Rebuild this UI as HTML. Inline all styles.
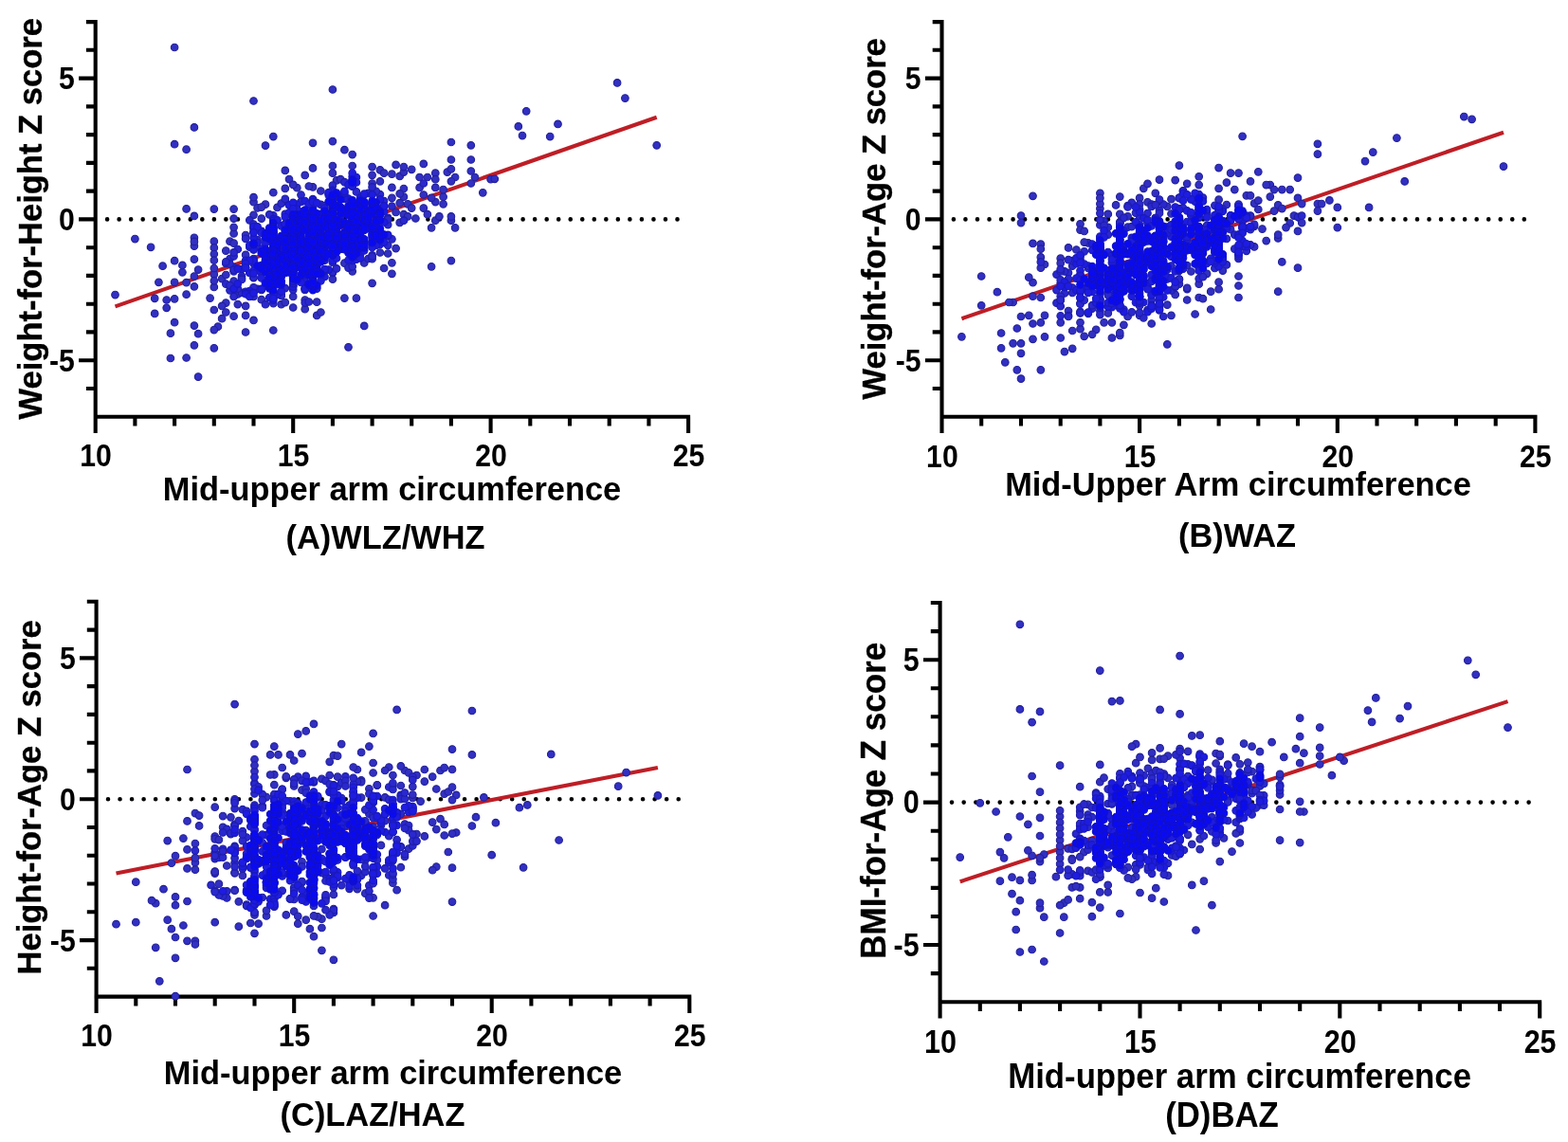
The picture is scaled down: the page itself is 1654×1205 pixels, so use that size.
<!DOCTYPE html>
<html lang="en">
<head>
<meta charset="utf-8">
<title>MUAC versus anthropometric Z scores</title>
<style>
html,body{margin:0;padding:0;background:#fff;}
body{width:1654px;height:1205px;overflow:hidden;}
svg{display:block;}
text{font-family:"Liberation Sans", sans-serif;font-weight:700;fill:#000;stroke:none;}
.tt{font-size:34.4px;}
.tk{font-size:30.2px;}
.yt{stroke:#000;stroke-width:.35px;stroke-linejoin:round;}
.ax{fill:none;stroke:#000;stroke-width:4.1;stroke-linecap:butt;}
.dot{fill:none;stroke:#000;stroke-width:4.6;stroke-linecap:round;}
.reg{stroke:#be1e26;stroke-width:4.1;stroke-linecap:butt;}
.pts circle{stroke-width:1.1;}.c0{fill:#3230c2;stroke:#22209a;}.c1{fill:#2a28ce;stroke:#1e1ea6;}.c2{fill:#1e1ce2;stroke:#1a1ab8;}.c3{fill:#0a0af2;stroke:#1212c8;}
</style>
</head>
<body>
<svg width="1654" height="1205" viewBox="0 0 1654 1205" role="img" aria-label="Scatter plots of mid-upper arm circumference against Z scores">
<rect width="1654" height="1205" fill="#fff"/>
<g id="panelA">
<path class="ax" d="M100.7 21V441.8M98.7 439.7H728.1M100.7 439.7v17.4M142.4 439.7v9.8M184.1 439.7v9.8M225.8 439.7v9.8M267.5 439.7v9.8M309.2 439.7v17.4M350.9 439.7v9.8M392.6 439.7v9.8M434.2 439.7v9.8M475.9 439.7v9.8M517.6 439.7v17.4M559.3 439.7v9.8M601 439.7v9.8M642.7 439.7v9.8M684.4 439.7v9.8M726.1 439.7v17.4M100.7 410h-9.8M100.7 380.2h-17.6M100.7 350.4h-9.8M100.7 320.7h-9.8M100.7 290.9h-9.8M100.7 261.2h-9.8M100.7 231.4h-17.6M100.7 201.6h-9.8M100.7 171.9h-9.8M100.7 142.1h-9.8M100.7 112.4h-9.8M100.7 82.6h-17.6M100.7 52.8h-9.8M100.7 23.1h-9.8"/>
<path class="dot" d="M113.10 231.4H715.10" stroke-dasharray="0 12.5292"/>
<line class="reg" x1="121.5" y1="323.4" x2="692.7" y2="123.7"/>
<g class="pts">
<g class="c0"><circle cx="367.5" cy="366.3" r="3.8"/><circle cx="330" cy="177.4" r="3.8"/><circle cx="184.1" cy="297.8" r="3.8"/><circle cx="175.7" cy="324.8" r="3.8"/><circle cx="159.1" cy="260.8" r="3.8"/><circle cx="267.5" cy="106.5" r="3.8"/><circle cx="375.9" cy="314.6" r="3.8"/><circle cx="459.3" cy="182.7" r="3.8"/><circle cx="501" cy="187" r="3.8"/><circle cx="459.3" cy="189.2" r="3.8"/><circle cx="546.8" cy="133.4" r="3.8"/><circle cx="246.6" cy="333.7" r="3.8"/><circle cx="196.6" cy="377.5" r="3.8"/><circle cx="321.7" cy="184.9" r="3.8"/><circle cx="238.3" cy="319.6" r="3.8"/><circle cx="446.8" cy="205.5" r="3.8"/><circle cx="234.1" cy="322.9" r="3.8"/><circle cx="300.8" cy="179.9" r="3.8"/><circle cx="292.5" cy="218.9" r="3.8"/><circle cx="196.6" cy="310.7" r="3.8"/><circle cx="225.8" cy="254.7" r="3.8"/><circle cx="234.1" cy="294.1" r="3.8"/><circle cx="225.8" cy="327" r="3.8"/><circle cx="350.9" cy="294.6" r="3.8"/><circle cx="121.5" cy="311.1" r="3.8"/><circle cx="204.9" cy="273.6" r="3.8"/><circle cx="425.9" cy="199" r="3.8"/><circle cx="288.3" cy="348.5" r="3.8"/><circle cx="267.5" cy="213.2" r="3.8"/><circle cx="196.6" cy="298.2" r="3.8"/><circle cx="371.7" cy="286.3" r="3.8"/><circle cx="467.6" cy="207.7" r="3.8"/><circle cx="425.9" cy="207.7" r="3.8"/><circle cx="271.6" cy="219.4" r="3.8"/><circle cx="275.8" cy="230.6" r="3.8"/><circle cx="196.6" cy="220.4" r="3.8"/><circle cx="413.4" cy="197.9" r="3.8"/><circle cx="192.4" cy="287.3" r="3.8"/><circle cx="246.6" cy="230.6" r="3.8"/><circle cx="580.2" cy="144.1" r="3.8"/><circle cx="175.7" cy="316.5" r="3.8"/><circle cx="413.4" cy="277.3" r="3.8"/><circle cx="225.8" cy="220.6" r="3.8"/><circle cx="421.7" cy="234.9" r="3.8"/><circle cx="204.9" cy="343.6" r="3.8"/><circle cx="517.6" cy="189.2" r="3.8"/><circle cx="296.7" cy="321.2" r="3.8"/><circle cx="179.9" cy="351.7" r="3.8"/><circle cx="400.9" cy="179.4" r="3.8"/><circle cx="392.6" cy="193.5" r="3.8"/><circle cx="259.1" cy="322.9" r="3.8"/><circle cx="459.3" cy="213.1" r="3.8"/><circle cx="167.4" cy="297.8" r="3.8"/><circle cx="475.9" cy="232.7" r="3.8"/><circle cx="421.7" cy="204.4" r="3.8"/><circle cx="330" cy="197.4" r="3.8"/><circle cx="475.9" cy="168.5" r="3.8"/><circle cx="521.8" cy="188.8" r="3.8"/><circle cx="204.9" cy="302.3" r="3.8"/><circle cx="413.4" cy="183.7" r="3.8"/><circle cx="321.7" cy="316.5" r="3.8"/><circle cx="471.8" cy="181.6" r="3.8"/><circle cx="438.4" cy="230.5" r="3.8"/><circle cx="496.8" cy="153.3" r="3.8"/><circle cx="496.8" cy="193.5" r="3.8"/><circle cx="192.4" cy="279.9" r="3.8"/><circle cx="229.9" cy="344.7" r="3.8"/><circle cx="363.4" cy="314.6" r="3.8"/><circle cx="309.2" cy="324.5" r="3.8"/><circle cx="225.8" cy="348.1" r="3.8"/><circle cx="267.5" cy="337.9" r="3.8"/><circle cx="184.1" cy="50" r="3.8"/><circle cx="409.2" cy="267.5" r="3.8"/><circle cx="267.5" cy="226.8" r="3.8"/><circle cx="334.2" cy="332.9" r="3.8"/><circle cx="659.4" cy="103.6" r="3.8"/><circle cx="163.2" cy="330.9" r="3.8"/><circle cx="234.1" cy="336.2" r="3.8"/><circle cx="184.1" cy="340.2" r="3.8"/><circle cx="204.9" cy="364.3" r="3.8"/><circle cx="480.1" cy="240.3" r="3.8"/><circle cx="430.1" cy="215.3" r="3.8"/><circle cx="163.2" cy="314.8" r="3.8"/><circle cx="692.7" cy="153.3" r="3.8"/><circle cx="238.3" cy="264.6" r="3.8"/><circle cx="475.9" cy="150" r="3.8"/><circle cx="350.9" cy="149.1" r="3.8"/><circle cx="417.6" cy="224" r="3.8"/><circle cx="455.1" cy="281.3" r="3.8"/><circle cx="325.8" cy="196.5" r="3.8"/><circle cx="459.3" cy="232.7" r="3.8"/><circle cx="434.2" cy="219.6" r="3.8"/><circle cx="225.8" cy="261.4" r="3.8"/><circle cx="400.9" cy="266.5" r="3.8"/><circle cx="309.2" cy="312.9" r="3.8"/><circle cx="225.8" cy="289.6" r="3.8"/><circle cx="221.6" cy="314.6" r="3.8"/><circle cx="350.9" cy="94.5" r="3.8"/><circle cx="242.5" cy="254.7" r="3.8"/><circle cx="305" cy="189.1" r="3.8"/><circle cx="475.9" cy="228.4" r="3.8"/><circle cx="179.9" cy="378" r="3.8"/><circle cx="334.2" cy="318.7" r="3.8"/><circle cx="392.6" cy="176.1" r="3.8"/><circle cx="363.4" cy="158.2" r="3.8"/><circle cx="392.6" cy="184.8" r="3.8"/><circle cx="371.7" cy="175" r="3.8"/><circle cx="496.8" cy="180.5" r="3.8"/><circle cx="446.8" cy="172.9" r="3.8"/><circle cx="275.8" cy="316.2" r="3.8"/><circle cx="204.9" cy="259.6" r="3.8"/><circle cx="355" cy="190.3" r="3.8"/><circle cx="446.8" cy="219.6" r="3.8"/><circle cx="171.6" cy="280.7" r="3.8"/><circle cx="204.9" cy="227.9" r="3.8"/><circle cx="225.8" cy="283" r="3.8"/><circle cx="405.1" cy="182.7" r="3.8"/><circle cx="209.1" cy="284.6" r="3.8"/><circle cx="204.9" cy="250.8" r="3.8"/><circle cx="555.2" cy="117.3" r="3.8"/><circle cx="288.3" cy="203.2" r="3.8"/><circle cx="238.3" cy="329.5" r="3.8"/><circle cx="421.7" cy="185.9" r="3.8"/><circle cx="359.2" cy="189.2" r="3.8"/><circle cx="184.1" cy="315.3" r="3.8"/><circle cx="142.4" cy="252.1" r="3.8"/><circle cx="450.9" cy="187" r="3.8"/><circle cx="384.2" cy="343.9" r="3.8"/><circle cx="467.6" cy="200.1" r="3.8"/><circle cx="551" cy="143.1" r="3.8"/><circle cx="280" cy="153.6" r="3.8"/><circle cx="313.3" cy="198.2" r="3.8"/><circle cx="225.8" cy="302.9" r="3.8"/><circle cx="480.1" cy="187" r="3.8"/><circle cx="442.6" cy="187" r="3.8"/><circle cx="259.1" cy="350.5" r="3.8"/><circle cx="238.3" cy="290" r="3.8"/><circle cx="321.7" cy="326.2" r="3.8"/><circle cx="421.7" cy="214.2" r="3.8"/><circle cx="246.6" cy="246.4" r="3.8"/><circle cx="246.6" cy="256.7" r="3.8"/><circle cx="425.9" cy="181.6" r="3.8"/><circle cx="455.1" cy="240.3" r="3.8"/><circle cx="496.8" cy="168.5" r="3.8"/><circle cx="417.6" cy="262.1" r="3.8"/><circle cx="338.4" cy="201.5" r="3.8"/><circle cx="425.9" cy="226.2" r="3.8"/><circle cx="267.5" cy="208.2" r="3.8"/><circle cx="371.7" cy="163.1" r="3.8"/><circle cx="475.9" cy="191.3" r="3.8"/><circle cx="392.6" cy="298.8" r="3.8"/><circle cx="434.2" cy="178.8" r="3.8"/><circle cx="330" cy="150.8" r="3.8"/><circle cx="250.8" cy="321.1" r="3.8"/><circle cx="588.5" cy="130.9" r="3.8"/><circle cx="338.4" cy="329.5" r="3.8"/><circle cx="350.9" cy="175" r="3.8"/><circle cx="463.4" cy="228.4" r="3.8"/><circle cx="442.6" cy="197.9" r="3.8"/><circle cx="350.9" cy="182.7" r="3.8"/><circle cx="467.6" cy="215.3" r="3.8"/><circle cx="259.1" cy="332.9" r="3.8"/><circle cx="509.3" cy="203.3" r="3.8"/><circle cx="259.1" cy="248.1" r="3.8"/><circle cx="184.1" cy="152.2" r="3.8"/><circle cx="204.9" cy="291.5" r="3.8"/><circle cx="246.6" cy="220.6" r="3.8"/><circle cx="280" cy="215.7" r="3.8"/><circle cx="309.2" cy="194.9" r="3.8"/><circle cx="400.9" cy="191.3" r="3.8"/><circle cx="475.9" cy="178.3" r="3.8"/><circle cx="259.1" cy="268.9" r="3.8"/><circle cx="225.8" cy="268" r="3.8"/><circle cx="413.4" cy="288.8" r="3.8"/><circle cx="475.9" cy="275.1" r="3.8"/><circle cx="209.1" cy="352.2" r="3.8"/><circle cx="275.8" cy="218.6" r="3.8"/><circle cx="363.4" cy="277.7" r="3.8"/><circle cx="450.9" cy="226.2" r="3.8"/><circle cx="300.8" cy="319.1" r="3.8"/><circle cx="651.1" cy="87.4" r="3.8"/><circle cx="209.1" cy="397.6" r="3.8"/><circle cx="225.8" cy="367.3" r="3.8"/><circle cx="425.9" cy="176.1" r="3.8"/><circle cx="430.1" cy="228.4" r="3.8"/><circle cx="300.8" cy="198.9" r="3.8"/><circle cx="196.6" cy="157.7" r="3.8"/><circle cx="184.1" cy="275.2" r="3.8"/><circle cx="225.8" cy="274.7" r="3.8"/><circle cx="384.2" cy="277.5" r="3.8"/><circle cx="455.1" cy="208.8" r="3.8"/><circle cx="204.9" cy="134.4" r="3.8"/><circle cx="417.6" cy="173.9" r="3.8"/><circle cx="413.4" cy="208.8" r="3.8"/><circle cx="246.6" cy="239.8" r="3.8"/><circle cx="225.8" cy="296.3" r="3.8"/><circle cx="288.3" cy="144.1" r="3.8"/><circle cx="204.9" cy="254.9" r="3.8"/><circle cx="405.1" cy="283" r="3.8"/><circle cx="459.3" cy="197.9" r="3.8"/></g><g class="c1"><circle cx="242.5" cy="273" r="3.8"/><circle cx="409.2" cy="258.8" r="3.8"/><circle cx="250.8" cy="310.3" r="3.8"/><circle cx="400.9" cy="205.2" r="3.8"/><circle cx="246.6" cy="286.3" r="3.8"/><circle cx="296.7" cy="311.2" r="3.8"/><circle cx="267.5" cy="293.2" r="3.8"/><circle cx="338.4" cy="215.9" r="3.8"/><circle cx="280" cy="321.2" r="3.8"/><circle cx="300.8" cy="225.9" r="3.8"/><circle cx="263.3" cy="232.3" r="3.8"/><circle cx="288.3" cy="227.3" r="3.8"/><circle cx="259.1" cy="251.8" r="3.8"/><circle cx="246.6" cy="296.7" r="3.8"/><circle cx="246.6" cy="312.9" r="3.8"/><circle cx="246.6" cy="270.3" r="3.8"/><circle cx="321.7" cy="319.6" r="3.8"/><circle cx="321.7" cy="306" r="3.8"/><circle cx="363.4" cy="192.2" r="3.8"/><circle cx="246.6" cy="282.2" r="3.8"/><circle cx="317.5" cy="205.6" r="3.8"/><circle cx="350.9" cy="287.8" r="3.8"/><circle cx="405.1" cy="212" r="3.8"/><circle cx="267.5" cy="292.7" r="3.8"/><circle cx="300.8" cy="212.4" r="3.8"/><circle cx="267.5" cy="273.1" r="3.8"/><circle cx="392.6" cy="269.4" r="3.8"/><circle cx="396.7" cy="201.8" r="3.8"/><circle cx="409.2" cy="229.9" r="3.8"/><circle cx="250.8" cy="263" r="3.8"/><circle cx="267.5" cy="236.7" r="3.8"/><circle cx="388.4" cy="203.9" r="3.8"/><circle cx="388.4" cy="273" r="3.8"/><circle cx="325.8" cy="318.5" r="3.8"/><circle cx="275.8" cy="305.9" r="3.8"/><circle cx="238.3" cy="278" r="3.8"/><circle cx="446.8" cy="193.5" r="3.8"/><circle cx="375.9" cy="202.4" r="3.8"/><circle cx="255" cy="308.8" r="3.8"/><circle cx="350.9" cy="287" r="3.8"/><circle cx="284.2" cy="226.4" r="3.8"/><circle cx="392.6" cy="273.2" r="3.8"/><circle cx="242.5" cy="278.7" r="3.8"/><circle cx="367.5" cy="282.6" r="3.8"/><circle cx="238.3" cy="299.6" r="3.8"/><circle cx="413.4" cy="217.5" r="3.8"/><circle cx="392.6" cy="270.5" r="3.8"/><circle cx="250.8" cy="304.5" r="3.8"/><circle cx="296.7" cy="312" r="3.8"/><circle cx="425.9" cy="232.7" r="3.8"/><circle cx="409.2" cy="237.1" r="3.8"/><circle cx="330" cy="210.2" r="3.8"/><circle cx="267.5" cy="241" r="3.8"/><circle cx="392.6" cy="197.4" r="3.8"/><circle cx="255" cy="291.3" r="3.8"/><circle cx="238.3" cy="276.4" r="3.8"/><circle cx="342.5" cy="217.2" r="3.8"/><circle cx="350.9" cy="195.7" r="3.8"/><circle cx="255" cy="293.6" r="3.8"/><circle cx="271.6" cy="253.2" r="3.8"/><circle cx="371.7" cy="281.3" r="3.8"/><circle cx="296.7" cy="214.7" r="3.8"/><circle cx="309.2" cy="216.5" r="3.8"/><circle cx="242.5" cy="306.3" r="3.8"/><circle cx="271.6" cy="304.8" r="3.8"/><circle cx="300.8" cy="304.1" r="3.8"/><circle cx="350.9" cy="277" r="3.8"/><circle cx="309.2" cy="305.8" r="3.8"/><circle cx="409.2" cy="231.4" r="3.8"/><circle cx="288.3" cy="320.2" r="3.8"/><circle cx="246.6" cy="284.7" r="3.8"/><circle cx="355" cy="283.4" r="3.8"/><circle cx="317.5" cy="212.9" r="3.8"/><circle cx="300.8" cy="209.8" r="3.8"/><circle cx="267.5" cy="312.9" r="3.8"/><circle cx="413.4" cy="252.3" r="3.8"/><circle cx="267.5" cy="303.3" r="3.8"/><circle cx="246.6" cy="266.4" r="3.8"/><circle cx="242.5" cy="301.2" r="3.8"/><circle cx="255" cy="294.9" r="3.8"/></g><g class="c2"><circle cx="400.9" cy="256.6" r="3.8"/><circle cx="400.9" cy="257.9" r="3.8"/><circle cx="296.7" cy="238.3" r="3.8"/><circle cx="280" cy="251.5" r="3.8"/><circle cx="371.7" cy="214.2" r="3.8"/><circle cx="259.1" cy="307.8" r="3.8"/><circle cx="288.3" cy="316.7" r="3.8"/><circle cx="321.7" cy="292.2" r="3.8"/><circle cx="330" cy="219.9" r="3.8"/><circle cx="346.7" cy="204.2" r="3.8"/><circle cx="409.2" cy="249" r="3.8"/><circle cx="350.9" cy="200.9" r="3.8"/><circle cx="292.5" cy="310.8" r="3.8"/><circle cx="371.7" cy="186.3" r="3.8"/><circle cx="271.6" cy="256.1" r="3.8"/><circle cx="342.5" cy="292" r="3.8"/><circle cx="288.3" cy="309" r="3.8"/><circle cx="405.1" cy="223.2" r="3.8"/><circle cx="400.9" cy="210.4" r="3.8"/><circle cx="405.1" cy="234.5" r="3.8"/><circle cx="342.5" cy="274.7" r="3.8"/><circle cx="371.7" cy="196.6" r="3.8"/><circle cx="275.8" cy="286.5" r="3.8"/><circle cx="392.6" cy="258.2" r="3.8"/><circle cx="280" cy="297.4" r="3.8"/><circle cx="330" cy="211.9" r="3.8"/><circle cx="263.3" cy="260.7" r="3.8"/><circle cx="300.8" cy="236.8" r="3.8"/><circle cx="288.3" cy="231.1" r="3.8"/><circle cx="405.1" cy="255.6" r="3.8"/><circle cx="263.3" cy="307" r="3.8"/><circle cx="259.1" cy="282.3" r="3.8"/><circle cx="396.7" cy="258.9" r="3.8"/><circle cx="305" cy="224.3" r="3.8"/><circle cx="346.7" cy="205.8" r="3.8"/><circle cx="392.6" cy="254.8" r="3.8"/><circle cx="288.3" cy="310.7" r="3.8"/><circle cx="284.2" cy="314.1" r="3.8"/><circle cx="338.4" cy="296.3" r="3.8"/><circle cx="367.5" cy="195" r="3.8"/><circle cx="309.2" cy="301.3" r="3.8"/><circle cx="321.7" cy="304.2" r="3.8"/><circle cx="375.9" cy="187.1" r="3.8"/><circle cx="275.8" cy="243.9" r="3.8"/><circle cx="267.5" cy="262.8" r="3.8"/><circle cx="267.5" cy="244.9" r="3.8"/><circle cx="371.7" cy="182.7" r="3.8"/><circle cx="267.5" cy="278.2" r="3.8"/><circle cx="275.8" cy="288.1" r="3.8"/><circle cx="313.3" cy="215.8" r="3.8"/><circle cx="259.1" cy="274.9" r="3.8"/><circle cx="321.7" cy="304.6" r="3.8"/><circle cx="255" cy="284" r="3.8"/><circle cx="359.2" cy="207.3" r="3.8"/><circle cx="300.8" cy="229" r="3.8"/><circle cx="275.8" cy="245.7" r="3.8"/><circle cx="367.5" cy="209.5" r="3.8"/><circle cx="392.6" cy="261" r="3.8"/><circle cx="330" cy="210.5" r="3.8"/><circle cx="342.5" cy="219.6" r="3.8"/><circle cx="271.6" cy="285.2" r="3.8"/><circle cx="280" cy="256.4" r="3.8"/><circle cx="263.3" cy="288" r="3.8"/><circle cx="267.5" cy="239.2" r="3.8"/><circle cx="405.1" cy="217.4" r="3.8"/><circle cx="288.3" cy="232.8" r="3.8"/><circle cx="292.5" cy="232.3" r="3.8"/><circle cx="300.8" cy="236.4" r="3.8"/><circle cx="309.2" cy="300.4" r="3.8"/><circle cx="275.8" cy="262.6" r="3.8"/><circle cx="371.7" cy="274.9" r="3.8"/><circle cx="375.9" cy="273.7" r="3.8"/><circle cx="392.6" cy="205.4" r="3.8"/><circle cx="405.1" cy="217.5" r="3.8"/><circle cx="263.3" cy="310.1" r="3.8"/><circle cx="267.5" cy="263.5" r="3.8"/><circle cx="380" cy="268.5" r="3.8"/><circle cx="321.7" cy="212.1" r="3.8"/><circle cx="309.2" cy="302.6" r="3.8"/><circle cx="380" cy="208.5" r="3.8"/><circle cx="288.3" cy="315" r="3.8"/><circle cx="384.2" cy="205.5" r="3.8"/><circle cx="267.5" cy="260.6" r="3.8"/><circle cx="350.9" cy="202.8" r="3.8"/><circle cx="338.4" cy="225.9" r="3.8"/><circle cx="267.5" cy="285.5" r="3.8"/><circle cx="350.9" cy="275.1" r="3.8"/><circle cx="317.5" cy="223.5" r="3.8"/><circle cx="380" cy="272.5" r="3.8"/><circle cx="363.4" cy="210" r="3.8"/><circle cx="246.6" cy="304.8" r="3.8"/><circle cx="363.4" cy="208.9" r="3.8"/><circle cx="321.7" cy="296.9" r="3.8"/><circle cx="313.3" cy="220.8" r="3.8"/><circle cx="280" cy="301.5" r="3.8"/><circle cx="409.2" cy="247.9" r="3.8"/><circle cx="267.5" cy="274.3" r="3.8"/><circle cx="325.8" cy="215.6" r="3.8"/><circle cx="342.5" cy="285.4" r="3.8"/><circle cx="250.8" cy="283.7" r="3.8"/><circle cx="275.8" cy="293.3" r="3.8"/><circle cx="259.1" cy="310.2" r="3.8"/><circle cx="267.5" cy="263.1" r="3.8"/><circle cx="250.8" cy="299.6" r="3.8"/><circle cx="334.2" cy="303" r="3.8"/><circle cx="271.6" cy="239.4" r="3.8"/><circle cx="267.5" cy="275.3" r="3.8"/><circle cx="317.5" cy="298" r="3.8"/><circle cx="375.9" cy="192.4" r="3.8"/><circle cx="367.5" cy="274.5" r="3.8"/><circle cx="305" cy="216.4" r="3.8"/><circle cx="346.7" cy="284.6" r="3.8"/><circle cx="359.2" cy="207.2" r="3.8"/><circle cx="363.4" cy="203.9" r="3.8"/><circle cx="267.5" cy="250.9" r="3.8"/><circle cx="363.4" cy="201.8" r="3.8"/><circle cx="338.4" cy="290" r="3.8"/><circle cx="263.3" cy="274.9" r="3.8"/><circle cx="355" cy="272.5" r="3.8"/><circle cx="263.3" cy="258.7" r="3.8"/><circle cx="267.5" cy="288.4" r="3.8"/><circle cx="334.2" cy="304.6" r="3.8"/><circle cx="259.1" cy="278" r="3.8"/><circle cx="342.5" cy="284.8" r="3.8"/><circle cx="267.5" cy="245.4" r="3.8"/><circle cx="384.2" cy="264.3" r="3.8"/><circle cx="330" cy="213.1" r="3.8"/><circle cx="259.1" cy="282.6" r="3.8"/><circle cx="359.2" cy="231.7" r="3.8"/><circle cx="275.8" cy="304.9" r="3.8"/><circle cx="309.2" cy="299.1" r="3.8"/><circle cx="346.7" cy="203.2" r="3.8"/><circle cx="296.7" cy="307.4" r="3.8"/><circle cx="342.5" cy="284.1" r="3.8"/><circle cx="263.3" cy="312.9" r="3.8"/><circle cx="334.2" cy="214.2" r="3.8"/><circle cx="384.2" cy="204.7" r="3.8"/><circle cx="309.2" cy="213.9" r="3.8"/><circle cx="267.5" cy="309.2" r="3.8"/><circle cx="309.2" cy="220.3" r="3.8"/><circle cx="309.2" cy="296.6" r="3.8"/><circle cx="392.6" cy="250.8" r="3.8"/><circle cx="371.7" cy="196.3" r="3.8"/></g><g class="c3"><circle cx="288.3" cy="235.3" r="3.8"/><circle cx="371.7" cy="211.4" r="3.8"/><circle cx="359.2" cy="257.2" r="3.8"/><circle cx="330" cy="276.1" r="3.8"/><circle cx="338.4" cy="251.6" r="3.8"/><circle cx="309.2" cy="266.2" r="3.8"/><circle cx="296.7" cy="255.2" r="3.8"/><circle cx="288.3" cy="270.9" r="3.8"/><circle cx="334.2" cy="264.6" r="3.8"/><circle cx="321.7" cy="237.6" r="3.8"/><circle cx="317.5" cy="283" r="3.8"/><circle cx="380" cy="228.6" r="3.8"/><circle cx="330" cy="242.9" r="3.8"/><circle cx="371.7" cy="238.6" r="3.8"/><circle cx="355" cy="249.4" r="3.8"/><circle cx="359.2" cy="250.9" r="3.8"/><circle cx="371.7" cy="238.8" r="3.8"/><circle cx="313.3" cy="226.5" r="3.8"/><circle cx="350.9" cy="269.2" r="3.8"/><circle cx="330" cy="274.6" r="3.8"/><circle cx="334.2" cy="256" r="3.8"/><circle cx="309.2" cy="247.5" r="3.8"/><circle cx="350.9" cy="248" r="3.8"/><circle cx="371.7" cy="237.1" r="3.8"/><circle cx="330" cy="306.1" r="3.8"/><circle cx="317.5" cy="226.1" r="3.8"/><circle cx="380" cy="254.1" r="3.8"/><circle cx="334.2" cy="246.4" r="3.8"/><circle cx="317.5" cy="242.9" r="3.8"/><circle cx="375.9" cy="244.3" r="3.8"/><circle cx="400.9" cy="249.3" r="3.8"/><circle cx="350.9" cy="252.9" r="3.8"/><circle cx="288.3" cy="289.5" r="3.8"/><circle cx="321.7" cy="278.1" r="3.8"/><circle cx="330" cy="299.5" r="3.8"/><circle cx="363.4" cy="257.6" r="3.8"/><circle cx="288.3" cy="272.8" r="3.8"/><circle cx="350.9" cy="264.4" r="3.8"/><circle cx="296.7" cy="292" r="3.8"/><circle cx="388.4" cy="233" r="3.8"/><circle cx="359.2" cy="219.3" r="3.8"/><circle cx="350.9" cy="229" r="3.8"/><circle cx="300.8" cy="273.9" r="3.8"/><circle cx="309.2" cy="262.7" r="3.8"/><circle cx="350.9" cy="250.7" r="3.8"/><circle cx="305" cy="274.5" r="3.8"/><circle cx="330" cy="244.8" r="3.8"/><circle cx="350.9" cy="254" r="3.8"/><circle cx="309.2" cy="226.4" r="3.8"/><circle cx="309.2" cy="232.1" r="3.8"/><circle cx="400.9" cy="231.5" r="3.8"/><circle cx="317.5" cy="260.2" r="3.8"/><circle cx="325.8" cy="249.3" r="3.8"/><circle cx="363.4" cy="250.4" r="3.8"/><circle cx="321.7" cy="255.7" r="3.8"/><circle cx="350.9" cy="256" r="3.8"/><circle cx="313.3" cy="279.9" r="3.8"/><circle cx="309.2" cy="268.3" r="3.8"/><circle cx="330" cy="251.9" r="3.8"/><circle cx="284.2" cy="280.8" r="3.8"/><circle cx="330" cy="285.4" r="3.8"/><circle cx="346.7" cy="254.5" r="3.8"/><circle cx="338.4" cy="267.8" r="3.8"/><circle cx="321.7" cy="264.3" r="3.8"/><circle cx="309.2" cy="245.1" r="3.8"/><circle cx="309.2" cy="285.1" r="3.8"/><circle cx="371.7" cy="237.1" r="3.8"/><circle cx="292.5" cy="295.8" r="3.8"/><circle cx="371.7" cy="243.1" r="3.8"/><circle cx="346.7" cy="247.8" r="3.8"/><circle cx="309.2" cy="252.5" r="3.8"/><circle cx="325.8" cy="226.5" r="3.8"/><circle cx="275.8" cy="280.1" r="3.8"/><circle cx="371.7" cy="243.7" r="3.8"/><circle cx="346.7" cy="253.3" r="3.8"/><circle cx="292.5" cy="298.3" r="3.8"/><circle cx="313.3" cy="249.8" r="3.8"/><circle cx="309.2" cy="281.2" r="3.8"/><circle cx="367.5" cy="244.8" r="3.8"/><circle cx="321.7" cy="266.3" r="3.8"/><circle cx="288.3" cy="292.6" r="3.8"/><circle cx="396.7" cy="238.1" r="3.8"/><circle cx="309.2" cy="287.3" r="3.8"/><circle cx="396.7" cy="213.6" r="3.8"/><circle cx="292.5" cy="263.7" r="3.8"/><circle cx="396.7" cy="232.1" r="3.8"/><circle cx="313.3" cy="252.9" r="3.8"/><circle cx="309.2" cy="261.8" r="3.8"/><circle cx="371.7" cy="227.3" r="3.8"/><circle cx="309.2" cy="275.2" r="3.8"/><circle cx="371.7" cy="236.9" r="3.8"/><circle cx="321.7" cy="272.4" r="3.8"/><circle cx="342.5" cy="232.1" r="3.8"/><circle cx="309.2" cy="253.7" r="3.8"/><circle cx="288.3" cy="299.1" r="3.8"/><circle cx="350.9" cy="220.3" r="3.8"/><circle cx="325.8" cy="241.9" r="3.8"/><circle cx="288.3" cy="272" r="3.8"/><circle cx="309.2" cy="294.2" r="3.8"/><circle cx="330" cy="252.7" r="3.8"/><circle cx="359.2" cy="237.4" r="3.8"/><circle cx="346.7" cy="257.8" r="3.8"/><circle cx="371.7" cy="254.2" r="3.8"/><circle cx="288.3" cy="277.5" r="3.8"/><circle cx="330" cy="232.8" r="3.8"/><circle cx="309.2" cy="255.1" r="3.8"/><circle cx="330" cy="278" r="3.8"/><circle cx="338.4" cy="252.3" r="3.8"/><circle cx="342.5" cy="272.1" r="3.8"/><circle cx="346.7" cy="237.6" r="3.8"/><circle cx="309.2" cy="260.1" r="3.8"/><circle cx="305" cy="287.3" r="3.8"/><circle cx="330" cy="274.2" r="3.8"/><circle cx="350.9" cy="215.5" r="3.8"/><circle cx="288.3" cy="291.6" r="3.8"/><circle cx="325.8" cy="254.5" r="3.8"/><circle cx="338.4" cy="259.2" r="3.8"/><circle cx="350.9" cy="237.4" r="3.8"/><circle cx="317.5" cy="268.9" r="3.8"/><circle cx="288.3" cy="256" r="3.8"/><circle cx="330" cy="301.3" r="3.8"/><circle cx="288.3" cy="247.4" r="3.8"/><circle cx="313.3" cy="282.2" r="3.8"/><circle cx="371.7" cy="190.3" r="3.8"/><circle cx="292.5" cy="298.8" r="3.8"/><circle cx="330" cy="282.6" r="3.8"/><circle cx="380" cy="212.2" r="3.8"/><circle cx="355" cy="217.4" r="3.8"/><circle cx="288.3" cy="262.8" r="3.8"/><circle cx="371.7" cy="251.5" r="3.8"/><circle cx="350.9" cy="244" r="3.8"/><circle cx="367.5" cy="247.2" r="3.8"/><circle cx="371.7" cy="235.6" r="3.8"/><circle cx="380" cy="250.2" r="3.8"/><circle cx="309.2" cy="287.5" r="3.8"/><circle cx="375.9" cy="215.7" r="3.8"/><circle cx="330" cy="278.6" r="3.8"/><circle cx="346.7" cy="253.3" r="3.8"/><circle cx="296.7" cy="274" r="3.8"/><circle cx="371.7" cy="262.3" r="3.8"/><circle cx="350.9" cy="269.3" r="3.8"/><circle cx="367.5" cy="241.8" r="3.8"/><circle cx="288.3" cy="266.8" r="3.8"/><circle cx="317.5" cy="262.9" r="3.8"/><circle cx="292.5" cy="257.7" r="3.8"/><circle cx="267.5" cy="258.1" r="3.8"/><circle cx="325.8" cy="258.5" r="3.8"/><circle cx="392.6" cy="239.7" r="3.8"/><circle cx="288.3" cy="287.9" r="3.8"/><circle cx="338.4" cy="259.8" r="3.8"/><circle cx="313.3" cy="265.8" r="3.8"/><circle cx="330" cy="294.2" r="3.8"/><circle cx="288.3" cy="283.7" r="3.8"/><circle cx="296.7" cy="268.5" r="3.8"/><circle cx="309.2" cy="244.1" r="3.8"/><circle cx="317.5" cy="249.8" r="3.8"/><circle cx="388.4" cy="234.6" r="3.8"/><circle cx="309.2" cy="269.5" r="3.8"/><circle cx="313.3" cy="261.8" r="3.8"/><circle cx="284.2" cy="281.4" r="3.8"/><circle cx="321.7" cy="271.8" r="3.8"/><circle cx="288.3" cy="243.9" r="3.8"/><circle cx="392.6" cy="238.8" r="3.8"/><circle cx="375.9" cy="241.6" r="3.8"/><circle cx="313.3" cy="276.7" r="3.8"/><circle cx="309.2" cy="251.5" r="3.8"/><circle cx="350.9" cy="249.8" r="3.8"/><circle cx="330" cy="256.8" r="3.8"/><circle cx="309.2" cy="277.7" r="3.8"/><circle cx="350.9" cy="214.7" r="3.8"/><circle cx="392.6" cy="225.3" r="3.8"/><circle cx="330" cy="239" r="3.8"/><circle cx="309.2" cy="264.4" r="3.8"/><circle cx="384.2" cy="261.3" r="3.8"/><circle cx="350.9" cy="246" r="3.8"/><circle cx="309.2" cy="292.3" r="3.8"/><circle cx="342.5" cy="249.2" r="3.8"/><circle cx="350.9" cy="250.9" r="3.8"/><circle cx="330" cy="250.3" r="3.8"/><circle cx="305" cy="271.3" r="3.8"/><circle cx="309.2" cy="229.2" r="3.8"/><circle cx="296.7" cy="300.3" r="3.8"/><circle cx="280" cy="246.3" r="3.8"/><circle cx="267.5" cy="256.8" r="3.8"/><circle cx="325.8" cy="278.2" r="3.8"/><circle cx="346.7" cy="240.8" r="3.8"/><circle cx="346.7" cy="243.8" r="3.8"/><circle cx="280" cy="250.3" r="3.8"/><circle cx="330" cy="291.9" r="3.8"/><circle cx="284.2" cy="266.4" r="3.8"/><circle cx="292.5" cy="296.6" r="3.8"/><circle cx="371.7" cy="243.9" r="3.8"/><circle cx="309.2" cy="232.9" r="3.8"/><circle cx="330" cy="299.3" r="3.8"/><circle cx="325.8" cy="226.6" r="3.8"/><circle cx="350.9" cy="239.3" r="3.8"/><circle cx="380" cy="223.5" r="3.8"/><circle cx="388.4" cy="241.2" r="3.8"/><circle cx="363.4" cy="247.6" r="3.8"/><circle cx="363.4" cy="245.5" r="3.8"/><circle cx="321.7" cy="254.5" r="3.8"/><circle cx="359.2" cy="247.9" r="3.8"/><circle cx="350.9" cy="214.8" r="3.8"/><circle cx="330" cy="229" r="3.8"/><circle cx="317.5" cy="259.8" r="3.8"/><circle cx="330" cy="267.7" r="3.8"/><circle cx="288.3" cy="237.7" r="3.8"/><circle cx="396.7" cy="240.9" r="3.8"/><circle cx="359.2" cy="234" r="3.8"/><circle cx="288.3" cy="256.9" r="3.8"/><circle cx="350.9" cy="225.7" r="3.8"/><circle cx="384.2" cy="243" r="3.8"/><circle cx="342.5" cy="258.3" r="3.8"/><circle cx="350.9" cy="249.8" r="3.8"/><circle cx="371.7" cy="247" r="3.8"/><circle cx="342.5" cy="237.6" r="3.8"/><circle cx="309.2" cy="242.3" r="3.8"/><circle cx="288.3" cy="251.3" r="3.8"/><circle cx="330" cy="238.2" r="3.8"/><circle cx="292.5" cy="260.7" r="3.8"/><circle cx="346.7" cy="225.9" r="3.8"/><circle cx="305" cy="265" r="3.8"/><circle cx="288.3" cy="283.9" r="3.8"/><circle cx="288.3" cy="262.9" r="3.8"/><circle cx="338.4" cy="233.3" r="3.8"/><circle cx="284.2" cy="279.1" r="3.8"/><circle cx="309.2" cy="242.4" r="3.8"/><circle cx="396.7" cy="238.3" r="3.8"/><circle cx="309.2" cy="284.2" r="3.8"/><circle cx="392.6" cy="246.7" r="3.8"/><circle cx="334.2" cy="232.6" r="3.8"/><circle cx="384.2" cy="213.7" r="3.8"/><circle cx="375.9" cy="241.2" r="3.8"/><circle cx="321.7" cy="256.5" r="3.8"/><circle cx="380" cy="223" r="3.8"/><circle cx="305" cy="255.4" r="3.8"/><circle cx="280" cy="298.7" r="3.8"/><circle cx="330" cy="231.1" r="3.8"/><circle cx="325.8" cy="230.1" r="3.8"/><circle cx="300.8" cy="288" r="3.8"/><circle cx="280" cy="276.1" r="3.8"/><circle cx="375.9" cy="234.5" r="3.8"/><circle cx="325.8" cy="241.9" r="3.8"/><circle cx="392.6" cy="223" r="3.8"/><circle cx="392.6" cy="256.1" r="3.8"/><circle cx="371.7" cy="234.6" r="3.8"/><circle cx="371.7" cy="267.5" r="3.8"/><circle cx="388.4" cy="230.7" r="3.8"/><circle cx="371.7" cy="232" r="3.8"/><circle cx="305" cy="246.3" r="3.8"/><circle cx="375.9" cy="260.5" r="3.8"/><circle cx="350.9" cy="234.2" r="3.8"/><circle cx="330" cy="222.1" r="3.8"/><circle cx="284.2" cy="266.1" r="3.8"/><circle cx="330" cy="276.2" r="3.8"/><circle cx="288.3" cy="245.4" r="3.8"/><circle cx="330" cy="300.3" r="3.8"/><circle cx="363.4" cy="251.8" r="3.8"/><circle cx="367.5" cy="260.1" r="3.8"/><circle cx="384.2" cy="226.3" r="3.8"/><circle cx="350.9" cy="267.9" r="3.8"/><circle cx="305" cy="282.4" r="3.8"/><circle cx="288.3" cy="244.6" r="3.8"/><circle cx="334.2" cy="257.7" r="3.8"/><circle cx="321.7" cy="241.7" r="3.8"/><circle cx="371.7" cy="191.1" r="3.8"/><circle cx="300.8" cy="266.4" r="3.8"/><circle cx="371.7" cy="232.5" r="3.8"/><circle cx="330" cy="274.3" r="3.8"/><circle cx="309.2" cy="250.4" r="3.8"/><circle cx="350.9" cy="222.1" r="3.8"/><circle cx="330" cy="276.2" r="3.8"/><circle cx="288.3" cy="273.7" r="3.8"/><circle cx="292.5" cy="279.9" r="3.8"/><circle cx="350.9" cy="222.8" r="3.8"/><circle cx="371.7" cy="221.1" r="3.8"/><circle cx="288.3" cy="286.1" r="3.8"/><circle cx="346.7" cy="240.7" r="3.8"/><circle cx="371.7" cy="233.3" r="3.8"/><circle cx="305" cy="278.5" r="3.8"/><circle cx="309.2" cy="287.9" r="3.8"/><circle cx="350.9" cy="255.2" r="3.8"/><circle cx="371.7" cy="217.1" r="3.8"/><circle cx="380" cy="245.1" r="3.8"/><circle cx="355" cy="242.4" r="3.8"/><circle cx="392.6" cy="219.1" r="3.8"/><circle cx="292.5" cy="278.1" r="3.8"/><circle cx="350.9" cy="249" r="3.8"/><circle cx="317.5" cy="239.6" r="3.8"/><circle cx="309.2" cy="267.2" r="3.8"/><circle cx="317.5" cy="262.4" r="3.8"/><circle cx="380" cy="247.9" r="3.8"/><circle cx="321.7" cy="267.9" r="3.8"/><circle cx="309.2" cy="281.6" r="3.8"/><circle cx="305" cy="286.8" r="3.8"/><circle cx="367.5" cy="222.1" r="3.8"/><circle cx="275.8" cy="281" r="3.8"/><circle cx="392.6" cy="248.4" r="3.8"/><circle cx="363.4" cy="245.4" r="3.8"/><circle cx="325.8" cy="261" r="3.8"/><circle cx="371.7" cy="219.1" r="3.8"/><circle cx="309.2" cy="285.3" r="3.8"/><circle cx="342.5" cy="271.6" r="3.8"/><circle cx="292.5" cy="275.4" r="3.8"/><circle cx="325.8" cy="228.3" r="3.8"/><circle cx="271.6" cy="280.5" r="3.8"/><circle cx="342.5" cy="263.8" r="3.8"/><circle cx="330" cy="273.4" r="3.8"/><circle cx="309.2" cy="244.2" r="3.8"/><circle cx="400.9" cy="224.7" r="3.8"/><circle cx="396.7" cy="217.4" r="3.8"/><circle cx="284.2" cy="304.3" r="3.8"/><circle cx="350.9" cy="239.9" r="3.8"/><circle cx="371.7" cy="191.9" r="3.8"/><circle cx="371.7" cy="255.9" r="3.8"/><circle cx="325.8" cy="261.5" r="3.8"/><circle cx="317.5" cy="270" r="3.8"/><circle cx="330" cy="285.2" r="3.8"/><circle cx="359.2" cy="262.8" r="3.8"/><circle cx="325.8" cy="273.9" r="3.8"/><circle cx="392.6" cy="214.6" r="3.8"/><circle cx="292.5" cy="253.5" r="3.8"/><circle cx="338.4" cy="267.7" r="3.8"/><circle cx="305" cy="252.6" r="3.8"/><circle cx="313.3" cy="234.2" r="3.8"/><circle cx="350.9" cy="207.4" r="3.8"/><circle cx="292.5" cy="268.9" r="3.8"/><circle cx="330" cy="240.1" r="3.8"/><circle cx="363.4" cy="224.9" r="3.8"/><circle cx="309.2" cy="244.7" r="3.8"/><circle cx="288.3" cy="245.8" r="3.8"/><circle cx="288.3" cy="269.2" r="3.8"/><circle cx="371.7" cy="234.9" r="3.8"/><circle cx="380" cy="212" r="3.8"/><circle cx="342.5" cy="266.2" r="3.8"/><circle cx="309.2" cy="279" r="3.8"/><circle cx="367.5" cy="261.5" r="3.8"/><circle cx="363.4" cy="251.4" r="3.8"/><circle cx="384.2" cy="254.8" r="3.8"/><circle cx="317.5" cy="233.1" r="3.8"/><circle cx="384.2" cy="228.6" r="3.8"/><circle cx="371.7" cy="257.3" r="3.8"/><circle cx="288.3" cy="268.8" r="3.8"/><circle cx="280" cy="265.3" r="3.8"/><circle cx="350.9" cy="244" r="3.8"/><circle cx="305" cy="275.2" r="3.8"/><circle cx="309.2" cy="280.5" r="3.8"/><circle cx="288.3" cy="306.1" r="3.8"/><circle cx="350.9" cy="215.6" r="3.8"/><circle cx="309.2" cy="266.1" r="3.8"/><circle cx="292.5" cy="272.3" r="3.8"/><circle cx="334.2" cy="281.2" r="3.8"/><circle cx="300.8" cy="261.5" r="3.8"/><circle cx="317.5" cy="246.7" r="3.8"/><circle cx="330" cy="266.1" r="3.8"/><circle cx="321.7" cy="240.7" r="3.8"/><circle cx="375.9" cy="267.4" r="3.8"/><circle cx="330" cy="288.2" r="3.8"/><circle cx="375.9" cy="251" r="3.8"/><circle cx="288.3" cy="275.7" r="3.8"/><circle cx="330" cy="267.8" r="3.8"/><circle cx="392.6" cy="213.9" r="3.8"/><circle cx="325.8" cy="300.7" r="3.8"/><circle cx="396.7" cy="221.7" r="3.8"/><circle cx="350.9" cy="245.8" r="3.8"/><circle cx="384.2" cy="236.1" r="3.8"/><circle cx="384.2" cy="252.4" r="3.8"/><circle cx="317.5" cy="237.7" r="3.8"/><circle cx="355" cy="239.8" r="3.8"/><circle cx="280" cy="287.1" r="3.8"/><circle cx="380" cy="237.2" r="3.8"/><circle cx="309.2" cy="259" r="3.8"/><circle cx="405.1" cy="247.6" r="3.8"/><circle cx="309.2" cy="288.7" r="3.8"/><circle cx="288.3" cy="261.9" r="3.8"/><circle cx="280" cy="274" r="3.8"/><circle cx="317.5" cy="238" r="3.8"/><circle cx="371.7" cy="238" r="3.8"/><circle cx="300.8" cy="249.6" r="3.8"/><circle cx="300.8" cy="283.6" r="3.8"/><circle cx="330" cy="245.7" r="3.8"/><circle cx="280" cy="270.4" r="3.8"/><circle cx="330" cy="228.1" r="3.8"/><circle cx="350.9" cy="227.9" r="3.8"/><circle cx="363.4" cy="221.7" r="3.8"/><circle cx="371.7" cy="252.7" r="3.8"/><circle cx="334.2" cy="272" r="3.8"/><circle cx="350.9" cy="223.6" r="3.8"/><circle cx="288.3" cy="298.3" r="3.8"/><circle cx="363.4" cy="236.7" r="3.8"/><circle cx="284.2" cy="240.7" r="3.8"/><circle cx="400.9" cy="253.1" r="3.8"/><circle cx="363.4" cy="223.8" r="3.8"/><circle cx="325.8" cy="245.2" r="3.8"/><circle cx="325.8" cy="288.2" r="3.8"/><circle cx="367.5" cy="266.8" r="3.8"/><circle cx="288.3" cy="260" r="3.8"/><circle cx="309.2" cy="255.9" r="3.8"/><circle cx="330" cy="274.1" r="3.8"/><circle cx="375.9" cy="229.7" r="3.8"/><circle cx="350.9" cy="267.5" r="3.8"/><circle cx="363.4" cy="255.9" r="3.8"/><circle cx="350.9" cy="255.6" r="3.8"/><circle cx="330" cy="270.4" r="3.8"/><circle cx="350.9" cy="254.8" r="3.8"/><circle cx="346.7" cy="235.4" r="3.8"/><circle cx="330" cy="230.9" r="3.8"/><circle cx="371.7" cy="250.1" r="3.8"/><circle cx="392.6" cy="240.3" r="3.8"/><circle cx="305" cy="270.6" r="3.8"/><circle cx="342.5" cy="253" r="3.8"/><circle cx="363.4" cy="234.9" r="3.8"/><circle cx="321.7" cy="257.4" r="3.8"/><circle cx="392.6" cy="223.2" r="3.8"/><circle cx="342.5" cy="255.4" r="3.8"/><circle cx="317.5" cy="256.1" r="3.8"/><circle cx="338.4" cy="276.1" r="3.8"/><circle cx="309.2" cy="260.3" r="3.8"/><circle cx="350.9" cy="211.1" r="3.8"/><circle cx="350.9" cy="234.5" r="3.8"/><circle cx="380" cy="258.8" r="3.8"/><circle cx="296.7" cy="249.1" r="3.8"/><circle cx="334.2" cy="267.2" r="3.8"/><circle cx="371.7" cy="253" r="3.8"/><circle cx="313.3" cy="244.3" r="3.8"/><circle cx="321.7" cy="264.5" r="3.8"/><circle cx="321.7" cy="276.8" r="3.8"/><circle cx="380" cy="250.6" r="3.8"/><circle cx="350.9" cy="253.5" r="3.8"/><circle cx="363.4" cy="247.9" r="3.8"/><circle cx="350.9" cy="237" r="3.8"/><circle cx="309.2" cy="247.3" r="3.8"/><circle cx="309.2" cy="250.3" r="3.8"/><circle cx="346.7" cy="268.3" r="3.8"/><circle cx="317.5" cy="290.1" r="3.8"/><circle cx="309.2" cy="284" r="3.8"/><circle cx="288.3" cy="279.9" r="3.8"/><circle cx="355" cy="261.3" r="3.8"/><circle cx="288.3" cy="272.8" r="3.8"/><circle cx="309.2" cy="245.7" r="3.8"/><circle cx="330" cy="287.9" r="3.8"/><circle cx="292.5" cy="298.3" r="3.8"/><circle cx="388.4" cy="222.5" r="3.8"/><circle cx="363.4" cy="263.2" r="3.8"/><circle cx="296.7" cy="288.6" r="3.8"/><circle cx="330" cy="252" r="3.8"/><circle cx="300.8" cy="270.5" r="3.8"/><circle cx="384.2" cy="231.3" r="3.8"/><circle cx="355" cy="232.6" r="3.8"/><circle cx="380" cy="253.8" r="3.8"/><circle cx="288.3" cy="283.4" r="3.8"/><circle cx="288.3" cy="251.5" r="3.8"/><circle cx="371.7" cy="249.6" r="3.8"/><circle cx="330" cy="234.1" r="3.8"/><circle cx="330" cy="257.6" r="3.8"/><circle cx="338.4" cy="242.9" r="3.8"/><circle cx="371.7" cy="232.7" r="3.8"/><circle cx="313.3" cy="268.2" r="3.8"/><circle cx="350.9" cy="246.4" r="3.8"/><circle cx="309.2" cy="263.2" r="3.8"/><circle cx="371.7" cy="248.1" r="3.8"/><circle cx="375.9" cy="233.2" r="3.8"/><circle cx="309.2" cy="250.6" r="3.8"/><circle cx="350.9" cy="242.4" r="3.8"/><circle cx="350.9" cy="255" r="3.8"/><circle cx="325.8" cy="299.7" r="3.8"/><circle cx="367.5" cy="256.4" r="3.8"/><circle cx="342.5" cy="228.2" r="3.8"/><circle cx="300.8" cy="284.8" r="3.8"/><circle cx="367.5" cy="236.8" r="3.8"/><circle cx="355" cy="203.7" r="3.8"/><circle cx="292.5" cy="284" r="3.8"/><circle cx="371.7" cy="265.8" r="3.8"/><circle cx="363.4" cy="255.5" r="3.8"/><circle cx="350.9" cy="227.1" r="3.8"/><circle cx="384.2" cy="241.2" r="3.8"/><circle cx="371.7" cy="234.6" r="3.8"/><circle cx="355" cy="235.7" r="3.8"/><circle cx="330" cy="286.2" r="3.8"/><circle cx="288.3" cy="281.4" r="3.8"/><circle cx="350.9" cy="223.8" r="3.8"/><circle cx="330" cy="234.6" r="3.8"/><circle cx="350.9" cy="262.4" r="3.8"/><circle cx="325.8" cy="258.9" r="3.8"/><circle cx="330" cy="287.3" r="3.8"/><circle cx="400.9" cy="247" r="3.8"/><circle cx="367.5" cy="227.3" r="3.8"/><circle cx="371.7" cy="252.2" r="3.8"/><circle cx="334.2" cy="301.3" r="3.8"/><circle cx="288.3" cy="240" r="3.8"/><circle cx="388.4" cy="232.5" r="3.8"/><circle cx="288.3" cy="242.4" r="3.8"/><circle cx="342.5" cy="239.3" r="3.8"/><circle cx="334.2" cy="225.4" r="3.8"/><circle cx="375.9" cy="240.7" r="3.8"/><circle cx="309.2" cy="239" r="3.8"/><circle cx="371.7" cy="250.8" r="3.8"/><circle cx="334.2" cy="260.1" r="3.8"/><circle cx="284.2" cy="300.8" r="3.8"/><circle cx="350.9" cy="224.2" r="3.8"/><circle cx="392.6" cy="215.9" r="3.8"/><circle cx="284.2" cy="281" r="3.8"/><circle cx="309.2" cy="233.6" r="3.8"/><circle cx="284.2" cy="247.6" r="3.8"/><circle cx="330" cy="256.4" r="3.8"/><circle cx="309.2" cy="273.6" r="3.8"/><circle cx="392.6" cy="240" r="3.8"/><circle cx="288.3" cy="264.5" r="3.8"/><circle cx="321.7" cy="230" r="3.8"/><circle cx="325.8" cy="265.9" r="3.8"/><circle cx="325.8" cy="289.3" r="3.8"/><circle cx="359.2" cy="225.4" r="3.8"/><circle cx="384.2" cy="218" r="3.8"/><circle cx="330" cy="238.8" r="3.8"/><circle cx="309.2" cy="253.9" r="3.8"/><circle cx="309.2" cy="272.9" r="3.8"/><circle cx="350.9" cy="228.8" r="3.8"/><circle cx="346.7" cy="253.5" r="3.8"/><circle cx="325.8" cy="290.3" r="3.8"/><circle cx="400.9" cy="248.1" r="3.8"/><circle cx="292.5" cy="288.4" r="3.8"/><circle cx="363.4" cy="252.2" r="3.8"/><circle cx="296.7" cy="255.6" r="3.8"/><circle cx="371.7" cy="257.6" r="3.8"/><circle cx="346.7" cy="258.3" r="3.8"/><circle cx="288.3" cy="297.6" r="3.8"/><circle cx="309.2" cy="244.7" r="3.8"/><circle cx="359.2" cy="220.4" r="3.8"/><circle cx="334.2" cy="249.7" r="3.8"/><circle cx="300.8" cy="249.7" r="3.8"/><circle cx="313.3" cy="295.2" r="3.8"/><circle cx="309.2" cy="236.5" r="3.8"/><circle cx="313.3" cy="272.8" r="3.8"/><circle cx="309.2" cy="268.7" r="3.8"/><circle cx="371.7" cy="220.9" r="3.8"/><circle cx="288.3" cy="248.9" r="3.8"/><circle cx="375.9" cy="252.7" r="3.8"/><circle cx="396.7" cy="220.6" r="3.8"/><circle cx="292.5" cy="300" r="3.8"/><circle cx="305" cy="281.8" r="3.8"/><circle cx="363.4" cy="261.2" r="3.8"/><circle cx="275.8" cy="265.3" r="3.8"/><circle cx="375.9" cy="241.4" r="3.8"/><circle cx="330" cy="297.9" r="3.8"/><circle cx="284.2" cy="283.8" r="3.8"/><circle cx="288.3" cy="272.8" r="3.8"/><circle cx="321.7" cy="267.6" r="3.8"/><circle cx="309.2" cy="285" r="3.8"/><circle cx="321.7" cy="227.5" r="3.8"/><circle cx="300.8" cy="253.7" r="3.8"/><circle cx="380" cy="261.3" r="3.8"/><circle cx="371.7" cy="262.1" r="3.8"/><circle cx="380" cy="246.3" r="3.8"/><circle cx="288.3" cy="252.4" r="3.8"/><circle cx="325.8" cy="253.9" r="3.8"/><circle cx="280" cy="271.2" r="3.8"/><circle cx="305" cy="238.1" r="3.8"/><circle cx="288.3" cy="295.5" r="3.8"/><circle cx="321.7" cy="286.5" r="3.8"/><circle cx="371.7" cy="228.6" r="3.8"/><circle cx="313.3" cy="261.7" r="3.8"/><circle cx="288.3" cy="249" r="3.8"/><circle cx="309.2" cy="244.5" r="3.8"/><circle cx="330" cy="282.8" r="3.8"/><circle cx="350.9" cy="225" r="3.8"/><circle cx="313.3" cy="260.8" r="3.8"/><circle cx="371.7" cy="222.9" r="3.8"/><circle cx="346.7" cy="212.6" r="3.8"/><circle cx="288.3" cy="269" r="3.8"/><circle cx="313.3" cy="262.6" r="3.8"/><circle cx="375.9" cy="232.7" r="3.8"/><circle cx="359.2" cy="255.9" r="3.8"/><circle cx="371.7" cy="229.6" r="3.8"/><circle cx="350.9" cy="254.6" r="3.8"/><circle cx="334.2" cy="246" r="3.8"/><circle cx="384.2" cy="257.2" r="3.8"/><circle cx="280" cy="270.8" r="3.8"/><circle cx="309.2" cy="265.6" r="3.8"/><circle cx="317.5" cy="236.9" r="3.8"/><circle cx="300.8" cy="243.8" r="3.8"/><circle cx="363.4" cy="254.5" r="3.8"/><circle cx="371.7" cy="266.3" r="3.8"/><circle cx="400.9" cy="243.3" r="3.8"/><circle cx="280" cy="262.9" r="3.8"/><circle cx="371.7" cy="271.2" r="3.8"/><circle cx="350.9" cy="237.8" r="3.8"/><circle cx="321.7" cy="221.6" r="3.8"/><circle cx="371.7" cy="237.7" r="3.8"/><circle cx="309.2" cy="260.9" r="3.8"/><circle cx="321.7" cy="236" r="3.8"/><circle cx="400.9" cy="241.4" r="3.8"/><circle cx="384.2" cy="216.3" r="3.8"/><circle cx="305" cy="269.6" r="3.8"/><circle cx="280" cy="270.6" r="3.8"/><circle cx="330" cy="246.7" r="3.8"/><circle cx="384.2" cy="259.1" r="3.8"/><circle cx="350.9" cy="250.4" r="3.8"/><circle cx="334.2" cy="277.5" r="3.8"/><circle cx="321.7" cy="240.4" r="3.8"/><circle cx="309.2" cy="269.1" r="3.8"/><circle cx="371.7" cy="233.6" r="3.8"/><circle cx="309.2" cy="270.7" r="3.8"/><circle cx="288.3" cy="276.4" r="3.8"/><circle cx="330" cy="289.3" r="3.8"/><circle cx="338.4" cy="288.7" r="3.8"/><circle cx="309.2" cy="264.1" r="3.8"/><circle cx="334.2" cy="243.7" r="3.8"/><circle cx="384.2" cy="213" r="3.8"/><circle cx="371.7" cy="234.1" r="3.8"/><circle cx="367.5" cy="253.1" r="3.8"/><circle cx="330" cy="239.5" r="3.8"/><circle cx="371.7" cy="234.2" r="3.8"/><circle cx="392.6" cy="225.4" r="3.8"/><circle cx="325.8" cy="279" r="3.8"/><circle cx="350.9" cy="205.8" r="3.8"/><circle cx="350.9" cy="259.9" r="3.8"/><circle cx="309.2" cy="255" r="3.8"/><circle cx="288.3" cy="281.6" r="3.8"/><circle cx="325.8" cy="259.9" r="3.8"/><circle cx="330" cy="258" r="3.8"/><circle cx="309.2" cy="284.8" r="3.8"/><circle cx="355" cy="217.9" r="3.8"/><circle cx="334.2" cy="257.9" r="3.8"/><circle cx="288.3" cy="240.5" r="3.8"/><circle cx="375.9" cy="226.2" r="3.8"/><circle cx="309.2" cy="253.5" r="3.8"/><circle cx="367.5" cy="237.6" r="3.8"/><circle cx="321.7" cy="242.4" r="3.8"/><circle cx="355" cy="265.9" r="3.8"/><circle cx="330" cy="277.7" r="3.8"/><circle cx="288.3" cy="241" r="3.8"/><circle cx="338.4" cy="275.9" r="3.8"/><circle cx="288.3" cy="255.9" r="3.8"/><circle cx="363.4" cy="262.1" r="3.8"/><circle cx="380" cy="220.7" r="3.8"/><circle cx="350.9" cy="248.3" r="3.8"/><circle cx="330" cy="282.8" r="3.8"/><circle cx="330" cy="243.8" r="3.8"/><circle cx="334.2" cy="284.4" r="3.8"/><circle cx="334.2" cy="252.6" r="3.8"/><circle cx="284.2" cy="252.3" r="3.8"/><circle cx="355" cy="249.8" r="3.8"/><circle cx="330" cy="282.9" r="3.8"/><circle cx="396.7" cy="219.4" r="3.8"/><circle cx="338.4" cy="264.7" r="3.8"/><circle cx="367.5" cy="252.8" r="3.8"/><circle cx="325.8" cy="271.8" r="3.8"/><circle cx="296.7" cy="283.5" r="3.8"/><circle cx="392.6" cy="212.2" r="3.8"/><circle cx="296.7" cy="296.7" r="3.8"/><circle cx="367.5" cy="262.9" r="3.8"/><circle cx="359.2" cy="210.7" r="3.8"/><circle cx="325.8" cy="259.8" r="3.8"/><circle cx="317.5" cy="277" r="3.8"/><circle cx="350.9" cy="258" r="3.8"/><circle cx="292.5" cy="257.4" r="3.8"/><circle cx="346.7" cy="257" r="3.8"/><circle cx="288.3" cy="265.4" r="3.8"/><circle cx="280" cy="276.2" r="3.8"/><circle cx="330" cy="287.6" r="3.8"/><circle cx="338.4" cy="251.1" r="3.8"/><circle cx="338.4" cy="236.4" r="3.8"/><circle cx="309.2" cy="244.6" r="3.8"/><circle cx="400.9" cy="223" r="3.8"/><circle cx="313.3" cy="242.1" r="3.8"/><circle cx="400.9" cy="226.2" r="3.8"/><circle cx="309.2" cy="264.7" r="3.8"/><circle cx="371.7" cy="189.5" r="3.8"/><circle cx="371.7" cy="270.4" r="3.8"/><circle cx="367.5" cy="217.4" r="3.8"/><circle cx="346.7" cy="246.7" r="3.8"/><circle cx="309.2" cy="260.3" r="3.8"/><circle cx="371.7" cy="216.3" r="3.8"/><circle cx="359.2" cy="218.7" r="3.8"/><circle cx="284.2" cy="292.5" r="3.8"/><circle cx="309.2" cy="281.7" r="3.8"/><circle cx="355" cy="248" r="3.8"/><circle cx="342.5" cy="222.8" r="3.8"/><circle cx="288.3" cy="248.6" r="3.8"/><circle cx="309.2" cy="272.2" r="3.8"/><circle cx="334.2" cy="240.6" r="3.8"/><circle cx="309.2" cy="270.9" r="3.8"/><circle cx="396.7" cy="247.1" r="3.8"/><circle cx="359.2" cy="220.8" r="3.8"/><circle cx="371.7" cy="240.3" r="3.8"/><circle cx="284.2" cy="299.8" r="3.8"/><circle cx="288.3" cy="280.8" r="3.8"/><circle cx="371.7" cy="229" r="3.8"/><circle cx="309.2" cy="240.4" r="3.8"/><circle cx="396.7" cy="249.8" r="3.8"/><circle cx="338.4" cy="276.1" r="3.8"/><circle cx="334.2" cy="257.5" r="3.8"/><circle cx="355" cy="231.7" r="3.8"/><circle cx="321.7" cy="284.3" r="3.8"/><circle cx="350.9" cy="235.9" r="3.8"/><circle cx="363.4" cy="248.9" r="3.8"/><circle cx="334.2" cy="288.9" r="3.8"/><circle cx="305" cy="235.4" r="3.8"/><circle cx="350.9" cy="259.8" r="3.8"/><circle cx="384.2" cy="241" r="3.8"/><circle cx="346.7" cy="250.1" r="3.8"/><circle cx="400.9" cy="226.5" r="3.8"/><circle cx="275.8" cy="267.2" r="3.8"/><circle cx="313.3" cy="273.5" r="3.8"/><circle cx="400.9" cy="232.6" r="3.8"/><circle cx="371.7" cy="192.6" r="3.8"/><circle cx="330" cy="229.9" r="3.8"/><circle cx="334.2" cy="254.7" r="3.8"/><circle cx="330" cy="265.6" r="3.8"/><circle cx="300.8" cy="278.7" r="3.8"/><circle cx="338.4" cy="232.8" r="3.8"/><circle cx="334.2" cy="271.8" r="3.8"/><circle cx="371.7" cy="251.9" r="3.8"/><circle cx="330" cy="245.8" r="3.8"/><circle cx="371.7" cy="248.6" r="3.8"/><circle cx="321.7" cy="234.2" r="3.8"/><circle cx="363.4" cy="255.7" r="3.8"/><circle cx="325.8" cy="279.1" r="3.8"/><circle cx="396.7" cy="233.7" r="3.8"/><circle cx="388.4" cy="228.5" r="3.8"/><circle cx="363.4" cy="261.9" r="3.8"/><circle cx="300.8" cy="242.8" r="3.8"/><circle cx="346.7" cy="229.4" r="3.8"/><circle cx="350.9" cy="238.6" r="3.8"/><circle cx="375.9" cy="233.4" r="3.8"/><circle cx="392.6" cy="221.3" r="3.8"/><circle cx="309.2" cy="256.8" r="3.8"/><circle cx="375.9" cy="244.8" r="3.8"/><circle cx="317.5" cy="265.1" r="3.8"/><circle cx="292.5" cy="276.7" r="3.8"/><circle cx="288.3" cy="267.3" r="3.8"/><circle cx="355" cy="250.3" r="3.8"/><circle cx="296.7" cy="272.5" r="3.8"/><circle cx="380" cy="259.5" r="3.8"/><circle cx="330" cy="255.4" r="3.8"/><circle cx="367.5" cy="240.4" r="3.8"/><circle cx="363.4" cy="257.7" r="3.8"/><circle cx="275.8" cy="283.4" r="3.8"/></g>
</g>
<text class="tk" text-anchor="middle" transform="translate(101.1 492.2) scale(1 1.12)">10</text>
<text class="tk" text-anchor="middle" transform="translate(309.6 492.2) scale(1 1.12)">15</text>
<text class="tk" text-anchor="middle" transform="translate(518 492.2) scale(1 1.12)">20</text>
<text class="tk" text-anchor="middle" transform="translate(726.5 492.2) scale(1 1.12)">25</text>
<text class="tk" text-anchor="end" transform="translate(78.8 94.3) scale(1 1.12)">5</text>
<text class="tk" text-anchor="end" transform="translate(78.8 243.1) scale(1 1.12)">0</text>
<text class="tk" text-anchor="end" transform="translate(78.8 391.9) scale(1 1.12)">-5</text>
<text class="tt" text-anchor="middle" transform="translate(413.5 527.8) scale(1 1.04)">Mid-upper arm circumference</text>
<text class="tt" text-anchor="middle" transform="translate(406.5 579.4) scale(1 1.04)">(A)WLZ/WHZ</text>
<text class="tt yt" style="font-size:34.55px" text-anchor="middle" transform="translate(43.8 230.8) rotate(-90) scale(1 1.04)">Weight-for-Height Z score</text>
</g>
<g id="panelB">
<path class="ax" d="M993.5 21V441.8M991.5 439.7H1621.5M993.5 439.7v17.4M1035.2 439.7v9.8M1077 439.7v9.8M1118.7 439.7v9.8M1160.4 439.7v9.8M1202.1 439.7v17.4M1243.9 439.7v9.8M1285.6 439.7v9.8M1327.3 439.7v9.8M1369 439.7v9.8M1410.8 439.7v17.4M1452.5 439.7v9.8M1494.2 439.7v9.8M1535.9 439.7v9.8M1577.7 439.7v9.8M1619.4 439.7v17.4M993.5 410h-9.8M993.5 380.2h-17.6M993.5 350.4h-9.8M993.5 320.7h-9.8M993.5 290.9h-9.8M993.5 261.2h-9.8M993.5 231.4h-17.6M993.5 201.6h-9.8M993.5 171.9h-9.8M993.5 142.1h-9.8M993.5 112.4h-9.8M993.5 82.6h-17.6M993.5 52.8h-9.8M993.5 23.1h-9.8"/>
<path class="dot" d="M1005.90 231.4H1608.40" stroke-dasharray="0 12.5396"/>
<line class="reg" x1="1014.4" y1="336.2" x2="1586" y2="139.7"/>
<g class="pts">
<g class="c0"><circle cx="1118.7" cy="340.3" r="3.8"/><circle cx="1302.3" cy="200.1" r="3.8"/><circle cx="1285.6" cy="210.7" r="3.8"/><circle cx="1156.2" cy="347.8" r="3.8"/><circle cx="1389.9" cy="215.1" r="3.8"/><circle cx="1160.4" cy="220.1" r="3.8"/><circle cx="1314.8" cy="206.3" r="3.8"/><circle cx="1389.9" cy="151.8" r="3.8"/><circle cx="1172.9" cy="356.5" r="3.8"/><circle cx="1089.5" cy="256.9" r="3.8"/><circle cx="1089.5" cy="298.2" r="3.8"/><circle cx="1056.1" cy="351.5" r="3.8"/><circle cx="1306.5" cy="291.5" r="3.8"/><circle cx="1139.5" cy="347.2" r="3.8"/><circle cx="1369" cy="208.9" r="3.8"/><circle cx="1131.2" cy="349" r="3.8"/><circle cx="1239.7" cy="190.1" r="3.8"/><circle cx="1243.9" cy="174.6" r="3.8"/><circle cx="1235.5" cy="332.8" r="3.8"/><circle cx="1235.5" cy="225.5" r="3.8"/><circle cx="1135.4" cy="263.5" r="3.8"/><circle cx="1152.1" cy="352.8" r="3.8"/><circle cx="1097.8" cy="340.3" r="3.8"/><circle cx="1364.9" cy="227.6" r="3.8"/><circle cx="1097.8" cy="257.7" r="3.8"/><circle cx="1147.9" cy="256.4" r="3.8"/><circle cx="1139.5" cy="340.3" r="3.8"/><circle cx="1072.8" cy="390.3" r="3.8"/><circle cx="1285.6" cy="305.2" r="3.8"/><circle cx="1293.9" cy="192.6" r="3.8"/><circle cx="1339.8" cy="195.1" r="3.8"/><circle cx="1348.2" cy="251.4" r="3.8"/><circle cx="1373.2" cy="215.1" r="3.8"/><circle cx="1160.4" cy="215.1" r="3.8"/><circle cx="1077" cy="362.3" r="3.8"/><circle cx="1293.9" cy="216" r="3.8"/><circle cx="1068.6" cy="319" r="3.8"/><circle cx="1319" cy="206.3" r="3.8"/><circle cx="1440" cy="170.1" r="3.8"/><circle cx="1131.2" cy="367.8" r="3.8"/><circle cx="1252.2" cy="316.5" r="3.8"/><circle cx="1306.5" cy="182.6" r="3.8"/><circle cx="1348.2" cy="216.4" r="3.8"/><circle cx="1168.8" cy="225.9" r="3.8"/><circle cx="1352.3" cy="200.1" r="3.8"/><circle cx="1089.5" cy="357.8" r="3.8"/><circle cx="1014.4" cy="355.3" r="3.8"/><circle cx="1252.2" cy="193.8" r="3.8"/><circle cx="1168.8" cy="330.4" r="3.8"/><circle cx="1089.5" cy="312.7" r="3.8"/><circle cx="1218.8" cy="203.8" r="3.8"/><circle cx="1285.6" cy="297.7" r="3.8"/><circle cx="1231.3" cy="321.7" r="3.8"/><circle cx="1260.6" cy="331.5" r="3.8"/><circle cx="1410.8" cy="218.9" r="3.8"/><circle cx="1360.7" cy="200.1" r="3.8"/><circle cx="1210.5" cy="213.3" r="3.8"/><circle cx="1202.1" cy="332.8" r="3.8"/><circle cx="1139.5" cy="236.4" r="3.8"/><circle cx="1586" cy="175.6" r="3.8"/><circle cx="1264.7" cy="195.1" r="3.8"/><circle cx="1206.3" cy="198.8" r="3.8"/><circle cx="1189.6" cy="334" r="3.8"/><circle cx="1235.5" cy="210.2" r="3.8"/><circle cx="1352.3" cy="276.4" r="3.8"/><circle cx="1360.7" cy="235.5" r="3.8"/><circle cx="1181.3" cy="354" r="3.8"/><circle cx="1344" cy="200.1" r="3.8"/><circle cx="1160.4" cy="203.8" r="3.8"/><circle cx="1085.3" cy="292.7" r="3.8"/><circle cx="1277.2" cy="326.5" r="3.8"/><circle cx="1181.3" cy="207.6" r="3.8"/><circle cx="1214.7" cy="341.5" r="3.8"/><circle cx="1310.6" cy="143.8" r="3.8"/><circle cx="1306.5" cy="314" r="3.8"/><circle cx="1319" cy="191.3" r="3.8"/><circle cx="1394.1" cy="215.1" r="3.8"/><circle cx="1097.8" cy="390.3" r="3.8"/><circle cx="1402.4" cy="211.4" r="3.8"/><circle cx="1339.8" cy="207.6" r="3.8"/><circle cx="1323.1" cy="214.6" r="3.8"/><circle cx="1139.5" cy="242.6" r="3.8"/><circle cx="1143.7" cy="243.9" r="3.8"/><circle cx="1177.1" cy="216.4" r="3.8"/><circle cx="1348.2" cy="247.7" r="3.8"/><circle cx="1323.1" cy="260.4" r="3.8"/><circle cx="1035.2" cy="291.5" r="3.8"/><circle cx="1164.6" cy="340.3" r="3.8"/><circle cx="1089.5" cy="341.5" r="3.8"/><circle cx="1348.2" cy="307.7" r="3.8"/><circle cx="1068.6" cy="362.3" r="3.8"/><circle cx="1060.3" cy="382.3" r="3.8"/><circle cx="1389.9" cy="162.6" r="3.8"/><circle cx="1102" cy="332.8" r="3.8"/><circle cx="1097.8" cy="262.7" r="3.8"/><circle cx="1335.7" cy="254.1" r="3.8"/><circle cx="1189.6" cy="228.3" r="3.8"/><circle cx="1389.9" cy="222.6" r="3.8"/><circle cx="1264.7" cy="314" r="3.8"/><circle cx="1448.3" cy="160.6" r="3.8"/><circle cx="1544.3" cy="123.1" r="3.8"/><circle cx="1077" cy="334" r="3.8"/><circle cx="1143.7" cy="354.8" r="3.8"/><circle cx="1369" cy="243.9" r="3.8"/><circle cx="1118.7" cy="272.7" r="3.8"/><circle cx="1335.7" cy="195.1" r="3.8"/><circle cx="1118.7" cy="356.5" r="3.8"/><circle cx="1327.3" cy="181.3" r="3.8"/><circle cx="1102" cy="355.3" r="3.8"/><circle cx="1077" cy="372.8" r="3.8"/><circle cx="1373.2" cy="235.1" r="3.8"/><circle cx="1264.7" cy="186.3" r="3.8"/><circle cx="1256.4" cy="286.5" r="3.8"/><circle cx="1051.9" cy="308.2" r="3.8"/><circle cx="1077" cy="399.6" r="3.8"/><circle cx="1231.3" cy="217.9" r="3.8"/><circle cx="1202.1" cy="208.9" r="3.8"/><circle cx="1369" cy="187.6" r="3.8"/><circle cx="1352.3" cy="220.1" r="3.8"/><circle cx="1344" cy="222.7" r="3.8"/><circle cx="1285.6" cy="198.8" r="3.8"/><circle cx="1172.9" cy="340.3" r="3.8"/><circle cx="1223" cy="189.6" r="3.8"/><circle cx="1077" cy="227.6" r="3.8"/><circle cx="1181.3" cy="225.8" r="3.8"/><circle cx="1097.8" cy="271.4" r="3.8"/><circle cx="1056.1" cy="367.3" r="3.8"/><circle cx="1185.4" cy="342.8" r="3.8"/><circle cx="1181.3" cy="351.2" r="3.8"/><circle cx="1160.4" cy="208.9" r="3.8"/><circle cx="1268.9" cy="315.2" r="3.8"/><circle cx="1277.2" cy="307.7" r="3.8"/><circle cx="1085.3" cy="332.8" r="3.8"/><circle cx="1252.2" cy="305.1" r="3.8"/><circle cx="1273.1" cy="288.8" r="3.8"/><circle cx="1102" cy="279" r="3.8"/><circle cx="1097.8" cy="282.7" r="3.8"/><circle cx="1127" cy="328" r="3.8"/><circle cx="1289.8" cy="285.6" r="3.8"/><circle cx="1264.7" cy="299.7" r="3.8"/><circle cx="1064.4" cy="319" r="3.8"/><circle cx="1473.4" cy="145.6" r="3.8"/><circle cx="1118.7" cy="277.7" r="3.8"/><circle cx="1444.1" cy="218.9" r="3.8"/><circle cx="1327.3" cy="211.6" r="3.8"/><circle cx="1077" cy="235.1" r="3.8"/><circle cx="1298.1" cy="182.6" r="3.8"/><circle cx="1210.5" cy="193.8" r="3.8"/><circle cx="1306.5" cy="301.5" r="3.8"/><circle cx="1481.7" cy="191.4" r="3.8"/><circle cx="1356.5" cy="240.1" r="3.8"/><circle cx="1552.6" cy="125.8" r="3.8"/><circle cx="1331.5" cy="241.6" r="3.8"/><circle cx="1231.3" cy="363.3" r="3.8"/><circle cx="1089.5" cy="206.8" r="3.8"/><circle cx="1369" cy="282.7" r="3.8"/><circle cx="1327.3" cy="221" r="3.8"/><circle cx="1072.8" cy="346.5" r="3.8"/><circle cx="1122.9" cy="371.1" r="3.8"/><circle cx="1252.2" cy="303.8" r="3.8"/><circle cx="1285.6" cy="177.1" r="3.8"/><circle cx="1410.8" cy="240.1" r="3.8"/><circle cx="1239.7" cy="310.9" r="3.8"/><circle cx="1097.8" cy="314" r="3.8"/><circle cx="1035.2" cy="322.3" r="3.8"/><circle cx="1127" cy="261.4" r="3.8"/><circle cx="1143.7" cy="255.6" r="3.8"/></g><g class="c1"><circle cx="1131.2" cy="280.6" r="3.8"/><circle cx="1302.3" cy="262.6" r="3.8"/><circle cx="1114.5" cy="319.7" r="3.8"/><circle cx="1306.5" cy="216.5" r="3.8"/><circle cx="1118.7" cy="333.3" r="3.8"/><circle cx="1127" cy="287.8" r="3.8"/><circle cx="1122.9" cy="309.5" r="3.8"/><circle cx="1139.5" cy="330.5" r="3.8"/><circle cx="1131.2" cy="275.2" r="3.8"/><circle cx="1189.6" cy="239.7" r="3.8"/><circle cx="1147.9" cy="283" r="3.8"/><circle cx="1114.5" cy="289.6" r="3.8"/><circle cx="1323.1" cy="238.8" r="3.8"/><circle cx="1147.9" cy="330.8" r="3.8"/><circle cx="1248" cy="201.3" r="3.8"/><circle cx="1168.8" cy="247.6" r="3.8"/><circle cx="1319" cy="242.1" r="3.8"/><circle cx="1243.9" cy="294.7" r="3.8"/><circle cx="1181.3" cy="234.4" r="3.8"/><circle cx="1168.8" cy="239.9" r="3.8"/><circle cx="1314.8" cy="264.8" r="3.8"/><circle cx="1160.4" cy="237.4" r="3.8"/><circle cx="1306.5" cy="273" r="3.8"/><circle cx="1306.5" cy="215.7" r="3.8"/><circle cx="1210.5" cy="327" r="3.8"/><circle cx="1160.4" cy="328.1" r="3.8"/><circle cx="1193.8" cy="239.2" r="3.8"/><circle cx="1139.5" cy="320.1" r="3.8"/><circle cx="1298.1" cy="242.2" r="3.8"/><circle cx="1164.6" cy="233.4" r="3.8"/><circle cx="1122.9" cy="286.4" r="3.8"/><circle cx="1185.4" cy="326.5" r="3.8"/><circle cx="1323.1" cy="236.8" r="3.8"/><circle cx="1293.9" cy="251.9" r="3.8"/><circle cx="1235.5" cy="306.4" r="3.8"/><circle cx="1273.1" cy="237.9" r="3.8"/><circle cx="1210.5" cy="235.3" r="3.8"/><circle cx="1206.3" cy="335.3" r="3.8"/><circle cx="1160.4" cy="231.9" r="3.8"/><circle cx="1160.4" cy="251.1" r="3.8"/><circle cx="1227.2" cy="215.5" r="3.8"/><circle cx="1243.9" cy="208.5" r="3.8"/><circle cx="1243.9" cy="299.7" r="3.8"/><circle cx="1127" cy="294.3" r="3.8"/><circle cx="1143.7" cy="265.3" r="3.8"/><circle cx="1243.9" cy="220.2" r="3.8"/><circle cx="1319" cy="228.2" r="3.8"/><circle cx="1127" cy="274.2" r="3.8"/><circle cx="1202.1" cy="329.9" r="3.8"/><circle cx="1293.9" cy="279.4" r="3.8"/><circle cx="1264.7" cy="294" r="3.8"/><circle cx="1168.8" cy="309.2" r="3.8"/><circle cx="1289.8" cy="220.6" r="3.8"/><circle cx="1127" cy="333.1" r="3.8"/><circle cx="1193.8" cy="213.9" r="3.8"/><circle cx="1168.8" cy="311.3" r="3.8"/><circle cx="1214.7" cy="215.5" r="3.8"/><circle cx="1248" cy="201.6" r="3.8"/><circle cx="1302.3" cy="247.7" r="3.8"/><circle cx="1210.5" cy="225" r="3.8"/><circle cx="1235.5" cy="280.5" r="3.8"/><circle cx="1097.8" cy="276.4" r="3.8"/><circle cx="1147.9" cy="280.6" r="3.8"/><circle cx="1139.5" cy="328.8" r="3.8"/><circle cx="1268.9" cy="292.2" r="3.8"/><circle cx="1118.7" cy="286.5" r="3.8"/><circle cx="1118.7" cy="284.2" r="3.8"/><circle cx="1160.4" cy="332.1" r="3.8"/><circle cx="1231.3" cy="294.5" r="3.8"/><circle cx="1227.2" cy="334" r="3.8"/><circle cx="1319" cy="227.7" r="3.8"/><circle cx="1214.7" cy="217.9" r="3.8"/><circle cx="1243.9" cy="294.6" r="3.8"/><circle cx="1202.1" cy="228.3" r="3.8"/><circle cx="1139.5" cy="320.7" r="3.8"/><circle cx="1118.7" cy="312.7" r="3.8"/><circle cx="1239.7" cy="302.7" r="3.8"/><circle cx="1214.7" cy="316.5" r="3.8"/><circle cx="1248" cy="219.6" r="3.8"/><circle cx="1202.1" cy="215.4" r="3.8"/><circle cx="1243.9" cy="209.1" r="3.8"/><circle cx="1127" cy="334" r="3.8"/><circle cx="1202.1" cy="322.4" r="3.8"/><circle cx="1369" cy="228.9" r="3.8"/><circle cx="1143.7" cy="316.7" r="3.8"/><circle cx="1181.3" cy="235.2" r="3.8"/><circle cx="1160.4" cy="225.1" r="3.8"/><circle cx="1189.6" cy="217.2" r="3.8"/><circle cx="1189.6" cy="218.5" r="3.8"/><circle cx="1268.9" cy="208.5" r="3.8"/><circle cx="1223" cy="327.3" r="3.8"/><circle cx="1131.2" cy="303.5" r="3.8"/><circle cx="1281.4" cy="283" r="3.8"/><circle cx="1114.5" cy="306.1" r="3.8"/><circle cx="1118.7" cy="323.2" r="3.8"/><circle cx="1152.1" cy="325.7" r="3.8"/><circle cx="1223" cy="222.2" r="3.8"/><circle cx="1202.1" cy="220.9" r="3.8"/><circle cx="1118.7" cy="316.8" r="3.8"/><circle cx="1281.4" cy="216.8" r="3.8"/><circle cx="1198" cy="224.6" r="3.8"/><circle cx="1223" cy="210.6" r="3.8"/><circle cx="1239.7" cy="302.1" r="3.8"/><circle cx="1181.3" cy="235.5" r="3.8"/><circle cx="1164.6" cy="238.1" r="3.8"/><circle cx="1185.4" cy="229.8" r="3.8"/><circle cx="1118.7" cy="316.6" r="3.8"/><circle cx="1118.7" cy="298.9" r="3.8"/><circle cx="1193.8" cy="329.3" r="3.8"/><circle cx="1139.5" cy="330" r="3.8"/><circle cx="1131.2" cy="309" r="3.8"/><circle cx="1319" cy="258.4" r="3.8"/><circle cx="1152.1" cy="322.2" r="3.8"/><circle cx="1373.2" cy="227.7" r="3.8"/><circle cx="1306.5" cy="270.3" r="3.8"/><circle cx="1223" cy="224.9" r="3.8"/><circle cx="1118.7" cy="295.3" r="3.8"/><circle cx="1252.2" cy="280.2" r="3.8"/><circle cx="1218.8" cy="216.2" r="3.8"/></g><g class="c2"><circle cx="1135.4" cy="306.2" r="3.8"/><circle cx="1285.6" cy="281.1" r="3.8"/><circle cx="1281.4" cy="277.4" r="3.8"/><circle cx="1310.6" cy="233.3" r="3.8"/><circle cx="1168.8" cy="321.4" r="3.8"/><circle cx="1314.8" cy="260.1" r="3.8"/><circle cx="1160.4" cy="270.1" r="3.8"/><circle cx="1160.4" cy="249.6" r="3.8"/><circle cx="1314.8" cy="240.9" r="3.8"/><circle cx="1206.3" cy="230.2" r="3.8"/><circle cx="1248" cy="204" r="3.8"/><circle cx="1231.3" cy="306.4" r="3.8"/><circle cx="1214.7" cy="321.8" r="3.8"/><circle cx="1256.4" cy="264" r="3.8"/><circle cx="1306.5" cy="247.9" r="3.8"/><circle cx="1223" cy="316.4" r="3.8"/><circle cx="1231.3" cy="292.4" r="3.8"/><circle cx="1172.9" cy="324.2" r="3.8"/><circle cx="1306.5" cy="225.3" r="3.8"/><circle cx="1298.1" cy="232.6" r="3.8"/><circle cx="1172.9" cy="269.5" r="3.8"/><circle cx="1135.4" cy="278.2" r="3.8"/><circle cx="1152.1" cy="257.6" r="3.8"/><circle cx="1310.6" cy="254.1" r="3.8"/><circle cx="1310.6" cy="238.5" r="3.8"/><circle cx="1223" cy="324" r="3.8"/><circle cx="1193.8" cy="250.9" r="3.8"/><circle cx="1264.7" cy="282.6" r="3.8"/><circle cx="1160.4" cy="324.1" r="3.8"/><circle cx="1139.5" cy="270.4" r="3.8"/><circle cx="1185.4" cy="243.5" r="3.8"/><circle cx="1298.1" cy="227.7" r="3.8"/><circle cx="1273.1" cy="242.4" r="3.8"/><circle cx="1143.7" cy="304.8" r="3.8"/><circle cx="1160.4" cy="315.4" r="3.8"/><circle cx="1202.1" cy="223.5" r="3.8"/><circle cx="1122.9" cy="297.7" r="3.8"/><circle cx="1273.1" cy="224.5" r="3.8"/><circle cx="1122.9" cy="303" r="3.8"/><circle cx="1214.7" cy="296.2" r="3.8"/><circle cx="1214.7" cy="289.9" r="3.8"/><circle cx="1306.5" cy="247.6" r="3.8"/><circle cx="1256.4" cy="243.2" r="3.8"/><circle cx="1139.5" cy="295.4" r="3.8"/><circle cx="1277.2" cy="272.8" r="3.8"/><circle cx="1306.5" cy="267.8" r="3.8"/><circle cx="1264.7" cy="208.5" r="3.8"/><circle cx="1268.9" cy="212.3" r="3.8"/><circle cx="1264.7" cy="220.4" r="3.8"/><circle cx="1210.5" cy="329.2" r="3.8"/><circle cx="1314.8" cy="227.6" r="3.8"/><circle cx="1193.8" cy="254.9" r="3.8"/><circle cx="1239.7" cy="218.5" r="3.8"/><circle cx="1152.1" cy="264" r="3.8"/><circle cx="1289.8" cy="222.8" r="3.8"/><circle cx="1202.1" cy="309.5" r="3.8"/><circle cx="1139.5" cy="289.5" r="3.8"/><circle cx="1147.9" cy="306.8" r="3.8"/><circle cx="1168.8" cy="266" r="3.8"/><circle cx="1293.9" cy="241.1" r="3.8"/><circle cx="1252.2" cy="222.4" r="3.8"/><circle cx="1210.5" cy="302.4" r="3.8"/><circle cx="1248" cy="283.7" r="3.8"/><circle cx="1264.7" cy="205" r="3.8"/><circle cx="1235.5" cy="293.4" r="3.8"/><circle cx="1160.4" cy="316.8" r="3.8"/><circle cx="1198" cy="319.1" r="3.8"/><circle cx="1273.1" cy="221.1" r="3.8"/><circle cx="1214.7" cy="307.6" r="3.8"/><circle cx="1193.8" cy="253.8" r="3.8"/><circle cx="1164.6" cy="243.3" r="3.8"/><circle cx="1147.9" cy="303" r="3.8"/><circle cx="1260.6" cy="203.8" r="3.8"/><circle cx="1139.5" cy="308.4" r="3.8"/><circle cx="1314.8" cy="229.7" r="3.8"/><circle cx="1147.9" cy="329.5" r="3.8"/><circle cx="1206.3" cy="319" r="3.8"/><circle cx="1214.7" cy="310.8" r="3.8"/><circle cx="1172.9" cy="269.9" r="3.8"/><circle cx="1139.5" cy="293.7" r="3.8"/><circle cx="1310.6" cy="240.4" r="3.8"/><circle cx="1168.8" cy="323.6" r="3.8"/><circle cx="1231.3" cy="239.5" r="3.8"/><circle cx="1285.6" cy="220.7" r="3.8"/><circle cx="1281.4" cy="230.7" r="3.8"/><circle cx="1202.1" cy="237.3" r="3.8"/><circle cx="1193.8" cy="312.6" r="3.8"/><circle cx="1310.6" cy="260" r="3.8"/><circle cx="1139.5" cy="274" r="3.8"/><circle cx="1210.5" cy="299.2" r="3.8"/><circle cx="1227.2" cy="313.5" r="3.8"/><circle cx="1198" cy="218.5" r="3.8"/><circle cx="1214.7" cy="325.6" r="3.8"/><circle cx="1243.9" cy="221.3" r="3.8"/><circle cx="1306.5" cy="261.7" r="3.8"/><circle cx="1235.5" cy="249.7" r="3.8"/><circle cx="1143.7" cy="278.7" r="3.8"/><circle cx="1264.7" cy="229.6" r="3.8"/><circle cx="1214.7" cy="276.3" r="3.8"/><circle cx="1273.1" cy="229.3" r="3.8"/><circle cx="1139.5" cy="285.6" r="3.8"/><circle cx="1127" cy="302" r="3.8"/><circle cx="1164.6" cy="250.3" r="3.8"/><circle cx="1172.9" cy="277.2" r="3.8"/><circle cx="1243.9" cy="285.7" r="3.8"/><circle cx="1306.5" cy="218.1" r="3.8"/><circle cx="1235.5" cy="237.4" r="3.8"/><circle cx="1139.5" cy="290.9" r="3.8"/><circle cx="1135.4" cy="272.4" r="3.8"/><circle cx="1139.5" cy="314.4" r="3.8"/><circle cx="1210.5" cy="254.3" r="3.8"/><circle cx="1214.7" cy="323" r="3.8"/><circle cx="1256.4" cy="226.5" r="3.8"/><circle cx="1223" cy="321" r="3.8"/><circle cx="1285.6" cy="222.4" r="3.8"/><circle cx="1172.9" cy="273.5" r="3.8"/><circle cx="1118.7" cy="302" r="3.8"/><circle cx="1231.3" cy="242.2" r="3.8"/><circle cx="1198" cy="234.3" r="3.8"/><circle cx="1139.5" cy="306.5" r="3.8"/><circle cx="1181.3" cy="321.8" r="3.8"/><circle cx="1139.5" cy="295.7" r="3.8"/><circle cx="1298.1" cy="227.3" r="3.8"/><circle cx="1319" cy="239.1" r="3.8"/><circle cx="1310.6" cy="240.8" r="3.8"/><circle cx="1156.2" cy="319.3" r="3.8"/><circle cx="1273.1" cy="277.9" r="3.8"/><circle cx="1289.8" cy="273.6" r="3.8"/><circle cx="1181.3" cy="239" r="3.8"/><circle cx="1252.2" cy="234" r="3.8"/><circle cx="1289.8" cy="276.3" r="3.8"/><circle cx="1185.4" cy="329.1" r="3.8"/><circle cx="1235.5" cy="270.7" r="3.8"/><circle cx="1306.5" cy="268.2" r="3.8"/><circle cx="1252.2" cy="253.2" r="3.8"/><circle cx="1256.4" cy="225.1" r="3.8"/><circle cx="1189.6" cy="278.5" r="3.8"/><circle cx="1243.9" cy="284.5" r="3.8"/><circle cx="1314.8" cy="257.3" r="3.8"/><circle cx="1193.8" cy="255.1" r="3.8"/><circle cx="1256.4" cy="210.3" r="3.8"/><circle cx="1298.1" cy="232.7" r="3.8"/><circle cx="1223" cy="313.6" r="3.8"/><circle cx="1248" cy="211.8" r="3.8"/><circle cx="1260.6" cy="212.6" r="3.8"/><circle cx="1181.3" cy="325.3" r="3.8"/><circle cx="1223" cy="326.6" r="3.8"/><circle cx="1152.1" cy="307.9" r="3.8"/><circle cx="1281.4" cy="227.2" r="3.8"/><circle cx="1231.3" cy="245.8" r="3.8"/><circle cx="1306.5" cy="258.5" r="3.8"/><circle cx="1181.3" cy="322.3" r="3.8"/><circle cx="1214.7" cy="238.3" r="3.8"/><circle cx="1160.4" cy="319" r="3.8"/><circle cx="1281.4" cy="275.1" r="3.8"/><circle cx="1181.3" cy="316.3" r="3.8"/><circle cx="1135.4" cy="293.6" r="3.8"/><circle cx="1202.1" cy="313.3" r="3.8"/><circle cx="1168.8" cy="319.3" r="3.8"/><circle cx="1223" cy="320.5" r="3.8"/><circle cx="1285.6" cy="217.8" r="3.8"/><circle cx="1256.4" cy="226.9" r="3.8"/><circle cx="1214.7" cy="296.9" r="3.8"/><circle cx="1239.7" cy="286.3" r="3.8"/><circle cx="1210.5" cy="265.6" r="3.8"/><circle cx="1202.1" cy="319.7" r="3.8"/><circle cx="1214.7" cy="251.2" r="3.8"/><circle cx="1256.4" cy="224.3" r="3.8"/><circle cx="1160.4" cy="323.8" r="3.8"/><circle cx="1214.7" cy="311.5" r="3.8"/><circle cx="1160.4" cy="309.6" r="3.8"/><circle cx="1277.2" cy="242.3" r="3.8"/><circle cx="1264.7" cy="285.7" r="3.8"/><circle cx="1239.7" cy="297.7" r="3.8"/><circle cx="1139.5" cy="269.3" r="3.8"/><circle cx="1293.9" cy="238.9" r="3.8"/><circle cx="1231.3" cy="263.4" r="3.8"/><circle cx="1277.2" cy="276" r="3.8"/><circle cx="1218.8" cy="230.1" r="3.8"/><circle cx="1243.9" cy="285.3" r="3.8"/><circle cx="1210.5" cy="232.2" r="3.8"/><circle cx="1139.5" cy="277.2" r="3.8"/><circle cx="1156.2" cy="315" r="3.8"/><circle cx="1139.5" cy="313.8" r="3.8"/><circle cx="1218.8" cy="230" r="3.8"/><circle cx="1202.1" cy="317.6" r="3.8"/><circle cx="1310.6" cy="239.6" r="3.8"/><circle cx="1306.5" cy="266.2" r="3.8"/><circle cx="1147.9" cy="308.8" r="3.8"/><circle cx="1172.9" cy="320" r="3.8"/><circle cx="1210.5" cy="305.2" r="3.8"/><circle cx="1256.4" cy="210.2" r="3.8"/><circle cx="1235.5" cy="242.6" r="3.8"/><circle cx="1310.6" cy="245.9" r="3.8"/><circle cx="1252.2" cy="250" r="3.8"/><circle cx="1252.2" cy="205.4" r="3.8"/><circle cx="1306.5" cy="231.1" r="3.8"/><circle cx="1256.4" cy="235" r="3.8"/><circle cx="1231.3" cy="284.4" r="3.8"/><circle cx="1306.5" cy="250.7" r="3.8"/><circle cx="1289.8" cy="271.2" r="3.8"/><circle cx="1264.7" cy="229.3" r="3.8"/><circle cx="1139.5" cy="295.6" r="3.8"/></g><g class="c3"><circle cx="1243.9" cy="268" r="3.8"/><circle cx="1264.7" cy="245.9" r="3.8"/><circle cx="1177.1" cy="267.6" r="3.8"/><circle cx="1223" cy="273.2" r="3.8"/><circle cx="1181.3" cy="307" r="3.8"/><circle cx="1181.3" cy="271.5" r="3.8"/><circle cx="1243.9" cy="230.7" r="3.8"/><circle cx="1189.6" cy="285.4" r="3.8"/><circle cx="1185.4" cy="306.9" r="3.8"/><circle cx="1181.3" cy="258.6" r="3.8"/><circle cx="1164.6" cy="298.8" r="3.8"/><circle cx="1181.3" cy="304.4" r="3.8"/><circle cx="1181.3" cy="281.3" r="3.8"/><circle cx="1160.4" cy="291" r="3.8"/><circle cx="1268.9" cy="260.4" r="3.8"/><circle cx="1264.7" cy="269.2" r="3.8"/><circle cx="1168.8" cy="298.8" r="3.8"/><circle cx="1156.2" cy="285.9" r="3.8"/><circle cx="1243.9" cy="247.7" r="3.8"/><circle cx="1193.8" cy="264.7" r="3.8"/><circle cx="1243.9" cy="269.4" r="3.8"/><circle cx="1264.7" cy="222.1" r="3.8"/><circle cx="1168.8" cy="305.3" r="3.8"/><circle cx="1160.4" cy="265.8" r="3.8"/><circle cx="1285.6" cy="263.5" r="3.8"/><circle cx="1193.8" cy="286" r="3.8"/><circle cx="1214.7" cy="266.7" r="3.8"/><circle cx="1193.8" cy="306.4" r="3.8"/><circle cx="1281.4" cy="242.5" r="3.8"/><circle cx="1223" cy="293.5" r="3.8"/><circle cx="1243.9" cy="248.1" r="3.8"/><circle cx="1198" cy="275.2" r="3.8"/><circle cx="1202.1" cy="260.9" r="3.8"/><circle cx="1185.4" cy="264.1" r="3.8"/><circle cx="1281.4" cy="241.1" r="3.8"/><circle cx="1281.4" cy="266.3" r="3.8"/><circle cx="1264.7" cy="210.5" r="3.8"/><circle cx="1243.9" cy="264.6" r="3.8"/><circle cx="1181.3" cy="257.8" r="3.8"/><circle cx="1264.7" cy="225" r="3.8"/><circle cx="1243.9" cy="264.2" r="3.8"/><circle cx="1198" cy="259.9" r="3.8"/><circle cx="1248" cy="268.6" r="3.8"/><circle cx="1181.3" cy="293.9" r="3.8"/><circle cx="1223" cy="239.7" r="3.8"/><circle cx="1202.1" cy="281.1" r="3.8"/><circle cx="1285.6" cy="273.3" r="3.8"/><circle cx="1181.3" cy="244.3" r="3.8"/><circle cx="1243.9" cy="259.3" r="3.8"/><circle cx="1181.3" cy="260.8" r="3.8"/><circle cx="1156.2" cy="261" r="3.8"/><circle cx="1160.4" cy="280" r="3.8"/><circle cx="1239.7" cy="267.4" r="3.8"/><circle cx="1160.4" cy="286.1" r="3.8"/><circle cx="1160.4" cy="299.8" r="3.8"/><circle cx="1202.1" cy="270" r="3.8"/><circle cx="1223" cy="294.3" r="3.8"/><circle cx="1202.1" cy="252.6" r="3.8"/><circle cx="1160.4" cy="307.5" r="3.8"/><circle cx="1152.1" cy="298.5" r="3.8"/><circle cx="1281.4" cy="250.7" r="3.8"/><circle cx="1206.3" cy="281.9" r="3.8"/><circle cx="1268.9" cy="267.5" r="3.8"/><circle cx="1160.4" cy="261.2" r="3.8"/><circle cx="1181.3" cy="240.5" r="3.8"/><circle cx="1223" cy="273.7" r="3.8"/><circle cx="1156.2" cy="300.9" r="3.8"/><circle cx="1223" cy="253" r="3.8"/><circle cx="1181.3" cy="257.4" r="3.8"/><circle cx="1268.9" cy="250.4" r="3.8"/><circle cx="1239.7" cy="259.2" r="3.8"/><circle cx="1172.9" cy="283.7" r="3.8"/><circle cx="1239.7" cy="265.7" r="3.8"/><circle cx="1231.3" cy="282.1" r="3.8"/><circle cx="1264.7" cy="267.4" r="3.8"/><circle cx="1152.1" cy="298.9" r="3.8"/><circle cx="1181.3" cy="303.2" r="3.8"/><circle cx="1223" cy="297.6" r="3.8"/><circle cx="1218.8" cy="308" r="3.8"/><circle cx="1198" cy="302.6" r="3.8"/><circle cx="1202.1" cy="288.3" r="3.8"/><circle cx="1185.4" cy="306.5" r="3.8"/><circle cx="1168.8" cy="289.3" r="3.8"/><circle cx="1152.1" cy="281" r="3.8"/><circle cx="1231.3" cy="268.1" r="3.8"/><circle cx="1310.6" cy="222.7" r="3.8"/><circle cx="1177.1" cy="318.4" r="3.8"/><circle cx="1206.3" cy="248.6" r="3.8"/><circle cx="1181.3" cy="311" r="3.8"/><circle cx="1202.1" cy="287.5" r="3.8"/><circle cx="1277.2" cy="256" r="3.8"/><circle cx="1248" cy="280.1" r="3.8"/><circle cx="1281.4" cy="262.8" r="3.8"/><circle cx="1243.9" cy="275.7" r="3.8"/><circle cx="1202.1" cy="291.1" r="3.8"/><circle cx="1239.7" cy="243.7" r="3.8"/><circle cx="1164.6" cy="298.8" r="3.8"/><circle cx="1285.6" cy="257.9" r="3.8"/><circle cx="1264.7" cy="277.9" r="3.8"/><circle cx="1172.9" cy="302.4" r="3.8"/><circle cx="1185.4" cy="264.7" r="3.8"/><circle cx="1181.3" cy="297.5" r="3.8"/><circle cx="1243.9" cy="251.2" r="3.8"/><circle cx="1227.2" cy="248.1" r="3.8"/><circle cx="1264.7" cy="239.1" r="3.8"/><circle cx="1181.3" cy="279.3" r="3.8"/><circle cx="1181.3" cy="286.4" r="3.8"/><circle cx="1214.7" cy="265.2" r="3.8"/><circle cx="1193.8" cy="268.8" r="3.8"/><circle cx="1239.7" cy="267.6" r="3.8"/><circle cx="1198" cy="280.4" r="3.8"/><circle cx="1223" cy="281.8" r="3.8"/><circle cx="1227.2" cy="251.9" r="3.8"/><circle cx="1160.4" cy="300.1" r="3.8"/><circle cx="1181.3" cy="248.2" r="3.8"/><circle cx="1189.6" cy="257.4" r="3.8"/><circle cx="1160.4" cy="275.1" r="3.8"/><circle cx="1202.1" cy="248.2" r="3.8"/><circle cx="1264.7" cy="275.8" r="3.8"/><circle cx="1243.9" cy="262.4" r="3.8"/><circle cx="1264.7" cy="260.3" r="3.8"/><circle cx="1239.7" cy="251.9" r="3.8"/><circle cx="1281.4" cy="239.5" r="3.8"/><circle cx="1264.7" cy="225.8" r="3.8"/><circle cx="1202.1" cy="275.3" r="3.8"/><circle cx="1289.8" cy="245.2" r="3.8"/><circle cx="1160.4" cy="288.7" r="3.8"/><circle cx="1285.6" cy="267.1" r="3.8"/><circle cx="1202.1" cy="270.2" r="3.8"/><circle cx="1210.5" cy="249.8" r="3.8"/><circle cx="1264.7" cy="271.5" r="3.8"/><circle cx="1223" cy="240.6" r="3.8"/><circle cx="1160.4" cy="302.8" r="3.8"/><circle cx="1185.4" cy="246.7" r="3.8"/><circle cx="1218.8" cy="249" r="3.8"/><circle cx="1206.3" cy="272.3" r="3.8"/><circle cx="1181.3" cy="293" r="3.8"/><circle cx="1252.2" cy="260.2" r="3.8"/><circle cx="1198" cy="272.6" r="3.8"/><circle cx="1206.3" cy="254.6" r="3.8"/><circle cx="1285.6" cy="235.5" r="3.8"/><circle cx="1264.7" cy="277.7" r="3.8"/><circle cx="1273.1" cy="254.9" r="3.8"/><circle cx="1223" cy="272.9" r="3.8"/><circle cx="1223" cy="271.8" r="3.8"/><circle cx="1193.8" cy="304.5" r="3.8"/><circle cx="1264.7" cy="221.3" r="3.8"/><circle cx="1248" cy="258.1" r="3.8"/><circle cx="1223" cy="300" r="3.8"/><circle cx="1202.1" cy="240.8" r="3.8"/><circle cx="1189.6" cy="296.1" r="3.8"/><circle cx="1160.4" cy="322.6" r="3.8"/><circle cx="1156.2" cy="268.6" r="3.8"/><circle cx="1206.3" cy="255.6" r="3.8"/><circle cx="1281.4" cy="232.2" r="3.8"/><circle cx="1218.8" cy="248.8" r="3.8"/><circle cx="1193.8" cy="286.2" r="3.8"/><circle cx="1223" cy="233.4" r="3.8"/><circle cx="1243.9" cy="233.6" r="3.8"/><circle cx="1214.7" cy="254.6" r="3.8"/><circle cx="1264.7" cy="253.5" r="3.8"/><circle cx="1227.2" cy="265.8" r="3.8"/><circle cx="1306.5" cy="227.1" r="3.8"/><circle cx="1152.1" cy="287.5" r="3.8"/><circle cx="1193.8" cy="279.6" r="3.8"/><circle cx="1243.9" cy="246.1" r="3.8"/><circle cx="1202.1" cy="278.9" r="3.8"/><circle cx="1223" cy="271.3" r="3.8"/><circle cx="1168.8" cy="289.2" r="3.8"/><circle cx="1223" cy="302.2" r="3.8"/><circle cx="1168.8" cy="298.5" r="3.8"/><circle cx="1210.5" cy="276.5" r="3.8"/><circle cx="1285.6" cy="259.4" r="3.8"/><circle cx="1264.7" cy="209" r="3.8"/><circle cx="1202.1" cy="268.6" r="3.8"/><circle cx="1181.3" cy="260.6" r="3.8"/><circle cx="1243.9" cy="268.7" r="3.8"/><circle cx="1264.7" cy="217.8" r="3.8"/><circle cx="1223" cy="289.2" r="3.8"/><circle cx="1264.7" cy="256.8" r="3.8"/><circle cx="1243.9" cy="237.8" r="3.8"/><circle cx="1243.9" cy="229.2" r="3.8"/><circle cx="1168.8" cy="294.7" r="3.8"/><circle cx="1160.4" cy="264.4" r="3.8"/><circle cx="1248" cy="272.1" r="3.8"/><circle cx="1198" cy="264.3" r="3.8"/><circle cx="1218.8" cy="232.2" r="3.8"/><circle cx="1177.1" cy="246.3" r="3.8"/><circle cx="1160.4" cy="290.9" r="3.8"/><circle cx="1206.3" cy="293" r="3.8"/><circle cx="1248" cy="240" r="3.8"/><circle cx="1235.5" cy="260.7" r="3.8"/><circle cx="1177.1" cy="267.1" r="3.8"/><circle cx="1156.2" cy="286.4" r="3.8"/><circle cx="1202.1" cy="239.9" r="3.8"/><circle cx="1243.9" cy="244.6" r="3.8"/><circle cx="1202.1" cy="296.5" r="3.8"/><circle cx="1260.6" cy="265.5" r="3.8"/><circle cx="1264.7" cy="240.4" r="3.8"/><circle cx="1264.7" cy="249.1" r="3.8"/><circle cx="1202.1" cy="258.3" r="3.8"/><circle cx="1260.6" cy="232.4" r="3.8"/><circle cx="1177.1" cy="283.5" r="3.8"/><circle cx="1285.6" cy="262.1" r="3.8"/><circle cx="1248" cy="246.6" r="3.8"/><circle cx="1206.3" cy="290.9" r="3.8"/><circle cx="1227.2" cy="275.4" r="3.8"/><circle cx="1160.4" cy="264.7" r="3.8"/><circle cx="1202.1" cy="300.7" r="3.8"/><circle cx="1264.7" cy="224.4" r="3.8"/><circle cx="1160.4" cy="280.9" r="3.8"/><circle cx="1185.4" cy="291.7" r="3.8"/><circle cx="1264.7" cy="268.7" r="3.8"/><circle cx="1289.8" cy="233.1" r="3.8"/><circle cx="1181.3" cy="274.8" r="3.8"/><circle cx="1160.4" cy="261.5" r="3.8"/><circle cx="1160.4" cy="294.5" r="3.8"/><circle cx="1206.3" cy="284.1" r="3.8"/><circle cx="1181.3" cy="292.1" r="3.8"/><circle cx="1202.1" cy="299.6" r="3.8"/><circle cx="1206.3" cy="246.7" r="3.8"/><circle cx="1252.2" cy="264.2" r="3.8"/><circle cx="1227.2" cy="260.4" r="3.8"/><circle cx="1248" cy="242.5" r="3.8"/><circle cx="1181.3" cy="290.6" r="3.8"/><circle cx="1156.2" cy="259.8" r="3.8"/><circle cx="1227.2" cy="238.9" r="3.8"/><circle cx="1310.6" cy="224.3" r="3.8"/><circle cx="1273.1" cy="260.3" r="3.8"/><circle cx="1243.9" cy="268.6" r="3.8"/><circle cx="1260.6" cy="257.8" r="3.8"/><circle cx="1202.1" cy="278.7" r="3.8"/><circle cx="1218.8" cy="293.3" r="3.8"/><circle cx="1260.6" cy="238.9" r="3.8"/><circle cx="1223" cy="307.3" r="3.8"/><circle cx="1223" cy="255.3" r="3.8"/><circle cx="1256.4" cy="247.4" r="3.8"/><circle cx="1264.7" cy="268.3" r="3.8"/><circle cx="1227.2" cy="255.2" r="3.8"/><circle cx="1181.3" cy="287.1" r="3.8"/><circle cx="1139.5" cy="300.4" r="3.8"/><circle cx="1289.8" cy="268.3" r="3.8"/><circle cx="1260.6" cy="265.1" r="3.8"/><circle cx="1160.4" cy="297" r="3.8"/><circle cx="1223" cy="266.8" r="3.8"/><circle cx="1143.7" cy="294.3" r="3.8"/><circle cx="1223" cy="256.6" r="3.8"/><circle cx="1243.9" cy="268.1" r="3.8"/><circle cx="1239.7" cy="255.7" r="3.8"/><circle cx="1277.2" cy="237.9" r="3.8"/><circle cx="1181.3" cy="315.3" r="3.8"/><circle cx="1193.8" cy="264.9" r="3.8"/><circle cx="1160.4" cy="278.8" r="3.8"/><circle cx="1202.1" cy="277.1" r="3.8"/><circle cx="1285.6" cy="251.2" r="3.8"/><circle cx="1218.8" cy="234.7" r="3.8"/><circle cx="1214.7" cy="280.4" r="3.8"/><circle cx="1223" cy="234.8" r="3.8"/><circle cx="1223" cy="262.7" r="3.8"/><circle cx="1285.6" cy="254.7" r="3.8"/><circle cx="1160.4" cy="259.6" r="3.8"/><circle cx="1239.7" cy="273.6" r="3.8"/><circle cx="1248" cy="278" r="3.8"/><circle cx="1160.4" cy="286.2" r="3.8"/><circle cx="1181.3" cy="276.9" r="3.8"/><circle cx="1181.3" cy="282.9" r="3.8"/><circle cx="1223" cy="273.4" r="3.8"/><circle cx="1181.3" cy="244.8" r="3.8"/><circle cx="1239.7" cy="233.5" r="3.8"/><circle cx="1227.2" cy="265.5" r="3.8"/><circle cx="1181.3" cy="260.6" r="3.8"/><circle cx="1264.7" cy="255.6" r="3.8"/><circle cx="1243.9" cy="282.6" r="3.8"/><circle cx="1243.9" cy="232.8" r="3.8"/><circle cx="1160.4" cy="281.3" r="3.8"/><circle cx="1181.3" cy="300.6" r="3.8"/><circle cx="1185.4" cy="287.8" r="3.8"/><circle cx="1243.9" cy="250.5" r="3.8"/><circle cx="1264.7" cy="247.5" r="3.8"/><circle cx="1231.3" cy="281.5" r="3.8"/><circle cx="1181.3" cy="260.7" r="3.8"/><circle cx="1189.6" cy="268.1" r="3.8"/><circle cx="1285.6" cy="237" r="3.8"/><circle cx="1218.8" cy="286" r="3.8"/><circle cx="1160.4" cy="253.5" r="3.8"/><circle cx="1268.9" cy="258.5" r="3.8"/><circle cx="1181.3" cy="278.1" r="3.8"/><circle cx="1285.6" cy="263.3" r="3.8"/><circle cx="1281.4" cy="257.4" r="3.8"/><circle cx="1264.7" cy="257.6" r="3.8"/><circle cx="1202.1" cy="277.5" r="3.8"/><circle cx="1243.9" cy="274.2" r="3.8"/><circle cx="1218.8" cy="273.2" r="3.8"/><circle cx="1185.4" cy="297.5" r="3.8"/><circle cx="1285.6" cy="238.8" r="3.8"/><circle cx="1243.9" cy="263.4" r="3.8"/><circle cx="1214.7" cy="271.4" r="3.8"/><circle cx="1164.6" cy="268.8" r="3.8"/><circle cx="1181.3" cy="307.7" r="3.8"/><circle cx="1243.9" cy="256.7" r="3.8"/><circle cx="1243.9" cy="275.9" r="3.8"/><circle cx="1306.5" cy="222.1" r="3.8"/><circle cx="1185.4" cy="307.5" r="3.8"/><circle cx="1289.8" cy="235.9" r="3.8"/><circle cx="1160.4" cy="275.2" r="3.8"/><circle cx="1223" cy="242.1" r="3.8"/><circle cx="1156.2" cy="290.9" r="3.8"/><circle cx="1160.4" cy="281.9" r="3.8"/><circle cx="1268.9" cy="260.8" r="3.8"/><circle cx="1210.5" cy="274.8" r="3.8"/><circle cx="1189.6" cy="280" r="3.8"/><circle cx="1193.8" cy="287.1" r="3.8"/><circle cx="1264.7" cy="260.2" r="3.8"/><circle cx="1264.7" cy="268.9" r="3.8"/><circle cx="1273.1" cy="247.5" r="3.8"/><circle cx="1223" cy="302.3" r="3.8"/><circle cx="1160.4" cy="280.7" r="3.8"/><circle cx="1202.1" cy="256.9" r="3.8"/><circle cx="1243.9" cy="265" r="3.8"/><circle cx="1160.4" cy="299.1" r="3.8"/><circle cx="1243.9" cy="258.7" r="3.8"/><circle cx="1202.1" cy="263.7" r="3.8"/><circle cx="1193.8" cy="277.7" r="3.8"/><circle cx="1202.1" cy="284.5" r="3.8"/><circle cx="1256.4" cy="241.1" r="3.8"/><circle cx="1218.8" cy="295" r="3.8"/><circle cx="1285.6" cy="255.4" r="3.8"/><circle cx="1189.6" cy="300.1" r="3.8"/><circle cx="1260.6" cy="256.5" r="3.8"/><circle cx="1214.7" cy="280.7" r="3.8"/><circle cx="1206.3" cy="298.7" r="3.8"/><circle cx="1268.9" cy="274.8" r="3.8"/><circle cx="1202.1" cy="304.3" r="3.8"/><circle cx="1223" cy="291.6" r="3.8"/><circle cx="1172.9" cy="316.9" r="3.8"/><circle cx="1239.7" cy="237.8" r="3.8"/><circle cx="1306.5" cy="227" r="3.8"/><circle cx="1164.6" cy="282.8" r="3.8"/><circle cx="1156.2" cy="300.7" r="3.8"/><circle cx="1223" cy="297.1" r="3.8"/><circle cx="1281.4" cy="250.1" r="3.8"/><circle cx="1223" cy="281.1" r="3.8"/><circle cx="1223" cy="281.2" r="3.8"/><circle cx="1214.7" cy="272.5" r="3.8"/><circle cx="1223" cy="254.2" r="3.8"/><circle cx="1264.7" cy="240" r="3.8"/><circle cx="1181.3" cy="266.8" r="3.8"/><circle cx="1285.6" cy="265.4" r="3.8"/><circle cx="1243.9" cy="256.3" r="3.8"/><circle cx="1202.1" cy="280.7" r="3.8"/><circle cx="1177.1" cy="302.1" r="3.8"/><circle cx="1202.1" cy="254.8" r="3.8"/><circle cx="1202.1" cy="240.3" r="3.8"/><circle cx="1285.6" cy="228.7" r="3.8"/><circle cx="1268.9" cy="252.2" r="3.8"/><circle cx="1223" cy="305.8" r="3.8"/><circle cx="1285.6" cy="256.9" r="3.8"/><circle cx="1223" cy="267.8" r="3.8"/><circle cx="1268.9" cy="265.7" r="3.8"/><circle cx="1164.6" cy="299.5" r="3.8"/><circle cx="1202.1" cy="259.1" r="3.8"/><circle cx="1198" cy="283.7" r="3.8"/><circle cx="1185.4" cy="268.2" r="3.8"/><circle cx="1248" cy="262" r="3.8"/><circle cx="1264.7" cy="258.9" r="3.8"/><circle cx="1160.4" cy="301.6" r="3.8"/><circle cx="1189.6" cy="299.3" r="3.8"/><circle cx="1273.1" cy="246.7" r="3.8"/><circle cx="1273.1" cy="252" r="3.8"/><circle cx="1264.7" cy="246.6" r="3.8"/><circle cx="1264.7" cy="267.6" r="3.8"/><circle cx="1243.9" cy="231.1" r="3.8"/><circle cx="1248" cy="242.7" r="3.8"/><circle cx="1181.3" cy="287.3" r="3.8"/><circle cx="1181.3" cy="304" r="3.8"/><circle cx="1172.9" cy="284.1" r="3.8"/><circle cx="1285.6" cy="230.3" r="3.8"/><circle cx="1202.1" cy="252.2" r="3.8"/><circle cx="1289.8" cy="251.4" r="3.8"/><circle cx="1193.8" cy="299.5" r="3.8"/><circle cx="1289.8" cy="251.2" r="3.8"/><circle cx="1218.8" cy="263.7" r="3.8"/><circle cx="1218.8" cy="278.6" r="3.8"/><circle cx="1223" cy="235.7" r="3.8"/><circle cx="1285.6" cy="255.1" r="3.8"/><circle cx="1268.9" cy="283" r="3.8"/><circle cx="1152.1" cy="294.3" r="3.8"/><circle cx="1264.7" cy="217.4" r="3.8"/><circle cx="1260.6" cy="278.4" r="3.8"/><circle cx="1264.7" cy="239.6" r="3.8"/><circle cx="1202.1" cy="298.6" r="3.8"/><circle cx="1181.3" cy="255.3" r="3.8"/><circle cx="1264.7" cy="271.6" r="3.8"/><circle cx="1218.8" cy="260.6" r="3.8"/><circle cx="1264.7" cy="257" r="3.8"/><circle cx="1218.8" cy="271.1" r="3.8"/><circle cx="1202.1" cy="243.9" r="3.8"/><circle cx="1202.1" cy="250.4" r="3.8"/><circle cx="1223" cy="299.6" r="3.8"/><circle cx="1185.4" cy="295.1" r="3.8"/><circle cx="1202.1" cy="272.1" r="3.8"/><circle cx="1285.6" cy="236.8" r="3.8"/><circle cx="1243.9" cy="276.5" r="3.8"/><circle cx="1198" cy="266.2" r="3.8"/><circle cx="1268.9" cy="222" r="3.8"/><circle cx="1223" cy="236" r="3.8"/><circle cx="1302.3" cy="228.2" r="3.8"/><circle cx="1243.9" cy="246.3" r="3.8"/><circle cx="1160.4" cy="263.8" r="3.8"/><circle cx="1243.9" cy="235.1" r="3.8"/><circle cx="1256.4" cy="260.4" r="3.8"/><circle cx="1239.7" cy="225.4" r="3.8"/><circle cx="1285.6" cy="242.4" r="3.8"/><circle cx="1202.1" cy="258.1" r="3.8"/><circle cx="1218.8" cy="258.2" r="3.8"/><circle cx="1168.8" cy="293.2" r="3.8"/><circle cx="1206.3" cy="291.6" r="3.8"/><circle cx="1243.9" cy="268.1" r="3.8"/><circle cx="1202.1" cy="275.7" r="3.8"/><circle cx="1168.8" cy="299" r="3.8"/><circle cx="1223" cy="290.8" r="3.8"/><circle cx="1285.6" cy="244.3" r="3.8"/><circle cx="1193.8" cy="263.5" r="3.8"/><circle cx="1281.4" cy="264.1" r="3.8"/><circle cx="1223" cy="256.5" r="3.8"/><circle cx="1260.6" cy="268.9" r="3.8"/><circle cx="1223" cy="266" r="3.8"/><circle cx="1156.2" cy="293" r="3.8"/><circle cx="1185.4" cy="303.4" r="3.8"/><circle cx="1177.1" cy="290.4" r="3.8"/><circle cx="1181.3" cy="283.8" r="3.8"/><circle cx="1193.8" cy="301.6" r="3.8"/><circle cx="1285.6" cy="263.6" r="3.8"/><circle cx="1202.1" cy="270.2" r="3.8"/><circle cx="1227.2" cy="296.3" r="3.8"/><circle cx="1223" cy="263.2" r="3.8"/><circle cx="1264.7" cy="263.8" r="3.8"/><circle cx="1181.3" cy="248.6" r="3.8"/><circle cx="1206.3" cy="243.5" r="3.8"/><circle cx="1202.1" cy="273.9" r="3.8"/><circle cx="1177.1" cy="288.5" r="3.8"/><circle cx="1281.4" cy="258.7" r="3.8"/><circle cx="1160.4" cy="304.5" r="3.8"/><circle cx="1202.1" cy="295.4" r="3.8"/><circle cx="1172.9" cy="296.8" r="3.8"/><circle cx="1181.3" cy="275.3" r="3.8"/><circle cx="1223" cy="261.7" r="3.8"/><circle cx="1160.4" cy="294.6" r="3.8"/><circle cx="1268.9" cy="247.9" r="3.8"/><circle cx="1227.2" cy="283.4" r="3.8"/><circle cx="1160.4" cy="299.8" r="3.8"/><circle cx="1223" cy="248" r="3.8"/><circle cx="1227.2" cy="302.3" r="3.8"/><circle cx="1160.4" cy="261.5" r="3.8"/><circle cx="1206.3" cy="284.3" r="3.8"/><circle cx="1181.3" cy="253.4" r="3.8"/><circle cx="1223" cy="247.1" r="3.8"/><circle cx="1243.9" cy="236.4" r="3.8"/><circle cx="1227.2" cy="282.1" r="3.8"/><circle cx="1160.4" cy="271.4" r="3.8"/><circle cx="1264.7" cy="258" r="3.8"/><circle cx="1227.2" cy="277.9" r="3.8"/><circle cx="1181.3" cy="288.3" r="3.8"/><circle cx="1189.6" cy="295.3" r="3.8"/><circle cx="1160.4" cy="257.2" r="3.8"/><circle cx="1181.3" cy="252.2" r="3.8"/><circle cx="1181.3" cy="296.9" r="3.8"/><circle cx="1248" cy="264.4" r="3.8"/><circle cx="1156.2" cy="259.5" r="3.8"/><circle cx="1223" cy="246.3" r="3.8"/><circle cx="1202.1" cy="274.4" r="3.8"/><circle cx="1152.1" cy="291.8" r="3.8"/><circle cx="1177.1" cy="308.4" r="3.8"/><circle cx="1160.4" cy="296.8" r="3.8"/><circle cx="1181.3" cy="266.5" r="3.8"/><circle cx="1147.9" cy="298.9" r="3.8"/><circle cx="1264.7" cy="246" r="3.8"/><circle cx="1193.8" cy="297.7" r="3.8"/><circle cx="1268.9" cy="252.4" r="3.8"/><circle cx="1210.5" cy="248.6" r="3.8"/><circle cx="1285.6" cy="262.3" r="3.8"/><circle cx="1202.1" cy="291.7" r="3.8"/><circle cx="1260.6" cy="256.2" r="3.8"/><circle cx="1285.6" cy="266.7" r="3.8"/><circle cx="1202.1" cy="274.5" r="3.8"/><circle cx="1243.9" cy="231.4" r="3.8"/><circle cx="1223" cy="306.5" r="3.8"/><circle cx="1264.7" cy="250.7" r="3.8"/><circle cx="1227.2" cy="267.1" r="3.8"/><circle cx="1264.7" cy="246.5" r="3.8"/><circle cx="1281.4" cy="251.2" r="3.8"/><circle cx="1202.1" cy="260.2" r="3.8"/><circle cx="1248" cy="241.4" r="3.8"/><circle cx="1177.1" cy="259.6" r="3.8"/><circle cx="1181.3" cy="308.1" r="3.8"/><circle cx="1227.2" cy="254.8" r="3.8"/><circle cx="1181.3" cy="269.5" r="3.8"/><circle cx="1202.1" cy="313.1" r="3.8"/><circle cx="1202.1" cy="312.5" r="3.8"/><circle cx="1218.8" cy="307" r="3.8"/><circle cx="1243.9" cy="261.5" r="3.8"/><circle cx="1181.3" cy="302.6" r="3.8"/><circle cx="1160.4" cy="283.6" r="3.8"/><circle cx="1206.3" cy="271.8" r="3.8"/><circle cx="1181.3" cy="249" r="3.8"/><circle cx="1277.2" cy="252.5" r="3.8"/><circle cx="1152.1" cy="301.8" r="3.8"/><circle cx="1181.3" cy="258" r="3.8"/><circle cx="1264.7" cy="274.9" r="3.8"/><circle cx="1189.6" cy="291.2" r="3.8"/><circle cx="1210.5" cy="267" r="3.8"/><circle cx="1202.1" cy="268.2" r="3.8"/><circle cx="1181.3" cy="265" r="3.8"/><circle cx="1198" cy="305.8" r="3.8"/><circle cx="1264.7" cy="267.9" r="3.8"/><circle cx="1202.1" cy="273.8" r="3.8"/><circle cx="1264.7" cy="276.7" r="3.8"/><circle cx="1285.6" cy="246.1" r="3.8"/><circle cx="1264.7" cy="272.8" r="3.8"/><circle cx="1160.4" cy="257.7" r="3.8"/><circle cx="1181.3" cy="288.7" r="3.8"/><circle cx="1198" cy="249.8" r="3.8"/><circle cx="1206.3" cy="244.9" r="3.8"/><circle cx="1202.1" cy="274.8" r="3.8"/><circle cx="1285.6" cy="261.7" r="3.8"/><circle cx="1210.5" cy="240.5" r="3.8"/><circle cx="1172.9" cy="295.1" r="3.8"/><circle cx="1223" cy="296.4" r="3.8"/><circle cx="1202.1" cy="272.7" r="3.8"/><circle cx="1285.6" cy="266.8" r="3.8"/><circle cx="1206.3" cy="252.1" r="3.8"/><circle cx="1293.9" cy="236.1" r="3.8"/><circle cx="1243.9" cy="261.2" r="3.8"/><circle cx="1227.2" cy="286.7" r="3.8"/><circle cx="1202.1" cy="241.6" r="3.8"/><circle cx="1264.7" cy="243.3" r="3.8"/><circle cx="1243.9" cy="261" r="3.8"/><circle cx="1198" cy="289.8" r="3.8"/><circle cx="1268.9" cy="256.6" r="3.8"/><circle cx="1202.1" cy="277.4" r="3.8"/><circle cx="1268.9" cy="276.5" r="3.8"/><circle cx="1243.9" cy="284.3" r="3.8"/><circle cx="1202.1" cy="305.3" r="3.8"/><circle cx="1152.1" cy="288.3" r="3.8"/><circle cx="1177.1" cy="312.5" r="3.8"/><circle cx="1306.5" cy="221.8" r="3.8"/><circle cx="1264.7" cy="250.9" r="3.8"/></g>
</g>
<text class="tk" text-anchor="middle" transform="translate(993.9 492.8) scale(1 1.12)">10</text>
<text class="tk" text-anchor="middle" transform="translate(1202.5 492.8) scale(1 1.12)">15</text>
<text class="tk" text-anchor="middle" transform="translate(1411.2 492.8) scale(1 1.12)">20</text>
<text class="tk" text-anchor="middle" transform="translate(1619.8 492.8) scale(1 1.12)">25</text>
<text class="tk" text-anchor="end" transform="translate(971.6 94.3) scale(1 1.12)">5</text>
<text class="tk" text-anchor="end" transform="translate(971.6 243.1) scale(1 1.12)">0</text>
<text class="tk" text-anchor="end" transform="translate(971.6 391.9) scale(1 1.12)">-5</text>
<text class="tt" text-anchor="middle" transform="translate(1306 523) scale(1 1.04)">Mid-Upper Arm circumference</text>
<text class="tt" text-anchor="middle" transform="translate(1305 577) scale(1 1.04)">(B)WAZ</text>
<text class="tt yt" style="font-size:34.55px" text-anchor="middle" transform="translate(934 230.8) rotate(-90) scale(1 1.04)">Weight-for-Age Z score</text>
</g>
<g id="panelC">
<path class="ax" d="M101.6 632.8V1053.6M99.5 1051.6H729.3M101.6 1051.6v17.4M143.3 1051.6v9.8M185 1051.6v9.8M226.7 1051.6v9.8M268.5 1051.6v9.8M310.2 1051.6v17.4M351.9 1051.6v9.8M393.6 1051.6v9.8M435.3 1051.6v9.8M477 1051.6v9.8M518.7 1051.6v17.4M560.4 1051.6v9.8M602.2 1051.6v9.8M643.9 1051.6v9.8M685.6 1051.6v9.8M727.3 1051.6v17.4M101.6 1021.8h-9.8M101.6 992.1h-17.6M101.6 962.3h-9.8M101.6 932.5h-9.8M101.6 902.7h-9.8M101.6 873h-9.8M101.6 843.2h-17.6M101.6 813.4h-9.8M101.6 783.7h-9.8M101.6 753.9h-9.8M101.6 724.1h-9.8M101.6 694.4h-17.6M101.6 664.6h-9.8M101.6 634.8h-9.8"/>
<path class="dot" d="M114.00 843.2H716.30" stroke-dasharray="0 12.5354"/>
<line class="reg" x1="122.5" y1="921.5" x2="693.9" y2="809.9"/>
<g class="pts">
<g class="c0"><circle cx="247.6" cy="843.3" r="3.8"/><circle cx="393.6" cy="966.5" r="3.8"/><circle cx="518.7" cy="902.2" r="3.8"/><circle cx="285.1" cy="796.4" r="3.8"/><circle cx="660.6" cy="815.1" r="3.8"/><circle cx="264.3" cy="974" r="3.8"/><circle cx="431.1" cy="895.7" r="3.8"/><circle cx="468.7" cy="881.5" r="3.8"/><circle cx="381.1" cy="841.6" r="3.8"/><circle cx="185" cy="903.2" r="3.8"/><circle cx="301.8" cy="820.8" r="3.8"/><circle cx="176.7" cy="970.7" r="3.8"/><circle cx="197.5" cy="951" r="3.8"/><circle cx="331" cy="763.9" r="3.8"/><circle cx="481.2" cy="838.9" r="3.8"/><circle cx="397.8" cy="828.6" r="3.8"/><circle cx="289.3" cy="817.4" r="3.8"/><circle cx="293.5" cy="796.4" r="3.8"/><circle cx="205.9" cy="910.2" r="3.8"/><circle cx="427" cy="903.9" r="3.8"/><circle cx="422.8" cy="829" r="3.8"/><circle cx="247.6" cy="920.6" r="3.8"/><circle cx="310.2" cy="961.7" r="3.8"/><circle cx="226.7" cy="851.7" r="3.8"/><circle cx="297.7" cy="810" r="3.8"/><circle cx="381.1" cy="823.3" r="3.8"/><circle cx="347.7" cy="818" r="3.8"/><circle cx="447.8" cy="812" r="3.8"/><circle cx="581.3" cy="795.9" r="3.8"/><circle cx="197.5" cy="866.4" r="3.8"/><circle cx="406.1" cy="955.2" r="3.8"/><circle cx="522.9" cy="868.2" r="3.8"/><circle cx="301.8" cy="819.3" r="3.8"/><circle cx="339.4" cy="1002.8" r="3.8"/><circle cx="427" cy="813" r="3.8"/><circle cx="205.9" cy="905.2" r="3.8"/><circle cx="435.3" cy="842" r="3.8"/><circle cx="268.5" cy="984.8" r="3.8"/><circle cx="314.3" cy="774.6" r="3.8"/><circle cx="205.9" cy="858.1" r="3.8"/><circle cx="281" cy="966.5" r="3.8"/><circle cx="360.2" cy="785.1" r="3.8"/><circle cx="268.5" cy="813.8" r="3.8"/><circle cx="472.8" cy="899" r="3.8"/><circle cx="460.3" cy="914.6" r="3.8"/><circle cx="226.7" cy="882.6" r="3.8"/><circle cx="197.5" cy="896.4" r="3.8"/><circle cx="122.5" cy="975.2" r="3.8"/><circle cx="439.5" cy="880" r="3.8"/><circle cx="497.9" cy="871.5" r="3.8"/><circle cx="301.8" cy="965.4" r="3.8"/><circle cx="268.5" cy="965.5" r="3.8"/><circle cx="385.3" cy="942.7" r="3.8"/><circle cx="164.2" cy="953.2" r="3.8"/><circle cx="268.5" cy="785.1" r="3.8"/><circle cx="456.2" cy="819.6" r="3.8"/><circle cx="247.6" cy="939.1" r="3.8"/><circle cx="310.2" cy="829.4" r="3.8"/><circle cx="418.6" cy="939.2" r="3.8"/><circle cx="306" cy="796.4" r="3.8"/><circle cx="205.9" cy="890.1" r="3.8"/><circle cx="210.1" cy="871.4" r="3.8"/><circle cx="381.1" cy="825.1" r="3.8"/><circle cx="164.2" cy="999.8" r="3.8"/><circle cx="205.9" cy="992.8" r="3.8"/><circle cx="289.3" cy="828.2" r="3.8"/><circle cx="401.9" cy="891.9" r="3.8"/><circle cx="176.7" cy="887.1" r="3.8"/><circle cx="435.3" cy="830.1" r="3.8"/><circle cx="331" cy="988.2" r="3.8"/><circle cx="443.6" cy="845.6" r="3.8"/><circle cx="447.8" cy="882.4" r="3.8"/><circle cx="235.1" cy="872.9" r="3.8"/><circle cx="310.2" cy="802.5" r="3.8"/><circle cx="414.4" cy="931.7" r="3.8"/><circle cx="393.6" cy="805" r="3.8"/><circle cx="205.9" cy="996.5" r="3.8"/><circle cx="339.4" cy="969.7" r="3.8"/><circle cx="143.3" cy="973.2" r="3.8"/><circle cx="510.4" cy="841.4" r="3.8"/><circle cx="351.9" cy="797.2" r="3.8"/><circle cx="435.3" cy="838.6" r="3.8"/><circle cx="281" cy="841.1" r="3.8"/><circle cx="376.9" cy="812" r="3.8"/><circle cx="285.1" cy="817.5" r="3.8"/><circle cx="393.6" cy="773.9" r="3.8"/><circle cx="497.9" cy="796.4" r="3.8"/><circle cx="281" cy="960.8" r="3.8"/><circle cx="464.5" cy="813" r="3.8"/><circle cx="143.3" cy="930.7" r="3.8"/><circle cx="185" cy="989" r="3.8"/><circle cx="556.3" cy="849.4" r="3.8"/><circle cx="180.9" cy="910.7" r="3.8"/><circle cx="389.4" cy="787.6" r="3.8"/><circle cx="410.3" cy="809.5" r="3.8"/><circle cx="356.1" cy="819.7" r="3.8"/><circle cx="422.8" cy="915.2" r="3.8"/><circle cx="477" cy="844.1" r="3.8"/><circle cx="456.2" cy="918.2" r="3.8"/><circle cx="322.7" cy="771.4" r="3.8"/><circle cx="468.7" cy="810.1" r="3.8"/><circle cx="272.6" cy="974.7" r="3.8"/><circle cx="693.9" cy="839.4" r="3.8"/><circle cx="160" cy="950.2" r="3.8"/><circle cx="226.7" cy="921.6" r="3.8"/><circle cx="393.6" cy="947.3" r="3.8"/><circle cx="197.5" cy="916.4" r="3.8"/><circle cx="289.3" cy="787.6" r="3.8"/><circle cx="497.9" cy="750" r="3.8"/><circle cx="502" cy="862.2" r="3.8"/><circle cx="314.3" cy="974.7" r="3.8"/><circle cx="243.4" cy="862.3" r="3.8"/><circle cx="351.9" cy="1012.8" r="3.8"/><circle cx="226.7" cy="973.2" r="3.8"/><circle cx="185" cy="1051.2" r="3.8"/><circle cx="168.3" cy="1035.3" r="3.8"/><circle cx="180.9" cy="980.2" r="3.8"/><circle cx="226.7" cy="885.3" r="3.8"/><circle cx="318.5" cy="833.6" r="3.8"/><circle cx="247.6" cy="743.1" r="3.8"/><circle cx="322.7" cy="970.7" r="3.8"/><circle cx="326.9" cy="980.2" r="3.8"/><circle cx="247.6" cy="939.7" r="3.8"/><circle cx="210.1" cy="860.6" r="3.8"/><circle cx="456.2" cy="867.6" r="3.8"/><circle cx="477" cy="790.6" r="3.8"/><circle cx="318.5" cy="909.3" r="3.8"/><circle cx="414.4" cy="818" r="3.8"/><circle cx="356.1" cy="797.7" r="3.8"/><circle cx="652.2" cy="829.7" r="3.8"/><circle cx="347.7" cy="803.8" r="3.8"/><circle cx="335.2" cy="967.3" r="3.8"/><circle cx="268.5" cy="801.3" r="3.8"/><circle cx="376.9" cy="938.1" r="3.8"/><circle cx="372.7" cy="809.5" r="3.8"/><circle cx="331" cy="966.4" r="3.8"/><circle cx="235.1" cy="861.1" r="3.8"/><circle cx="460.3" cy="832.5" r="3.8"/><circle cx="406.1" cy="813" r="3.8"/><circle cx="439.5" cy="818" r="3.8"/><circle cx="205.9" cy="917.7" r="3.8"/><circle cx="239.3" cy="913.5" r="3.8"/><circle cx="406.1" cy="841.4" r="3.8"/><circle cx="185" cy="946.4" r="3.8"/><circle cx="397.8" cy="828.3" r="3.8"/><circle cx="481.2" cy="878.5" r="3.8"/><circle cx="226.7" cy="919.9" r="3.8"/><circle cx="381.1" cy="793.9" r="3.8"/><circle cx="247.6" cy="921.3" r="3.8"/><circle cx="185" cy="1010.8" r="3.8"/><circle cx="393.6" cy="815.5" r="3.8"/><circle cx="422.8" cy="808.4" r="3.8"/><circle cx="468.7" cy="837.7" r="3.8"/><circle cx="193.4" cy="976.5" r="3.8"/><circle cx="389.4" cy="832.3" r="3.8"/><circle cx="339.4" cy="821.8" r="3.8"/><circle cx="464.5" cy="864.2" r="3.8"/><circle cx="251.8" cy="951.3" r="3.8"/><circle cx="230.9" cy="932.7" r="3.8"/><circle cx="230.9" cy="886.1" r="3.8"/><circle cx="172.5" cy="938.2" r="3.8"/><circle cx="472.8" cy="835.5" r="3.8"/><circle cx="197.5" cy="992.8" r="3.8"/><circle cx="255.9" cy="923.9" r="3.8"/><circle cx="226.7" cy="919.7" r="3.8"/><circle cx="477" cy="879.7" r="3.8"/><circle cx="477" cy="830.7" r="3.8"/><circle cx="318.5" cy="795.2" r="3.8"/><circle cx="468.7" cy="869.9" r="3.8"/><circle cx="185" cy="955.2" r="3.8"/><circle cx="268.5" cy="807.5" r="3.8"/><circle cx="251.8" cy="977.7" r="3.8"/><circle cx="552.1" cy="915.3" r="3.8"/><circle cx="339.4" cy="979" r="3.8"/><circle cx="193.4" cy="884.6" r="3.8"/><circle cx="418.6" cy="748.9" r="3.8"/><circle cx="431.1" cy="815.3" r="3.8"/><circle cx="314.3" cy="966.8" r="3.8"/><circle cx="447.8" cy="824.6" r="3.8"/><circle cx="589.6" cy="886.5" r="3.8"/><circle cx="477" cy="915.7" r="3.8"/><circle cx="477" cy="811.9" r="3.8"/><circle cx="351.9" cy="943.9" r="3.8"/><circle cx="547.9" cy="852.2" r="3.8"/><circle cx="460.3" cy="875.1" r="3.8"/><circle cx="197.5" cy="812" r="3.8"/><circle cx="477" cy="951.6" r="3.8"/></g><g class="c1"><circle cx="205.9" cy="897.6" r="3.8"/><circle cx="318.5" cy="914.4" r="3.8"/><circle cx="260.1" cy="954.7" r="3.8"/><circle cx="351.9" cy="959" r="3.8"/><circle cx="435.3" cy="819.6" r="3.8"/><circle cx="222.6" cy="933.9" r="3.8"/><circle cx="331" cy="825.5" r="3.8"/><circle cx="422.8" cy="893.4" r="3.8"/><circle cx="314.3" cy="819.7" r="3.8"/><circle cx="351.9" cy="936.3" r="3.8"/><circle cx="239.3" cy="940.4" r="3.8"/><circle cx="226.7" cy="906.1" r="3.8"/><circle cx="247.6" cy="871" r="3.8"/><circle cx="376.9" cy="824.8" r="3.8"/><circle cx="268.5" cy="849.6" r="3.8"/><circle cx="381.1" cy="923.8" r="3.8"/><circle cx="406.1" cy="866.2" r="3.8"/><circle cx="247.6" cy="853.1" r="3.8"/><circle cx="276.8" cy="850.7" r="3.8"/><circle cx="243.4" cy="880.2" r="3.8"/><circle cx="389.4" cy="934.4" r="3.8"/><circle cx="351.9" cy="962.9" r="3.8"/><circle cx="422.8" cy="838.8" r="3.8"/><circle cx="422.8" cy="840.3" r="3.8"/><circle cx="310.2" cy="822.4" r="3.8"/><circle cx="247.6" cy="869.8" r="3.8"/><circle cx="360.2" cy="934.1" r="3.8"/><circle cx="418.6" cy="886.1" r="3.8"/><circle cx="385.3" cy="907.7" r="3.8"/><circle cx="289.3" cy="956.4" r="3.8"/><circle cx="422.8" cy="893.8" r="3.8"/><circle cx="422.8" cy="843.1" r="3.8"/><circle cx="427" cy="869.6" r="3.8"/><circle cx="260.1" cy="955.8" r="3.8"/><circle cx="356.1" cy="829.9" r="3.8"/><circle cx="393.6" cy="931" r="3.8"/><circle cx="247.6" cy="845" r="3.8"/><circle cx="414.4" cy="829.2" r="3.8"/><circle cx="393.6" cy="872.6" r="3.8"/><circle cx="226.7" cy="899.5" r="3.8"/><circle cx="410.3" cy="830.5" r="3.8"/><circle cx="310.2" cy="937.2" r="3.8"/><circle cx="418.6" cy="891.3" r="3.8"/><circle cx="435.3" cy="823" r="3.8"/><circle cx="297.7" cy="832.9" r="3.8"/><circle cx="255.9" cy="916.6" r="3.8"/><circle cx="260.1" cy="883.5" r="3.8"/><circle cx="322.7" cy="832.3" r="3.8"/><circle cx="435.3" cy="892.5" r="3.8"/><circle cx="343.5" cy="823.9" r="3.8"/><circle cx="310.2" cy="936.7" r="3.8"/><circle cx="230.9" cy="905" r="3.8"/><circle cx="431.1" cy="871" r="3.8"/><circle cx="268.5" cy="826.3" r="3.8"/><circle cx="410.3" cy="923.5" r="3.8"/><circle cx="268.5" cy="963" r="3.8"/><circle cx="247.6" cy="892.9" r="3.8"/><circle cx="351.9" cy="960.3" r="3.8"/><circle cx="427" cy="901.4" r="3.8"/><circle cx="364.4" cy="819.4" r="3.8"/><circle cx="318.5" cy="931.2" r="3.8"/><circle cx="435.3" cy="887.6" r="3.8"/><circle cx="343.5" cy="923.2" r="3.8"/><circle cx="268.5" cy="827.4" r="3.8"/><circle cx="239.3" cy="947.5" r="3.8"/><circle cx="439.5" cy="887.6" r="3.8"/><circle cx="414.4" cy="927.7" r="3.8"/><circle cx="389.4" cy="940.3" r="3.8"/><circle cx="360.2" cy="825.9" r="3.8"/><circle cx="255.9" cy="887.1" r="3.8"/><circle cx="385.3" cy="867.8" r="3.8"/><circle cx="322.7" cy="818.9" r="3.8"/><circle cx="389.4" cy="858.7" r="3.8"/><circle cx="276.8" cy="889.3" r="3.8"/><circle cx="360.2" cy="844.6" r="3.8"/><circle cx="318.5" cy="930" r="3.8"/><circle cx="414.4" cy="922.7" r="3.8"/><circle cx="235.1" cy="895.8" r="3.8"/><circle cx="343.5" cy="947.8" r="3.8"/><circle cx="268.5" cy="962.5" r="3.8"/><circle cx="251.8" cy="866.1" r="3.8"/><circle cx="343.5" cy="929.5" r="3.8"/><circle cx="322.7" cy="836.6" r="3.8"/><circle cx="347.7" cy="965.3" r="3.8"/><circle cx="247.6" cy="910.4" r="3.8"/><circle cx="255.9" cy="877.2" r="3.8"/><circle cx="393.6" cy="859.9" r="3.8"/><circle cx="351.9" cy="828.3" r="3.8"/><circle cx="247.6" cy="894.5" r="3.8"/><circle cx="339.4" cy="921" r="3.8"/><circle cx="389.4" cy="837.6" r="3.8"/><circle cx="414.4" cy="833" r="3.8"/><circle cx="389.4" cy="947.6" r="3.8"/><circle cx="431.1" cy="876.2" r="3.8"/><circle cx="427" cy="874" r="3.8"/><circle cx="247.6" cy="914.5" r="3.8"/><circle cx="427" cy="842.9" r="3.8"/><circle cx="255.9" cy="854.2" r="3.8"/><circle cx="343.5" cy="947" r="3.8"/><circle cx="310.2" cy="939.8" r="3.8"/><circle cx="331" cy="956" r="3.8"/><circle cx="281" cy="871" r="3.8"/><circle cx="281" cy="881.2" r="3.8"/><circle cx="239.3" cy="874.9" r="3.8"/><circle cx="376.9" cy="919.1" r="3.8"/><circle cx="235.1" cy="878.4" r="3.8"/><circle cx="318.5" cy="823.8" r="3.8"/><circle cx="343.5" cy="944.4" r="3.8"/><circle cx="393.6" cy="863" r="3.8"/><circle cx="310.2" cy="948.9" r="3.8"/><circle cx="427" cy="836.5" r="3.8"/><circle cx="347.7" cy="835.9" r="3.8"/><circle cx="235.1" cy="904.7" r="3.8"/><circle cx="260.1" cy="855.9" r="3.8"/><circle cx="364.4" cy="823.8" r="3.8"/><circle cx="364.4" cy="829.5" r="3.8"/><circle cx="268.5" cy="837.4" r="3.8"/><circle cx="226.7" cy="895.3" r="3.8"/><circle cx="276.8" cy="838.2" r="3.8"/><circle cx="310.2" cy="826.8" r="3.8"/><circle cx="306" cy="845.3" r="3.8"/><circle cx="343.5" cy="960.2" r="3.8"/><circle cx="364.4" cy="871.1" r="3.8"/><circle cx="289.3" cy="956.6" r="3.8"/><circle cx="255.9" cy="880.5" r="3.8"/><circle cx="226.7" cy="939.6" r="3.8"/><circle cx="385.3" cy="866.3" r="3.8"/><circle cx="343.5" cy="950.8" r="3.8"/><circle cx="385.3" cy="919.9" r="3.8"/><circle cx="276.8" cy="852.2" r="3.8"/><circle cx="414.4" cy="826.3" r="3.8"/><circle cx="226.7" cy="903.1" r="3.8"/><circle cx="276.8" cy="947" r="3.8"/><circle cx="372.7" cy="827.3" r="3.8"/><circle cx="397.8" cy="907.4" r="3.8"/><circle cx="347.7" cy="827.6" r="3.8"/><circle cx="414.4" cy="921.2" r="3.8"/><circle cx="235.1" cy="898.2" r="3.8"/><circle cx="272.6" cy="830.3" r="3.8"/><circle cx="247.6" cy="905.4" r="3.8"/><circle cx="268.5" cy="820" r="3.8"/><circle cx="393.6" cy="932.1" r="3.8"/><circle cx="381.1" cy="906.9" r="3.8"/><circle cx="410.3" cy="882.2" r="3.8"/><circle cx="247.6" cy="847.3" r="3.8"/><circle cx="435.3" cy="880.4" r="3.8"/><circle cx="235.1" cy="945.5" r="3.8"/><circle cx="331" cy="823.9" r="3.8"/><circle cx="372.7" cy="913.2" r="3.8"/><circle cx="339.4" cy="896" r="3.8"/><circle cx="297.7" cy="832.8" r="3.8"/><circle cx="360.2" cy="842.1" r="3.8"/><circle cx="247.6" cy="871.7" r="3.8"/><circle cx="276.8" cy="844.2" r="3.8"/><circle cx="297.7" cy="939.8" r="3.8"/><circle cx="289.3" cy="839.4" r="3.8"/><circle cx="406.1" cy="916.4" r="3.8"/><circle cx="268.5" cy="832.6" r="3.8"/><circle cx="401.9" cy="870.8" r="3.8"/><circle cx="372.7" cy="820.8" r="3.8"/><circle cx="306" cy="948.3" r="3.8"/><circle cx="243.4" cy="879.2" r="3.8"/><circle cx="268.5" cy="851.3" r="3.8"/><circle cx="385.3" cy="914.2" r="3.8"/><circle cx="306" cy="948.3" r="3.8"/><circle cx="230.9" cy="944.4" r="3.8"/><circle cx="397.8" cy="863" r="3.8"/><circle cx="289.3" cy="838.1" r="3.8"/><circle cx="385.3" cy="854.3" r="3.8"/><circle cx="410.3" cy="843.8" r="3.8"/><circle cx="422.8" cy="858.9" r="3.8"/><circle cx="226.7" cy="941.1" r="3.8"/><circle cx="368.6" cy="937.8" r="3.8"/></g><g class="c2"><circle cx="289.3" cy="843.3" r="3.8"/><circle cx="318.5" cy="946.5" r="3.8"/><circle cx="289.3" cy="947.4" r="3.8"/><circle cx="356.1" cy="852.4" r="3.8"/><circle cx="393.6" cy="929" r="3.8"/><circle cx="360.2" cy="868.4" r="3.8"/><circle cx="393.6" cy="846.4" r="3.8"/><circle cx="414.4" cy="863.7" r="3.8"/><circle cx="268.5" cy="955" r="3.8"/><circle cx="297.7" cy="872.7" r="3.8"/><circle cx="293.5" cy="838.2" r="3.8"/><circle cx="297.7" cy="842.8" r="3.8"/><circle cx="368.6" cy="849.5" r="3.8"/><circle cx="372.7" cy="910.9" r="3.8"/><circle cx="406.1" cy="853.4" r="3.8"/><circle cx="376.9" cy="927.9" r="3.8"/><circle cx="268.5" cy="853.1" r="3.8"/><circle cx="376.9" cy="926.9" r="3.8"/><circle cx="418.6" cy="859.9" r="3.8"/><circle cx="260.1" cy="858.8" r="3.8"/><circle cx="322.7" cy="876.2" r="3.8"/><circle cx="414.4" cy="901.4" r="3.8"/><circle cx="372.7" cy="838.6" r="3.8"/><circle cx="297.7" cy="921.7" r="3.8"/><circle cx="372.7" cy="848.1" r="3.8"/><circle cx="301.8" cy="889.4" r="3.8"/><circle cx="356.1" cy="926.1" r="3.8"/><circle cx="285.1" cy="948.7" r="3.8"/><circle cx="418.6" cy="870.9" r="3.8"/><circle cx="268.5" cy="876.2" r="3.8"/><circle cx="372.7" cy="830.8" r="3.8"/><circle cx="364.4" cy="852.2" r="3.8"/><circle cx="351.9" cy="852.6" r="3.8"/><circle cx="297.7" cy="856.7" r="3.8"/><circle cx="247.6" cy="897.7" r="3.8"/><circle cx="276.8" cy="880.7" r="3.8"/><circle cx="397.8" cy="914.4" r="3.8"/><circle cx="322.7" cy="942.2" r="3.8"/><circle cx="268.5" cy="855.8" r="3.8"/><circle cx="401.9" cy="867.9" r="3.8"/><circle cx="268.5" cy="951.8" r="3.8"/><circle cx="372.7" cy="835.5" r="3.8"/><circle cx="368.6" cy="924.1" r="3.8"/><circle cx="418.6" cy="892.9" r="3.8"/><circle cx="364.4" cy="856" r="3.8"/><circle cx="360.2" cy="860" r="3.8"/><circle cx="368.6" cy="931.3" r="3.8"/><circle cx="268.5" cy="920" r="3.8"/><circle cx="347.7" cy="927.1" r="3.8"/><circle cx="351.9" cy="919.3" r="3.8"/><circle cx="318.5" cy="889" r="3.8"/><circle cx="314.3" cy="934.3" r="3.8"/><circle cx="339.4" cy="851.5" r="3.8"/><circle cx="360.2" cy="874.4" r="3.8"/><circle cx="389.4" cy="904.4" r="3.8"/><circle cx="393.6" cy="842.9" r="3.8"/><circle cx="364.4" cy="863.6" r="3.8"/><circle cx="393.6" cy="905" r="3.8"/><circle cx="414.4" cy="878.1" r="3.8"/><circle cx="289.3" cy="954.2" r="3.8"/><circle cx="297.7" cy="876.7" r="3.8"/><circle cx="351.9" cy="846.9" r="3.8"/><circle cx="418.6" cy="900" r="3.8"/><circle cx="414.4" cy="900.9" r="3.8"/><circle cx="393.6" cy="847" r="3.8"/><circle cx="331" cy="937.5" r="3.8"/><circle cx="414.4" cy="848.6" r="3.8"/><circle cx="247.6" cy="899.6" r="3.8"/><circle cx="435.3" cy="853.6" r="3.8"/><circle cx="347.7" cy="835" r="3.8"/><circle cx="289.3" cy="947.7" r="3.8"/><circle cx="435.3" cy="852" r="3.8"/><circle cx="393.6" cy="916.6" r="3.8"/><circle cx="364.4" cy="927" r="3.8"/><circle cx="297.7" cy="872.1" r="3.8"/><circle cx="410.3" cy="910.2" r="3.8"/><circle cx="356.1" cy="920.4" r="3.8"/><circle cx="393.6" cy="905.6" r="3.8"/><circle cx="351.9" cy="926.2" r="3.8"/><circle cx="310.2" cy="942.9" r="3.8"/><circle cx="289.3" cy="845" r="3.8"/><circle cx="385.3" cy="904.5" r="3.8"/><circle cx="297.7" cy="839.8" r="3.8"/><circle cx="372.7" cy="835.2" r="3.8"/><circle cx="331" cy="948.6" r="3.8"/><circle cx="414.4" cy="844.1" r="3.8"/><circle cx="414.4" cy="877.5" r="3.8"/><circle cx="297.7" cy="924.5" r="3.8"/><circle cx="322.7" cy="951.4" r="3.8"/><circle cx="289.3" cy="952.1" r="3.8"/><circle cx="318.5" cy="866.5" r="3.8"/><circle cx="339.4" cy="848.8" r="3.8"/><circle cx="297.7" cy="921" r="3.8"/><circle cx="293.5" cy="944.2" r="3.8"/><circle cx="264.3" cy="957.9" r="3.8"/><circle cx="372.7" cy="844.7" r="3.8"/><circle cx="372.7" cy="847.2" r="3.8"/><circle cx="268.5" cy="917.5" r="3.8"/><circle cx="272.6" cy="833.7" r="3.8"/><circle cx="260.1" cy="900.8" r="3.8"/><circle cx="310.2" cy="928" r="3.8"/><circle cx="414.4" cy="903.8" r="3.8"/><circle cx="260.1" cy="905.7" r="3.8"/><circle cx="331" cy="835.5" r="3.8"/><circle cx="351.9" cy="844.1" r="3.8"/><circle cx="339.4" cy="907.4" r="3.8"/><circle cx="351.9" cy="866" r="3.8"/><circle cx="393.6" cy="844.9" r="3.8"/><circle cx="356.1" cy="839.1" r="3.8"/><circle cx="268.5" cy="926.6" r="3.8"/><circle cx="255.9" cy="914.2" r="3.8"/><circle cx="393.6" cy="921.1" r="3.8"/><circle cx="356.1" cy="907.4" r="3.8"/><circle cx="297.7" cy="860.5" r="3.8"/><circle cx="351.9" cy="828.9" r="3.8"/><circle cx="318.5" cy="939" r="3.8"/><circle cx="326.9" cy="825.1" r="3.8"/><circle cx="335.2" cy="841.1" r="3.8"/><circle cx="397.8" cy="921.7" r="3.8"/><circle cx="322.7" cy="850" r="3.8"/><circle cx="343.5" cy="850.1" r="3.8"/><circle cx="351.9" cy="862" r="3.8"/><circle cx="264.3" cy="872.2" r="3.8"/><circle cx="255.9" cy="910.4" r="3.8"/><circle cx="260.1" cy="905.9" r="3.8"/><circle cx="289.3" cy="942" r="3.8"/><circle cx="414.4" cy="848.3" r="3.8"/><circle cx="351.9" cy="919.3" r="3.8"/><circle cx="276.8" cy="898.3" r="3.8"/><circle cx="335.2" cy="840.1" r="3.8"/><circle cx="397.8" cy="881" r="3.8"/><circle cx="331" cy="947.3" r="3.8"/><circle cx="289.3" cy="941.2" r="3.8"/><circle cx="235.1" cy="940.3" r="3.8"/><circle cx="247.6" cy="878.8" r="3.8"/><circle cx="393.6" cy="923.7" r="3.8"/><circle cx="414.4" cy="899" r="3.8"/><circle cx="268.5" cy="874.9" r="3.8"/><circle cx="406.1" cy="878" r="3.8"/><circle cx="393.6" cy="915.2" r="3.8"/><circle cx="401.9" cy="876.3" r="3.8"/><circle cx="368.6" cy="934.8" r="3.8"/><circle cx="268.5" cy="953.7" r="3.8"/><circle cx="414.4" cy="870.3" r="3.8"/><circle cx="301.8" cy="877.5" r="3.8"/><circle cx="276.8" cy="923.6" r="3.8"/><circle cx="318.5" cy="947.4" r="3.8"/><circle cx="310.2" cy="845.6" r="3.8"/><circle cx="397.8" cy="840" r="3.8"/><circle cx="297.7" cy="920.6" r="3.8"/><circle cx="351.9" cy="917.3" r="3.8"/><circle cx="418.6" cy="857.4" r="3.8"/><circle cx="281" cy="897.5" r="3.8"/><circle cx="435.3" cy="853.7" r="3.8"/><circle cx="431.1" cy="854.2" r="3.8"/><circle cx="351.9" cy="838.6" r="3.8"/><circle cx="397.8" cy="901.5" r="3.8"/><circle cx="431.1" cy="856.8" r="3.8"/><circle cx="281" cy="920.3" r="3.8"/><circle cx="435.3" cy="851" r="3.8"/><circle cx="372.7" cy="911.7" r="3.8"/><circle cx="351.9" cy="933" r="3.8"/><circle cx="339.4" cy="906.2" r="3.8"/><circle cx="356.1" cy="924.4" r="3.8"/><circle cx="393.6" cy="854.5" r="3.8"/><circle cx="364.4" cy="904.7" r="3.8"/><circle cx="264.3" cy="915.6" r="3.8"/><circle cx="322.7" cy="825.4" r="3.8"/><circle cx="414.4" cy="916.4" r="3.8"/><circle cx="414.4" cy="908.1" r="3.8"/><circle cx="389.4" cy="849.6" r="3.8"/><circle cx="343.5" cy="920.1" r="3.8"/><circle cx="364.4" cy="904.4" r="3.8"/><circle cx="431.1" cy="850.4" r="3.8"/><circle cx="301.8" cy="845" r="3.8"/><circle cx="418.6" cy="862.3" r="3.8"/><circle cx="289.3" cy="954.5" r="3.8"/><circle cx="347.7" cy="930.4" r="3.8"/><circle cx="376.9" cy="841.7" r="3.8"/><circle cx="281" cy="936.8" r="3.8"/><circle cx="414.4" cy="877.8" r="3.8"/><circle cx="272.6" cy="951.3" r="3.8"/><circle cx="410.3" cy="907.6" r="3.8"/><circle cx="264.3" cy="914.9" r="3.8"/><circle cx="314.3" cy="848.1" r="3.8"/><circle cx="322.7" cy="846.6" r="3.8"/><circle cx="310.2" cy="849.6" r="3.8"/><circle cx="393.6" cy="845.4" r="3.8"/><circle cx="414.4" cy="869" r="3.8"/><circle cx="372.7" cy="840.6" r="3.8"/><circle cx="406.1" cy="859.2" r="3.8"/><circle cx="401.9" cy="865.4" r="3.8"/><circle cx="339.4" cy="855.1" r="3.8"/><circle cx="343.5" cy="849.4" r="3.8"/><circle cx="281" cy="934.3" r="3.8"/><circle cx="372.7" cy="839.5" r="3.8"/><circle cx="393.6" cy="844.5" r="3.8"/><circle cx="339.4" cy="953.3" r="3.8"/><circle cx="351.9" cy="835.3" r="3.8"/><circle cx="260.1" cy="939.4" r="3.8"/><circle cx="393.6" cy="839.9" r="3.8"/><circle cx="376.9" cy="934.1" r="3.8"/><circle cx="318.5" cy="949.6" r="3.8"/><circle cx="343.5" cy="861.2" r="3.8"/><circle cx="255.9" cy="909.9" r="3.8"/><circle cx="247.6" cy="900" r="3.8"/><circle cx="268.5" cy="949.8" r="3.8"/><circle cx="435.3" cy="856" r="3.8"/><circle cx="268.5" cy="924.4" r="3.8"/><circle cx="414.4" cy="906.6" r="3.8"/><circle cx="297.7" cy="848.5" r="3.8"/><circle cx="351.9" cy="928.9" r="3.8"/><circle cx="351.9" cy="897.6" r="3.8"/><circle cx="393.6" cy="921.4" r="3.8"/><circle cx="397.8" cy="861.2" r="3.8"/><circle cx="393.6" cy="921.9" r="3.8"/><circle cx="435.3" cy="855.8" r="3.8"/><circle cx="406.1" cy="859" r="3.8"/><circle cx="306" cy="929.1" r="3.8"/><circle cx="281" cy="914.2" r="3.8"/><circle cx="285.1" cy="954.9" r="3.8"/><circle cx="243.4" cy="896.8" r="3.8"/><circle cx="351.9" cy="863.9" r="3.8"/><circle cx="260.1" cy="933.8" r="3.8"/><circle cx="247.6" cy="875.2" r="3.8"/><circle cx="368.6" cy="923.4" r="3.8"/><circle cx="260.1" cy="893" r="3.8"/><circle cx="343.5" cy="909.2" r="3.8"/><circle cx="297.7" cy="852.2" r="3.8"/><circle cx="314.3" cy="847.6" r="3.8"/><circle cx="427" cy="852" r="3.8"/><circle cx="414.4" cy="871.2" r="3.8"/><circle cx="360.2" cy="845" r="3.8"/></g><g class="c3"><circle cx="310.2" cy="891.6" r="3.8"/><circle cx="289.3" cy="931.8" r="3.8"/><circle cx="347.7" cy="909.3" r="3.8"/><circle cx="289.3" cy="921.6" r="3.8"/><circle cx="310.2" cy="895.6" r="3.8"/><circle cx="272.6" cy="911.4" r="3.8"/><circle cx="376.9" cy="881.7" r="3.8"/><circle cx="310.2" cy="891.4" r="3.8"/><circle cx="285.1" cy="892" r="3.8"/><circle cx="268.5" cy="940" r="3.8"/><circle cx="285.1" cy="921.9" r="3.8"/><circle cx="331" cy="881.4" r="3.8"/><circle cx="376.9" cy="871.9" r="3.8"/><circle cx="331" cy="929.7" r="3.8"/><circle cx="289.3" cy="873.9" r="3.8"/><circle cx="301.8" cy="913.2" r="3.8"/><circle cx="368.6" cy="902.6" r="3.8"/><circle cx="372.7" cy="852" r="3.8"/><circle cx="347.7" cy="900.7" r="3.8"/><circle cx="310.2" cy="898.1" r="3.8"/><circle cx="389.4" cy="874.7" r="3.8"/><circle cx="310.2" cy="872.9" r="3.8"/><circle cx="372.7" cy="867.7" r="3.8"/><circle cx="331" cy="883.9" r="3.8"/><circle cx="314.3" cy="858.9" r="3.8"/><circle cx="285.1" cy="933.5" r="3.8"/><circle cx="264.3" cy="946.3" r="3.8"/><circle cx="306" cy="914.2" r="3.8"/><circle cx="393.6" cy="882.3" r="3.8"/><circle cx="339.4" cy="867.5" r="3.8"/><circle cx="331" cy="918.1" r="3.8"/><circle cx="326.9" cy="880.8" r="3.8"/><circle cx="335.2" cy="913.1" r="3.8"/><circle cx="289.3" cy="886.7" r="3.8"/><circle cx="310.2" cy="885.3" r="3.8"/><circle cx="306" cy="867.6" r="3.8"/><circle cx="372.7" cy="867.7" r="3.8"/><circle cx="351.9" cy="860" r="3.8"/><circle cx="281" cy="908.2" r="3.8"/><circle cx="268.5" cy="886.9" r="3.8"/><circle cx="276.8" cy="908.4" r="3.8"/><circle cx="343.5" cy="878.7" r="3.8"/><circle cx="326.9" cy="937.8" r="3.8"/><circle cx="331" cy="926.8" r="3.8"/><circle cx="264.3" cy="931.9" r="3.8"/><circle cx="331" cy="885" r="3.8"/><circle cx="360.2" cy="883.3" r="3.8"/><circle cx="293.5" cy="848.6" r="3.8"/><circle cx="331" cy="885.3" r="3.8"/><circle cx="285.1" cy="893.5" r="3.8"/><circle cx="310.2" cy="893" r="3.8"/><circle cx="351.9" cy="872.8" r="3.8"/><circle cx="322.7" cy="859.3" r="3.8"/><circle cx="331" cy="952.5" r="3.8"/><circle cx="339.4" cy="876" r="3.8"/><circle cx="364.4" cy="890" r="3.8"/><circle cx="331" cy="914" r="3.8"/><circle cx="289.3" cy="893.5" r="3.8"/><circle cx="326.9" cy="891.7" r="3.8"/><circle cx="372.7" cy="865.6" r="3.8"/><circle cx="331" cy="911.6" r="3.8"/><circle cx="326.9" cy="896.8" r="3.8"/><circle cx="289.3" cy="911" r="3.8"/><circle cx="289.3" cy="891.7" r="3.8"/><circle cx="310.2" cy="880.2" r="3.8"/><circle cx="289.3" cy="930.6" r="3.8"/><circle cx="310.2" cy="923.3" r="3.8"/><circle cx="289.3" cy="870.7" r="3.8"/><circle cx="331" cy="888.4" r="3.8"/><circle cx="326.9" cy="884.1" r="3.8"/><circle cx="293.5" cy="914.4" r="3.8"/><circle cx="306" cy="863.4" r="3.8"/><circle cx="310.2" cy="871.7" r="3.8"/><circle cx="331" cy="899.9" r="3.8"/><circle cx="268.5" cy="881.8" r="3.8"/><circle cx="372.7" cy="865.4" r="3.8"/><circle cx="306" cy="899" r="3.8"/><circle cx="331" cy="923.7" r="3.8"/><circle cx="268.5" cy="933.5" r="3.8"/><circle cx="372.7" cy="868.3" r="3.8"/><circle cx="268.5" cy="941" r="3.8"/><circle cx="376.9" cy="863" r="3.8"/><circle cx="351.9" cy="901.8" r="3.8"/><circle cx="372.7" cy="892.2" r="3.8"/><circle cx="289.3" cy="925.8" r="3.8"/><circle cx="264.3" cy="935.9" r="3.8"/><circle cx="331" cy="878.3" r="3.8"/><circle cx="368.6" cy="883.3" r="3.8"/><circle cx="289.3" cy="931.3" r="3.8"/><circle cx="351.9" cy="850.7" r="3.8"/><circle cx="289.3" cy="889.1" r="3.8"/><circle cx="351.9" cy="884.8" r="3.8"/><circle cx="343.5" cy="870.6" r="3.8"/><circle cx="326.9" cy="939.1" r="3.8"/><circle cx="289.3" cy="880.5" r="3.8"/><circle cx="289.3" cy="917.7" r="3.8"/><circle cx="268.5" cy="941.2" r="3.8"/><circle cx="381.1" cy="866.7" r="3.8"/><circle cx="381.1" cy="882.4" r="3.8"/><circle cx="347.7" cy="900.9" r="3.8"/><circle cx="314.3" cy="898.7" r="3.8"/><circle cx="318.5" cy="864.6" r="3.8"/><circle cx="281" cy="930.8" r="3.8"/><circle cx="331" cy="928.4" r="3.8"/><circle cx="264.3" cy="893.1" r="3.8"/><circle cx="268.5" cy="886" r="3.8"/><circle cx="289.3" cy="910.2" r="3.8"/><circle cx="272.6" cy="908.4" r="3.8"/><circle cx="285.1" cy="919.3" r="3.8"/><circle cx="268.5" cy="936.2" r="3.8"/><circle cx="297.7" cy="899.2" r="3.8"/><circle cx="310.2" cy="921.2" r="3.8"/><circle cx="343.5" cy="869.4" r="3.8"/><circle cx="301.8" cy="914" r="3.8"/><circle cx="264.3" cy="865.3" r="3.8"/><circle cx="306" cy="864.8" r="3.8"/><circle cx="301.8" cy="867" r="3.8"/><circle cx="331" cy="936.8" r="3.8"/><circle cx="351.9" cy="878.2" r="3.8"/><circle cx="268.5" cy="910.9" r="3.8"/><circle cx="372.7" cy="861" r="3.8"/><circle cx="268.5" cy="867.6" r="3.8"/><circle cx="318.5" cy="875.5" r="3.8"/><circle cx="372.7" cy="904.3" r="3.8"/><circle cx="314.3" cy="861.8" r="3.8"/><circle cx="264.3" cy="930.2" r="3.8"/><circle cx="268.5" cy="885.3" r="3.8"/><circle cx="310.2" cy="901" r="3.8"/><circle cx="306" cy="874.4" r="3.8"/><circle cx="331" cy="882.7" r="3.8"/><circle cx="289.3" cy="854.8" r="3.8"/><circle cx="372.7" cy="904.3" r="3.8"/><circle cx="385.3" cy="891.6" r="3.8"/><circle cx="314.3" cy="864.8" r="3.8"/><circle cx="260.1" cy="904.4" r="3.8"/><circle cx="389.4" cy="888" r="3.8"/><circle cx="326.9" cy="945.2" r="3.8"/><circle cx="326.9" cy="948.1" r="3.8"/><circle cx="268.5" cy="880.7" r="3.8"/><circle cx="335.2" cy="902.5" r="3.8"/><circle cx="372.7" cy="858" r="3.8"/><circle cx="310.2" cy="887.2" r="3.8"/><circle cx="322.7" cy="860.7" r="3.8"/><circle cx="310.2" cy="875.7" r="3.8"/><circle cx="347.7" cy="892" r="3.8"/><circle cx="268.5" cy="861.4" r="3.8"/><circle cx="268.5" cy="884" r="3.8"/><circle cx="347.7" cy="889.6" r="3.8"/><circle cx="331" cy="923.9" r="3.8"/><circle cx="368.6" cy="895.1" r="3.8"/><circle cx="268.5" cy="862.8" r="3.8"/><circle cx="301.8" cy="908.5" r="3.8"/><circle cx="372.7" cy="892" r="3.8"/><circle cx="268.5" cy="928.3" r="3.8"/><circle cx="376.9" cy="877.4" r="3.8"/><circle cx="372.7" cy="859.9" r="3.8"/><circle cx="268.5" cy="893.3" r="3.8"/><circle cx="331" cy="927.5" r="3.8"/><circle cx="331" cy="931.9" r="3.8"/><circle cx="310.2" cy="895.2" r="3.8"/><circle cx="293.5" cy="859" r="3.8"/><circle cx="306" cy="879.1" r="3.8"/><circle cx="335.2" cy="869.4" r="3.8"/><circle cx="331" cy="918.6" r="3.8"/><circle cx="314.3" cy="869.6" r="3.8"/><circle cx="310.2" cy="918.5" r="3.8"/><circle cx="281" cy="926.9" r="3.8"/><circle cx="360.2" cy="877.6" r="3.8"/><circle cx="331" cy="853.3" r="3.8"/><circle cx="331" cy="872.5" r="3.8"/><circle cx="385.3" cy="879.2" r="3.8"/><circle cx="314.3" cy="887.7" r="3.8"/><circle cx="322.7" cy="898.5" r="3.8"/><circle cx="310.2" cy="895.7" r="3.8"/><circle cx="281" cy="893.2" r="3.8"/><circle cx="285.1" cy="875.7" r="3.8"/><circle cx="310.2" cy="913.2" r="3.8"/><circle cx="293.5" cy="901.6" r="3.8"/><circle cx="310.2" cy="892.9" r="3.8"/><circle cx="310.2" cy="891" r="3.8"/><circle cx="264.3" cy="897.1" r="3.8"/><circle cx="331" cy="861.8" r="3.8"/><circle cx="306" cy="874.6" r="3.8"/><circle cx="376.9" cy="880.3" r="3.8"/><circle cx="372.7" cy="873.5" r="3.8"/><circle cx="393.6" cy="891.9" r="3.8"/><circle cx="351.9" cy="881" r="3.8"/><circle cx="289.3" cy="874.5" r="3.8"/><circle cx="264.3" cy="892.6" r="3.8"/><circle cx="310.2" cy="925" r="3.8"/><circle cx="293.5" cy="867.4" r="3.8"/><circle cx="310.2" cy="882.9" r="3.8"/><circle cx="331" cy="894.7" r="3.8"/><circle cx="310.2" cy="887.3" r="3.8"/><circle cx="314.3" cy="886.5" r="3.8"/><circle cx="331" cy="846.4" r="3.8"/><circle cx="385.3" cy="874.3" r="3.8"/><circle cx="310.2" cy="874.8" r="3.8"/><circle cx="393.6" cy="884.4" r="3.8"/><circle cx="268.5" cy="940.3" r="3.8"/><circle cx="289.3" cy="894.6" r="3.8"/><circle cx="372.7" cy="868.4" r="3.8"/><circle cx="343.5" cy="881.2" r="3.8"/><circle cx="351.9" cy="859.5" r="3.8"/><circle cx="310.2" cy="918.3" r="3.8"/><circle cx="306" cy="862" r="3.8"/><circle cx="393.6" cy="882.6" r="3.8"/><circle cx="393.6" cy="903.1" r="3.8"/><circle cx="331" cy="951.8" r="3.8"/><circle cx="397.8" cy="878.7" r="3.8"/><circle cx="385.3" cy="892.6" r="3.8"/><circle cx="331" cy="928" r="3.8"/><circle cx="289.3" cy="883.3" r="3.8"/><circle cx="410.3" cy="855.1" r="3.8"/><circle cx="268.5" cy="945.7" r="3.8"/><circle cx="368.6" cy="884.9" r="3.8"/><circle cx="326.9" cy="914.5" r="3.8"/><circle cx="285.1" cy="859" r="3.8"/><circle cx="268.5" cy="884.8" r="3.8"/><circle cx="310.2" cy="893.6" r="3.8"/><circle cx="310.2" cy="925.5" r="3.8"/><circle cx="347.7" cy="905" r="3.8"/><circle cx="289.3" cy="924.8" r="3.8"/><circle cx="310.2" cy="902.2" r="3.8"/><circle cx="310.2" cy="916.7" r="3.8"/><circle cx="310.2" cy="883.2" r="3.8"/><circle cx="289.3" cy="867.6" r="3.8"/><circle cx="393.6" cy="894" r="3.8"/><circle cx="306" cy="863.5" r="3.8"/><circle cx="343.5" cy="874.7" r="3.8"/><circle cx="272.6" cy="886.3" r="3.8"/><circle cx="285.1" cy="866.1" r="3.8"/><circle cx="285.1" cy="905" r="3.8"/><circle cx="372.7" cy="929.3" r="3.8"/><circle cx="368.6" cy="870.2" r="3.8"/><circle cx="289.3" cy="850" r="3.8"/><circle cx="372.7" cy="893.2" r="3.8"/><circle cx="331" cy="842.2" r="3.8"/><circle cx="347.7" cy="890.4" r="3.8"/><circle cx="372.7" cy="930.1" r="3.8"/><circle cx="372.7" cy="884.1" r="3.8"/><circle cx="331" cy="839.8" r="3.8"/><circle cx="289.3" cy="893.4" r="3.8"/><circle cx="268.5" cy="864.6" r="3.8"/><circle cx="331" cy="899.6" r="3.8"/><circle cx="326.9" cy="903.3" r="3.8"/><circle cx="268.5" cy="888.3" r="3.8"/><circle cx="376.9" cy="871" r="3.8"/><circle cx="360.2" cy="882" r="3.8"/><circle cx="310.2" cy="872.5" r="3.8"/><circle cx="268.5" cy="864.4" r="3.8"/><circle cx="268.5" cy="902.9" r="3.8"/><circle cx="326.9" cy="931.2" r="3.8"/><circle cx="326.9" cy="920" r="3.8"/><circle cx="289.3" cy="889.1" r="3.8"/><circle cx="264.3" cy="944.4" r="3.8"/><circle cx="376.9" cy="906.6" r="3.8"/><circle cx="372.7" cy="876.3" r="3.8"/><circle cx="310.2" cy="917" r="3.8"/><circle cx="351.9" cy="889" r="3.8"/><circle cx="289.3" cy="868.1" r="3.8"/><circle cx="268.5" cy="880.5" r="3.8"/><circle cx="331" cy="847.9" r="3.8"/><circle cx="281" cy="908.4" r="3.8"/><circle cx="331" cy="861.4" r="3.8"/><circle cx="281" cy="930.5" r="3.8"/><circle cx="310.2" cy="889.4" r="3.8"/><circle cx="314.3" cy="918.7" r="3.8"/><circle cx="351.9" cy="877.7" r="3.8"/><circle cx="310.2" cy="886.8" r="3.8"/><circle cx="289.3" cy="906.1" r="3.8"/><circle cx="368.6" cy="893.2" r="3.8"/><circle cx="372.7" cy="904.1" r="3.8"/><circle cx="347.7" cy="852.2" r="3.8"/><circle cx="268.5" cy="905.3" r="3.8"/><circle cx="393.6" cy="895.9" r="3.8"/><circle cx="372.7" cy="900.8" r="3.8"/><circle cx="385.3" cy="886.5" r="3.8"/><circle cx="351.9" cy="896" r="3.8"/><circle cx="310.2" cy="889" r="3.8"/><circle cx="343.5" cy="882.9" r="3.8"/><circle cx="268.5" cy="861.1" r="3.8"/><circle cx="272.6" cy="947.4" r="3.8"/><circle cx="268.5" cy="865.1" r="3.8"/><circle cx="310.2" cy="875.5" r="3.8"/><circle cx="331" cy="858.3" r="3.8"/><circle cx="306" cy="873" r="3.8"/><circle cx="310.2" cy="883.2" r="3.8"/><circle cx="335.2" cy="859.2" r="3.8"/><circle cx="372.7" cy="874" r="3.8"/><circle cx="372.7" cy="881.2" r="3.8"/><circle cx="281" cy="931.9" r="3.8"/><circle cx="264.3" cy="900.2" r="3.8"/><circle cx="364.4" cy="859.6" r="3.8"/><circle cx="314.3" cy="867.4" r="3.8"/><circle cx="335.2" cy="866.8" r="3.8"/><circle cx="322.7" cy="880.4" r="3.8"/><circle cx="268.5" cy="868.3" r="3.8"/><circle cx="397.8" cy="878.9" r="3.8"/><circle cx="301.8" cy="907.6" r="3.8"/><circle cx="331" cy="895.2" r="3.8"/><circle cx="356.1" cy="888.4" r="3.8"/><circle cx="268.5" cy="902.7" r="3.8"/><circle cx="351.9" cy="889.6" r="3.8"/><circle cx="339.4" cy="877" r="3.8"/><circle cx="289.3" cy="864.8" r="3.8"/><circle cx="289.3" cy="889.5" r="3.8"/><circle cx="347.7" cy="857.4" r="3.8"/><circle cx="310.2" cy="915.5" r="3.8"/><circle cx="268.5" cy="934.9" r="3.8"/><circle cx="372.7" cy="874.5" r="3.8"/><circle cx="331" cy="862.6" r="3.8"/><circle cx="351.9" cy="861.2" r="3.8"/><circle cx="372.7" cy="860.4" r="3.8"/><circle cx="306" cy="858.6" r="3.8"/><circle cx="289.3" cy="904" r="3.8"/><circle cx="335.2" cy="853.6" r="3.8"/><circle cx="260.1" cy="940.9" r="3.8"/><circle cx="326.9" cy="839.8" r="3.8"/><circle cx="351.9" cy="886.3" r="3.8"/><circle cx="331" cy="907.9" r="3.8"/><circle cx="285.1" cy="937.7" r="3.8"/><circle cx="331" cy="886.5" r="3.8"/><circle cx="393.6" cy="891.7" r="3.8"/><circle cx="293.5" cy="922.2" r="3.8"/><circle cx="289.3" cy="861.9" r="3.8"/><circle cx="326.9" cy="904.7" r="3.8"/><circle cx="310.2" cy="903.9" r="3.8"/><circle cx="393.6" cy="885.5" r="3.8"/><circle cx="289.3" cy="878.2" r="3.8"/><circle cx="347.7" cy="884.4" r="3.8"/><circle cx="389.4" cy="872.8" r="3.8"/><circle cx="347.7" cy="878.1" r="3.8"/><circle cx="281" cy="902.1" r="3.8"/><circle cx="351.9" cy="904" r="3.8"/><circle cx="331" cy="889" r="3.8"/><circle cx="314.3" cy="880.6" r="3.8"/><circle cx="289.3" cy="908.8" r="3.8"/><circle cx="376.9" cy="886.5" r="3.8"/><circle cx="289.3" cy="864.5" r="3.8"/><circle cx="393.6" cy="899.4" r="3.8"/><circle cx="331" cy="928.8" r="3.8"/><circle cx="293.5" cy="853.6" r="3.8"/><circle cx="372.7" cy="885.8" r="3.8"/><circle cx="331" cy="882.4" r="3.8"/><circle cx="385.3" cy="891.1" r="3.8"/><circle cx="301.8" cy="894.7" r="3.8"/><circle cx="331" cy="871.6" r="3.8"/><circle cx="385.3" cy="876.5" r="3.8"/><circle cx="372.7" cy="878.9" r="3.8"/><circle cx="347.7" cy="907.9" r="3.8"/><circle cx="318.5" cy="852.7" r="3.8"/><circle cx="331" cy="852.4" r="3.8"/><circle cx="289.3" cy="856.5" r="3.8"/><circle cx="389.4" cy="896.3" r="3.8"/><circle cx="368.6" cy="884.6" r="3.8"/><circle cx="372.7" cy="876.5" r="3.8"/><circle cx="335.2" cy="920.2" r="3.8"/><circle cx="293.5" cy="908.4" r="3.8"/><circle cx="372.7" cy="902.3" r="3.8"/><circle cx="385.3" cy="877.8" r="3.8"/><circle cx="310.2" cy="857.4" r="3.8"/><circle cx="289.3" cy="904.1" r="3.8"/><circle cx="339.4" cy="869.6" r="3.8"/><circle cx="351.9" cy="907.7" r="3.8"/><circle cx="385.3" cy="881.3" r="3.8"/><circle cx="272.6" cy="886.8" r="3.8"/><circle cx="306" cy="901.4" r="3.8"/><circle cx="306" cy="910" r="3.8"/><circle cx="289.3" cy="916.1" r="3.8"/><circle cx="310.2" cy="903.9" r="3.8"/><circle cx="331" cy="871.9" r="3.8"/><circle cx="289.3" cy="898.6" r="3.8"/><circle cx="331" cy="943" r="3.8"/><circle cx="343.5" cy="888" r="3.8"/><circle cx="314.3" cy="859.3" r="3.8"/><circle cx="310.2" cy="895.1" r="3.8"/><circle cx="356.1" cy="905.2" r="3.8"/><circle cx="310.2" cy="894.3" r="3.8"/><circle cx="268.5" cy="905.6" r="3.8"/><circle cx="326.9" cy="923.2" r="3.8"/><circle cx="360.2" cy="887.4" r="3.8"/><circle cx="285.1" cy="876.2" r="3.8"/><circle cx="306" cy="858.6" r="3.8"/><circle cx="310.2" cy="918.5" r="3.8"/><circle cx="347.7" cy="912.7" r="3.8"/><circle cx="268.5" cy="907.7" r="3.8"/><circle cx="331" cy="860.9" r="3.8"/><circle cx="389.4" cy="891.2" r="3.8"/><circle cx="310.2" cy="918" r="3.8"/><circle cx="301.8" cy="897.3" r="3.8"/><circle cx="381.1" cy="878.4" r="3.8"/><circle cx="289.3" cy="909.6" r="3.8"/><circle cx="289.3" cy="932.5" r="3.8"/><circle cx="376.9" cy="866.1" r="3.8"/><circle cx="268.5" cy="930.8" r="3.8"/><circle cx="393.6" cy="895.6" r="3.8"/><circle cx="260.1" cy="941.6" r="3.8"/><circle cx="268.5" cy="908.1" r="3.8"/><circle cx="268.5" cy="896.9" r="3.8"/><circle cx="264.3" cy="863.7" r="3.8"/><circle cx="268.5" cy="908.7" r="3.8"/><circle cx="289.3" cy="937.9" r="3.8"/><circle cx="372.7" cy="868.7" r="3.8"/><circle cx="310.2" cy="861.7" r="3.8"/><circle cx="289.3" cy="875.2" r="3.8"/><circle cx="326.9" cy="866.6" r="3.8"/><circle cx="335.2" cy="887.2" r="3.8"/><circle cx="414.4" cy="854.4" r="3.8"/><circle cx="356.1" cy="864.5" r="3.8"/><circle cx="331" cy="944.7" r="3.8"/><circle cx="414.4" cy="852.3" r="3.8"/><circle cx="281" cy="903.8" r="3.8"/><circle cx="306" cy="889.3" r="3.8"/><circle cx="331" cy="901.8" r="3.8"/><circle cx="368.6" cy="894.8" r="3.8"/><circle cx="351.9" cy="909.1" r="3.8"/><circle cx="268.5" cy="865" r="3.8"/><circle cx="268.5" cy="869.9" r="3.8"/><circle cx="314.3" cy="902.1" r="3.8"/><circle cx="326.9" cy="887.5" r="3.8"/><circle cx="310.2" cy="884.3" r="3.8"/><circle cx="318.5" cy="885.6" r="3.8"/><circle cx="268.5" cy="936.4" r="3.8"/><circle cx="372.7" cy="861.3" r="3.8"/><circle cx="351.9" cy="907.5" r="3.8"/><circle cx="310.2" cy="876.9" r="3.8"/><circle cx="372.7" cy="899.2" r="3.8"/><circle cx="289.3" cy="858.5" r="3.8"/><circle cx="347.7" cy="879.6" r="3.8"/><circle cx="306" cy="922.1" r="3.8"/><circle cx="356.1" cy="874.3" r="3.8"/><circle cx="351.9" cy="868.7" r="3.8"/><circle cx="268.5" cy="914.1" r="3.8"/><circle cx="285.1" cy="925.2" r="3.8"/><circle cx="297.7" cy="899.3" r="3.8"/><circle cx="335.2" cy="857.6" r="3.8"/><circle cx="314.3" cy="850.7" r="3.8"/><circle cx="268.5" cy="893.1" r="3.8"/><circle cx="393.6" cy="889.8" r="3.8"/><circle cx="351.9" cy="880.4" r="3.8"/><circle cx="297.7" cy="901.5" r="3.8"/><circle cx="347.7" cy="882.2" r="3.8"/><circle cx="347.7" cy="850.3" r="3.8"/><circle cx="331" cy="877.6" r="3.8"/><circle cx="372.7" cy="927.4" r="3.8"/><circle cx="310.2" cy="860.5" r="3.8"/><circle cx="306" cy="860.8" r="3.8"/><circle cx="306" cy="898.7" r="3.8"/><circle cx="264.3" cy="892" r="3.8"/><circle cx="293.5" cy="884" r="3.8"/><circle cx="297.7" cy="903.6" r="3.8"/><circle cx="393.6" cy="876.2" r="3.8"/><circle cx="356.1" cy="882.3" r="3.8"/><circle cx="343.5" cy="888.3" r="3.8"/><circle cx="285.1" cy="901.3" r="3.8"/><circle cx="306" cy="918" r="3.8"/><circle cx="268.5" cy="860.4" r="3.8"/><circle cx="331" cy="906.6" r="3.8"/><circle cx="372.7" cy="894.6" r="3.8"/><circle cx="268.5" cy="860" r="3.8"/><circle cx="331" cy="858.1" r="3.8"/><circle cx="351.9" cy="905.5" r="3.8"/><circle cx="310.2" cy="869.7" r="3.8"/><circle cx="335.2" cy="917.8" r="3.8"/><circle cx="360.2" cy="883.8" r="3.8"/><circle cx="368.6" cy="897.9" r="3.8"/><circle cx="310.2" cy="869.5" r="3.8"/><circle cx="276.8" cy="909.5" r="3.8"/><circle cx="331" cy="869.6" r="3.8"/><circle cx="372.7" cy="861.1" r="3.8"/><circle cx="310.2" cy="886" r="3.8"/><circle cx="285.1" cy="884.6" r="3.8"/><circle cx="289.3" cy="899.7" r="3.8"/><circle cx="289.3" cy="913.8" r="3.8"/><circle cx="301.8" cy="909.5" r="3.8"/><circle cx="351.9" cy="884.6" r="3.8"/><circle cx="385.3" cy="884.8" r="3.8"/><circle cx="326.9" cy="855.9" r="3.8"/><circle cx="372.7" cy="864.7" r="3.8"/><circle cx="326.9" cy="843.3" r="3.8"/><circle cx="414.4" cy="859" r="3.8"/><circle cx="331" cy="866.1" r="3.8"/><circle cx="331" cy="839.7" r="3.8"/><circle cx="289.3" cy="886.2" r="3.8"/><circle cx="364.4" cy="889.5" r="3.8"/><circle cx="372.7" cy="925.5" r="3.8"/><circle cx="331" cy="905.7" r="3.8"/><circle cx="272.6" cy="907.9" r="3.8"/><circle cx="393.6" cy="890.3" r="3.8"/><circle cx="322.7" cy="879.7" r="3.8"/><circle cx="372.7" cy="881.5" r="3.8"/><circle cx="289.3" cy="925.7" r="3.8"/><circle cx="289.3" cy="865.1" r="3.8"/><circle cx="289.3" cy="850.1" r="3.8"/><circle cx="289.3" cy="913.8" r="3.8"/><circle cx="372.7" cy="892.7" r="3.8"/><circle cx="306" cy="923.8" r="3.8"/><circle cx="347.7" cy="885.2" r="3.8"/><circle cx="356.1" cy="845.5" r="3.8"/><circle cx="314.3" cy="857.2" r="3.8"/><circle cx="331" cy="878.7" r="3.8"/><circle cx="372.7" cy="888.1" r="3.8"/><circle cx="306" cy="888.8" r="3.8"/><circle cx="331" cy="918" r="3.8"/><circle cx="306" cy="891.5" r="3.8"/><circle cx="372.7" cy="858.9" r="3.8"/><circle cx="289.3" cy="853.9" r="3.8"/><circle cx="385.3" cy="877.3" r="3.8"/><circle cx="372.7" cy="898.4" r="3.8"/><circle cx="331" cy="903.7" r="3.8"/><circle cx="393.6" cy="899" r="3.8"/><circle cx="368.6" cy="897.6" r="3.8"/><circle cx="339.4" cy="866.4" r="3.8"/><circle cx="331" cy="853.3" r="3.8"/><circle cx="289.3" cy="916.8" r="3.8"/><circle cx="268.5" cy="868.6" r="3.8"/><circle cx="393.6" cy="881.8" r="3.8"/><circle cx="289.3" cy="874.9" r="3.8"/><circle cx="289.3" cy="921.9" r="3.8"/><circle cx="414.4" cy="852.8" r="3.8"/><circle cx="376.9" cy="877" r="3.8"/><circle cx="351.9" cy="871.5" r="3.8"/><circle cx="285.1" cy="938.3" r="3.8"/><circle cx="339.4" cy="882.3" r="3.8"/><circle cx="310.2" cy="863" r="3.8"/><circle cx="368.6" cy="894.6" r="3.8"/><circle cx="343.5" cy="870.3" r="3.8"/><circle cx="331" cy="914.6" r="3.8"/><circle cx="310.2" cy="853.1" r="3.8"/><circle cx="318.5" cy="854.2" r="3.8"/><circle cx="272.6" cy="907.1" r="3.8"/><circle cx="310.2" cy="855.6" r="3.8"/><circle cx="322.7" cy="891.9" r="3.8"/><circle cx="326.9" cy="896.5" r="3.8"/><circle cx="326.9" cy="891.8" r="3.8"/><circle cx="314.3" cy="892.2" r="3.8"/><circle cx="289.3" cy="938.6" r="3.8"/><circle cx="331" cy="944" r="3.8"/><circle cx="289.3" cy="873.1" r="3.8"/><circle cx="268.5" cy="896" r="3.8"/><circle cx="289.3" cy="871.9" r="3.8"/><circle cx="310.2" cy="869.3" r="3.8"/><circle cx="368.6" cy="858.3" r="3.8"/><circle cx="289.3" cy="867.9" r="3.8"/><circle cx="376.9" cy="870.7" r="3.8"/><circle cx="293.5" cy="896.8" r="3.8"/><circle cx="268.5" cy="941.1" r="3.8"/><circle cx="331" cy="903.7" r="3.8"/><circle cx="268.5" cy="898.7" r="3.8"/><circle cx="351.9" cy="908.4" r="3.8"/><circle cx="414.4" cy="851" r="3.8"/><circle cx="289.3" cy="918.1" r="3.8"/><circle cx="289.3" cy="894.6" r="3.8"/><circle cx="310.2" cy="880.9" r="3.8"/><circle cx="318.5" cy="885" r="3.8"/><circle cx="322.7" cy="880.8" r="3.8"/><circle cx="285.1" cy="899.1" r="3.8"/><circle cx="331" cy="918.3" r="3.8"/><circle cx="297.7" cy="910.3" r="3.8"/><circle cx="306" cy="909.1" r="3.8"/><circle cx="351.9" cy="888.8" r="3.8"/><circle cx="364.4" cy="881.2" r="3.8"/><circle cx="281" cy="908.8" r="3.8"/><circle cx="326.9" cy="911.5" r="3.8"/><circle cx="372.7" cy="879.3" r="3.8"/><circle cx="289.3" cy="900.2" r="3.8"/><circle cx="289.3" cy="888.1" r="3.8"/><circle cx="326.9" cy="877.9" r="3.8"/><circle cx="335.2" cy="905.8" r="3.8"/><circle cx="351.9" cy="880.8" r="3.8"/><circle cx="385.3" cy="884" r="3.8"/><circle cx="310.2" cy="891.5" r="3.8"/><circle cx="372.7" cy="880.3" r="3.8"/><circle cx="372.7" cy="867.6" r="3.8"/><circle cx="331" cy="845.3" r="3.8"/></g>
</g>
<text class="tk" text-anchor="middle" transform="translate(102 1104) scale(1 1.12)">10</text>
<text class="tk" text-anchor="middle" transform="translate(310.6 1104) scale(1 1.12)">15</text>
<text class="tk" text-anchor="middle" transform="translate(519.1 1104) scale(1 1.12)">20</text>
<text class="tk" text-anchor="middle" transform="translate(727.7 1104) scale(1 1.12)">25</text>
<text class="tk" text-anchor="end" transform="translate(79.7 706.1) scale(1 1.12)">5</text>
<text class="tk" text-anchor="end" transform="translate(79.7 854.9) scale(1 1.12)">0</text>
<text class="tk" text-anchor="end" transform="translate(79.7 1003.8) scale(1 1.12)">-5</text>
<text class="tt" text-anchor="middle" transform="translate(414.5 1144.4) scale(1 1.04)">Mid-upper arm circumference</text>
<text class="tt" text-anchor="middle" transform="translate(393 1188) scale(1 1.04)">(C)LAZ/HAZ</text>
<text class="tt yt" style="font-size:34.55px" text-anchor="middle" transform="translate(42.6 841.4) rotate(-90) scale(1 1.04)">Height-for-Age Z score</text>
</g>
<g id="panelD">
<path class="ax" d="M991.6 633.9V1059.3M989.6 1057.2H1626.2M991.6 1057.2v17.4M1033.8 1057.2v9.8M1075.9 1057.2v9.8M1118.1 1057.2v9.8M1160.3 1057.2v9.8M1202.5 1057.2v17.4M1244.6 1057.2v9.8M1286.8 1057.2v9.8M1329 1057.2v9.8M1371.2 1057.2v9.8M1413.3 1057.2v17.4M1455.5 1057.2v9.8M1497.7 1057.2v9.8M1539.9 1057.2v9.8M1582 1057.2v9.8M1624.2 1057.2v17.4M991.6 1027.1h-9.8M991.6 997h-17.6M991.6 967h-9.8M991.6 936.9h-9.8M991.6 906.8h-9.8M991.6 876.7h-9.8M991.6 846.6h-17.6M991.6 816.5h-9.8M991.6 786.4h-9.8M991.6 756.3h-9.8M991.6 726.2h-9.8M991.6 696.2h-17.6M991.6 666.1h-9.8M991.6 636h-9.8"/>
<path class="dot" d="M1004.00 846.6H1613.20" stroke-dasharray="0 12.6792"/>
<line class="reg" x1="1012.7" y1="930.3" x2="1590.5" y2="740.1"/>
<g class="pts">
<g class="c0"><circle cx="1130.8" cy="906.1" r="3.8"/><circle cx="1269.9" cy="929.7" r="3.8"/><circle cx="1375.4" cy="856.5" r="3.8"/><circle cx="1075.9" cy="861.5" r="3.8"/><circle cx="1198.2" cy="805.2" r="3.8"/><circle cx="1354.3" cy="798.9" r="3.8"/><circle cx="1139.2" cy="948.2" r="3.8"/><circle cx="1172.9" cy="740.1" r="3.8"/><circle cx="1160.3" cy="957.7" r="3.8"/><circle cx="1232" cy="923.9" r="3.8"/><circle cx="1101.3" cy="1014.5" r="3.8"/><circle cx="1274.2" cy="812.6" r="3.8"/><circle cx="1088.6" cy="902.8" r="3.8"/><circle cx="1350.1" cy="819.9" r="3.8"/><circle cx="1219.3" cy="937.2" r="3.8"/><circle cx="1303.7" cy="799.4" r="3.8"/><circle cx="1189.8" cy="915.1" r="3.8"/><circle cx="1143.4" cy="899.1" r="3.8"/><circle cx="1198.2" cy="785.2" r="3.8"/><circle cx="1122.3" cy="952.7" r="3.8"/><circle cx="1451.3" cy="736.4" r="3.8"/><circle cx="1118.1" cy="886.6" r="3.8"/><circle cx="1261.5" cy="981.5" r="3.8"/><circle cx="1071.7" cy="981" r="3.8"/><circle cx="1244.6" cy="692.1" r="3.8"/><circle cx="1122.3" cy="967.7" r="3.8"/><circle cx="1215.1" cy="794.4" r="3.8"/><circle cx="1371.2" cy="889.1" r="3.8"/><circle cx="1417.6" cy="802.7" r="3.8"/><circle cx="1392.2" cy="797.7" r="3.8"/><circle cx="1101.3" cy="967.7" r="3.8"/><circle cx="1097" cy="862.8" r="3.8"/><circle cx="1215.1" cy="947.7" r="3.8"/><circle cx="1118.1" cy="861.5" r="3.8"/><circle cx="1097" cy="909.1" r="3.8"/><circle cx="1295.2" cy="806.7" r="3.8"/><circle cx="1282.6" cy="805.5" r="3.8"/><circle cx="1101.3" cy="901.6" r="3.8"/><circle cx="1194" cy="787.7" r="3.8"/><circle cx="1371.2" cy="856.5" r="3.8"/><circle cx="1350.1" cy="816.8" r="3.8"/><circle cx="1067.5" cy="925.7" r="3.8"/><circle cx="1097" cy="750.9" r="3.8"/><circle cx="1366.9" cy="790.2" r="3.8"/><circle cx="1097" cy="835.7" r="3.8"/><circle cx="1139.2" cy="936.4" r="3.8"/><circle cx="1012.7" cy="904.6" r="3.8"/><circle cx="1392.2" cy="788.9" r="3.8"/><circle cx="1215.1" cy="801.9" r="3.8"/><circle cx="1236.2" cy="849.3" r="3.8"/><circle cx="1118.1" cy="911.6" r="3.8"/><circle cx="1286.8" cy="797.8" r="3.8"/><circle cx="1118.1" cy="899.1" r="3.8"/><circle cx="1071.7" cy="962.2" r="3.8"/><circle cx="1075.9" cy="950.2" r="3.8"/><circle cx="1151.9" cy="967.2" r="3.8"/><circle cx="1160.3" cy="825.2" r="3.8"/><circle cx="1126.6" cy="949.4" r="3.8"/><circle cx="1307.9" cy="889.5" r="3.8"/><circle cx="1282.6" cy="795" r="3.8"/><circle cx="1063.3" cy="883.3" r="3.8"/><circle cx="1198.2" cy="925.2" r="3.8"/><circle cx="1286.8" cy="796.1" r="3.8"/><circle cx="1130.8" cy="907.6" r="3.8"/><circle cx="1265.7" cy="775.7" r="3.8"/><circle cx="1088.6" cy="928.9" r="3.8"/><circle cx="1548.3" cy="696.8" r="3.8"/><circle cx="1320.6" cy="787.7" r="3.8"/><circle cx="1329" cy="793.2" r="3.8"/><circle cx="1084.4" cy="869.8" r="3.8"/><circle cx="1350.1" cy="886.6" r="3.8"/><circle cx="1181.4" cy="739.4" r="3.8"/><circle cx="1312.1" cy="784.7" r="3.8"/><circle cx="1147.6" cy="918.8" r="3.8"/><circle cx="1286.8" cy="909.1" r="3.8"/><circle cx="1194" cy="927.7" r="3.8"/><circle cx="1202.5" cy="942" r="3.8"/><circle cx="1257.3" cy="890.9" r="3.8"/><circle cx="1084.4" cy="897.3" r="3.8"/><circle cx="1232" cy="797.7" r="3.8"/><circle cx="1375.4" cy="794.7" r="3.8"/><circle cx="1033.8" cy="847.3" r="3.8"/><circle cx="1168.7" cy="941.4" r="3.8"/><circle cx="1286.8" cy="782.2" r="3.8"/><circle cx="1202.5" cy="798.9" r="3.8"/><circle cx="1088.6" cy="923.2" r="3.8"/><circle cx="1244.6" cy="753.4" r="3.8"/><circle cx="1371.2" cy="845.8" r="3.8"/><circle cx="1130.8" cy="936.4" r="3.8"/><circle cx="1392.2" cy="767.6" r="3.8"/><circle cx="1194" cy="829.9" r="3.8"/><circle cx="1075.9" cy="1004.5" r="3.8"/><circle cx="1265.7" cy="896.1" r="3.8"/><circle cx="1075.9" cy="658.8" r="3.8"/><circle cx="1210.9" cy="810.9" r="3.8"/><circle cx="1118.1" cy="867.8" r="3.8"/><circle cx="1316.3" cy="804.6" r="3.8"/><circle cx="1291" cy="884.3" r="3.8"/><circle cx="1059.1" cy="905.3" r="3.8"/><circle cx="1097" cy="905.3" r="3.8"/><circle cx="1050.6" cy="856.5" r="3.8"/><circle cx="1257.3" cy="933.9" r="3.8"/><circle cx="1139.2" cy="904.2" r="3.8"/><circle cx="1118.1" cy="905.3" r="3.8"/><circle cx="1118.1" cy="874" r="3.8"/><circle cx="1350.1" cy="838.4" r="3.8"/><circle cx="1151.9" cy="952.2" r="3.8"/><circle cx="1075.9" cy="928.9" r="3.8"/><circle cx="1278.4" cy="955.2" r="3.8"/><circle cx="1067.5" cy="943.2" r="3.8"/><circle cx="1097" cy="958.2" r="3.8"/><circle cx="1295.2" cy="807.4" r="3.8"/><circle cx="1307.9" cy="806.3" r="3.8"/><circle cx="1307.9" cy="877.3" r="3.8"/><circle cx="1160.3" cy="707.6" r="3.8"/><circle cx="1282.6" cy="889.5" r="3.8"/><circle cx="1118.1" cy="855.3" r="3.8"/><circle cx="1054.9" cy="899.1" r="3.8"/><circle cx="1590.5" cy="767.6" r="3.8"/><circle cx="1320.6" cy="814.1" r="3.8"/><circle cx="1118.1" cy="880.3" r="3.8"/><circle cx="1244.6" cy="790.2" r="3.8"/><circle cx="1442.9" cy="749.6" r="3.8"/><circle cx="1227.8" cy="951.5" r="3.8"/><circle cx="1485" cy="745.1" r="3.8"/><circle cx="1265.7" cy="885.3" r="3.8"/><circle cx="1556.7" cy="711.8" r="3.8"/><circle cx="1299.5" cy="898.6" r="3.8"/><circle cx="1075.9" cy="748.4" r="3.8"/><circle cx="1168.7" cy="933.9" r="3.8"/><circle cx="1139.2" cy="830.2" r="3.8"/><circle cx="1257.3" cy="776.4" r="3.8"/><circle cx="1118.1" cy="892.8" r="3.8"/><circle cx="1223.6" cy="800.8" r="3.8"/><circle cx="1371.2" cy="777.2" r="3.8"/><circle cx="1088.6" cy="1002" r="3.8"/><circle cx="1088.6" cy="762.1" r="3.8"/><circle cx="1113.9" cy="925.2" r="3.8"/><circle cx="1303.7" cy="879.4" r="3.8"/><circle cx="1054.9" cy="929.7" r="3.8"/><circle cx="1097" cy="952.7" r="3.8"/><circle cx="1160.3" cy="806.9" r="3.8"/><circle cx="1088.6" cy="819" r="3.8"/><circle cx="1147.6" cy="848.8" r="3.8"/><circle cx="1350.1" cy="854" r="3.8"/><circle cx="1118.1" cy="984.5" r="3.8"/><circle cx="1253.1" cy="792.8" r="3.8"/><circle cx="1413.3" cy="798.9" r="3.8"/><circle cx="1118.1" cy="807.7" r="3.8"/><circle cx="1164.5" cy="820.7" r="3.8"/><circle cx="1223.6" cy="748.9" r="3.8"/><circle cx="1223.6" cy="789.4" r="3.8"/><circle cx="1126.6" cy="895.4" r="3.8"/><circle cx="1341.6" cy="783.2" r="3.8"/><circle cx="1097" cy="882" r="3.8"/><circle cx="1371.2" cy="805.2" r="3.8"/><circle cx="1135" cy="935.2" r="3.8"/><circle cx="1189.8" cy="926.4" r="3.8"/><circle cx="1118.1" cy="955.2" r="3.8"/><circle cx="1181.4" cy="964" r="3.8"/><circle cx="1476.6" cy="758.1" r="3.8"/><circle cx="1447.1" cy="761.9" r="3.8"/><circle cx="1404.9" cy="818.2" r="3.8"/><circle cx="1227.8" cy="800.6" r="3.8"/><circle cx="1160.3" cy="941.4" r="3.8"/><circle cx="1371.2" cy="757.7" r="3.8"/><circle cx="1392.2" cy="806.5" r="3.8"/><circle cx="1253.1" cy="880.8" r="3.8"/></g><g class="c1"><circle cx="1244.6" cy="799.8" r="3.8"/><circle cx="1139.2" cy="856" r="3.8"/><circle cx="1215.1" cy="921.8" r="3.8"/><circle cx="1206.7" cy="818.3" r="3.8"/><circle cx="1206.7" cy="829.5" r="3.8"/><circle cx="1295.2" cy="807.6" r="3.8"/><circle cx="1350.1" cy="829.1" r="3.8"/><circle cx="1139.2" cy="920.9" r="3.8"/><circle cx="1329" cy="809.2" r="3.8"/><circle cx="1316.3" cy="815" r="3.8"/><circle cx="1253.1" cy="819.7" r="3.8"/><circle cx="1236.2" cy="828.4" r="3.8"/><circle cx="1295.2" cy="844.9" r="3.8"/><circle cx="1147.6" cy="859.6" r="3.8"/><circle cx="1227.8" cy="922.7" r="3.8"/><circle cx="1215.1" cy="822" r="3.8"/><circle cx="1240.4" cy="796.4" r="3.8"/><circle cx="1139.2" cy="851.8" r="3.8"/><circle cx="1151.9" cy="920.5" r="3.8"/><circle cx="1265.7" cy="795.7" r="3.8"/><circle cx="1232" cy="820.9" r="3.8"/><circle cx="1215.1" cy="816.2" r="3.8"/><circle cx="1286.8" cy="811.9" r="3.8"/><circle cx="1130.8" cy="895.8" r="3.8"/><circle cx="1236.2" cy="902.5" r="3.8"/><circle cx="1168.7" cy="832.6" r="3.8"/><circle cx="1147.6" cy="872.7" r="3.8"/><circle cx="1147.6" cy="896.6" r="3.8"/><circle cx="1194" cy="838.5" r="3.8"/><circle cx="1282.6" cy="886.6" r="3.8"/><circle cx="1118.1" cy="917.8" r="3.8"/><circle cx="1151.9" cy="887.1" r="3.8"/><circle cx="1202.5" cy="824.4" r="3.8"/><circle cx="1286.8" cy="814.3" r="3.8"/><circle cx="1329" cy="829.4" r="3.8"/><circle cx="1278.4" cy="824.2" r="3.8"/><circle cx="1189.8" cy="831.4" r="3.8"/><circle cx="1156.1" cy="836.6" r="3.8"/><circle cx="1194" cy="819" r="3.8"/><circle cx="1320.6" cy="859.4" r="3.8"/><circle cx="1244.6" cy="792.9" r="3.8"/><circle cx="1139.2" cy="871.2" r="3.8"/><circle cx="1253.1" cy="806.4" r="3.8"/><circle cx="1219.3" cy="813.2" r="3.8"/><circle cx="1139.2" cy="924.2" r="3.8"/><circle cx="1130.8" cy="922.4" r="3.8"/><circle cx="1320.6" cy="837.2" r="3.8"/><circle cx="1160.3" cy="925.2" r="3.8"/><circle cx="1278.4" cy="877.3" r="3.8"/><circle cx="1151.9" cy="852" r="3.8"/><circle cx="1139.2" cy="920.2" r="3.8"/><circle cx="1329" cy="849.3" r="3.8"/><circle cx="1181.4" cy="820.7" r="3.8"/><circle cx="1215.1" cy="821.4" r="3.8"/><circle cx="1350.1" cy="828" r="3.8"/><circle cx="1257.3" cy="867.8" r="3.8"/><circle cx="1168.7" cy="916" r="3.8"/><circle cx="1295.2" cy="844.7" r="3.8"/><circle cx="1227.8" cy="816.6" r="3.8"/><circle cx="1333.2" cy="826.9" r="3.8"/><circle cx="1295.2" cy="846.5" r="3.8"/><circle cx="1248.9" cy="897" r="3.8"/><circle cx="1329" cy="809.4" r="3.8"/><circle cx="1253.1" cy="819" r="3.8"/><circle cx="1139.2" cy="869.1" r="3.8"/><circle cx="1278.4" cy="822.8" r="3.8"/><circle cx="1168.7" cy="848" r="3.8"/><circle cx="1333.2" cy="839.3" r="3.8"/><circle cx="1160.3" cy="925.4" r="3.8"/><circle cx="1156.1" cy="927.7" r="3.8"/><circle cx="1168.7" cy="912.3" r="3.8"/><circle cx="1320.6" cy="833.9" r="3.8"/><circle cx="1198.2" cy="912.3" r="3.8"/><circle cx="1269.9" cy="882" r="3.8"/><circle cx="1253.1" cy="839.1" r="3.8"/><circle cx="1244.6" cy="885.2" r="3.8"/><circle cx="1232" cy="910.8" r="3.8"/><circle cx="1172.9" cy="848.5" r="3.8"/><circle cx="1227.8" cy="818.9" r="3.8"/><circle cx="1295.2" cy="821.9" r="3.8"/><circle cx="1160.3" cy="922.3" r="3.8"/><circle cx="1278.4" cy="862.4" r="3.8"/><circle cx="1223.6" cy="824.8" r="3.8"/><circle cx="1139.2" cy="918.4" r="3.8"/><circle cx="1316.3" cy="811.8" r="3.8"/><circle cx="1151.9" cy="862.2" r="3.8"/><circle cx="1202.5" cy="912.4" r="3.8"/><circle cx="1185.6" cy="918.5" r="3.8"/><circle cx="1143.4" cy="848.7" r="3.8"/><circle cx="1189.8" cy="814.2" r="3.8"/><circle cx="1160.3" cy="840.2" r="3.8"/><circle cx="1181.4" cy="816.4" r="3.8"/><circle cx="1307.9" cy="874.5" r="3.8"/><circle cx="1126.6" cy="923.8" r="3.8"/><circle cx="1172.9" cy="847.4" r="3.8"/><circle cx="1303.7" cy="867.7" r="3.8"/><circle cx="1350.1" cy="833.9" r="3.8"/><circle cx="1126.6" cy="917.6" r="3.8"/><circle cx="1202.5" cy="826.5" r="3.8"/><circle cx="1295.2" cy="816.1" r="3.8"/><circle cx="1324.8" cy="834.2" r="3.8"/><circle cx="1147.6" cy="863.4" r="3.8"/><circle cx="1156.1" cy="917.7" r="3.8"/><circle cx="1135" cy="879.8" r="3.8"/><circle cx="1210.9" cy="918" r="3.8"/><circle cx="1181.4" cy="821.2" r="3.8"/><circle cx="1156.1" cy="838.2" r="3.8"/><circle cx="1172.9" cy="902.6" r="3.8"/><circle cx="1202.5" cy="815.6" r="3.8"/><circle cx="1198.2" cy="917.3" r="3.8"/><circle cx="1333.2" cy="849.7" r="3.8"/><circle cx="1295.2" cy="866" r="3.8"/><circle cx="1350.1" cy="830.1" r="3.8"/><circle cx="1215.1" cy="895.8" r="3.8"/><circle cx="1223.6" cy="814.8" r="3.8"/><circle cx="1240.4" cy="903.6" r="3.8"/><circle cx="1329" cy="839" r="3.8"/><circle cx="1139.2" cy="860.1" r="3.8"/><circle cx="1210.9" cy="915.2" r="3.8"/><circle cx="1194" cy="839.8" r="3.8"/><circle cx="1324.8" cy="852.5" r="3.8"/><circle cx="1244.6" cy="810.8" r="3.8"/></g><g class="c2"><circle cx="1316.3" cy="852.6" r="3.8"/><circle cx="1215.1" cy="893.5" r="3.8"/><circle cx="1265.7" cy="799" r="3.8"/><circle cx="1274.2" cy="820.8" r="3.8"/><circle cx="1189.8" cy="843.2" r="3.8"/><circle cx="1181.4" cy="915.7" r="3.8"/><circle cx="1307.9" cy="842.4" r="3.8"/><circle cx="1160.3" cy="917.4" r="3.8"/><circle cx="1139.2" cy="875.1" r="3.8"/><circle cx="1206.7" cy="904.7" r="3.8"/><circle cx="1265.7" cy="813.2" r="3.8"/><circle cx="1244.6" cy="806.3" r="3.8"/><circle cx="1223.6" cy="819.3" r="3.8"/><circle cx="1248.9" cy="831" r="3.8"/><circle cx="1307.9" cy="815.3" r="3.8"/><circle cx="1286.8" cy="879" r="3.8"/><circle cx="1194" cy="873.4" r="3.8"/><circle cx="1240.4" cy="892.7" r="3.8"/><circle cx="1299.5" cy="836.5" r="3.8"/><circle cx="1257.3" cy="808" r="3.8"/><circle cx="1156.1" cy="842.5" r="3.8"/><circle cx="1227.8" cy="908.1" r="3.8"/><circle cx="1244.6" cy="820.2" r="3.8"/><circle cx="1198.2" cy="902.8" r="3.8"/><circle cx="1274.2" cy="828.2" r="3.8"/><circle cx="1244.6" cy="894.8" r="3.8"/><circle cx="1143.4" cy="869" r="3.8"/><circle cx="1329" cy="822.1" r="3.8"/><circle cx="1202.5" cy="906.5" r="3.8"/><circle cx="1160.3" cy="842.9" r="3.8"/><circle cx="1215.1" cy="912.5" r="3.8"/><circle cx="1307.9" cy="863.9" r="3.8"/><circle cx="1248.9" cy="822" r="3.8"/><circle cx="1135" cy="924.1" r="3.8"/><circle cx="1244.6" cy="886.9" r="3.8"/><circle cx="1194" cy="820.3" r="3.8"/><circle cx="1244.6" cy="901.1" r="3.8"/><circle cx="1160.3" cy="909.1" r="3.8"/><circle cx="1202.5" cy="910.1" r="3.8"/><circle cx="1240.4" cy="821.1" r="3.8"/><circle cx="1257.3" cy="807.5" r="3.8"/><circle cx="1168.7" cy="875.5" r="3.8"/><circle cx="1303.7" cy="842.7" r="3.8"/><circle cx="1202.5" cy="903.9" r="3.8"/><circle cx="1189.8" cy="846.4" r="3.8"/><circle cx="1147.6" cy="867.3" r="3.8"/><circle cx="1147.6" cy="891.6" r="3.8"/><circle cx="1172.9" cy="876.6" r="3.8"/><circle cx="1312.1" cy="840.7" r="3.8"/><circle cx="1265.7" cy="797.9" r="3.8"/><circle cx="1194" cy="864.4" r="3.8"/><circle cx="1143.4" cy="874.5" r="3.8"/><circle cx="1265.7" cy="810.9" r="3.8"/><circle cx="1316.3" cy="844.9" r="3.8"/><circle cx="1164.5" cy="908.5" r="3.8"/><circle cx="1236.2" cy="831.6" r="3.8"/><circle cx="1172.9" cy="837.9" r="3.8"/><circle cx="1160.3" cy="907.8" r="3.8"/><circle cx="1143.4" cy="887" r="3.8"/><circle cx="1236.2" cy="897.4" r="3.8"/><circle cx="1244.6" cy="897.5" r="3.8"/><circle cx="1286.8" cy="815.8" r="3.8"/><circle cx="1307.9" cy="845" r="3.8"/><circle cx="1189.8" cy="898.7" r="3.8"/><circle cx="1232" cy="839.5" r="3.8"/><circle cx="1215.1" cy="906.9" r="3.8"/><circle cx="1329" cy="844.1" r="3.8"/><circle cx="1156.1" cy="852.4" r="3.8"/><circle cx="1181.4" cy="826.5" r="3.8"/><circle cx="1303.7" cy="855.3" r="3.8"/><circle cx="1219.3" cy="910.1" r="3.8"/><circle cx="1160.3" cy="849.5" r="3.8"/><circle cx="1329" cy="812.6" r="3.8"/><circle cx="1236.2" cy="894.9" r="3.8"/><circle cx="1172.9" cy="864.5" r="3.8"/><circle cx="1202.5" cy="821.1" r="3.8"/><circle cx="1210.9" cy="831" r="3.8"/><circle cx="1202.5" cy="838.7" r="3.8"/><circle cx="1143.4" cy="873.7" r="3.8"/><circle cx="1286.8" cy="880.3" r="3.8"/><circle cx="1151.9" cy="891.4" r="3.8"/><circle cx="1223.6" cy="912" r="3.8"/><circle cx="1274.2" cy="831.3" r="3.8"/><circle cx="1172.9" cy="842.4" r="3.8"/><circle cx="1202.5" cy="905.2" r="3.8"/><circle cx="1189.8" cy="846" r="3.8"/><circle cx="1261.5" cy="811.4" r="3.8"/><circle cx="1257.3" cy="848" r="3.8"/><circle cx="1307.9" cy="859.4" r="3.8"/><circle cx="1312.1" cy="852.7" r="3.8"/><circle cx="1307.9" cy="816.4" r="3.8"/><circle cx="1307.9" cy="851.6" r="3.8"/><circle cx="1189.8" cy="817" r="3.8"/><circle cx="1316.3" cy="827.7" r="3.8"/><circle cx="1168.7" cy="894.1" r="3.8"/><circle cx="1232" cy="838.4" r="3.8"/><circle cx="1282.6" cy="866.2" r="3.8"/><circle cx="1185.6" cy="820.3" r="3.8"/><circle cx="1265.7" cy="875.7" r="3.8"/><circle cx="1206.7" cy="832.8" r="3.8"/><circle cx="1168.7" cy="875.1" r="3.8"/><circle cx="1210.9" cy="908" r="3.8"/><circle cx="1329" cy="811.9" r="3.8"/><circle cx="1261.5" cy="814.2" r="3.8"/><circle cx="1253.1" cy="826.6" r="3.8"/><circle cx="1244.6" cy="812.3" r="3.8"/><circle cx="1223.6" cy="910" r="3.8"/><circle cx="1244.6" cy="812.4" r="3.8"/><circle cx="1172.9" cy="826.5" r="3.8"/><circle cx="1248.9" cy="830.4" r="3.8"/><circle cx="1198.2" cy="839.2" r="3.8"/><circle cx="1316.3" cy="856.6" r="3.8"/><circle cx="1164.5" cy="912.9" r="3.8"/><circle cx="1135" cy="894.2" r="3.8"/><circle cx="1244.6" cy="900.6" r="3.8"/><circle cx="1232" cy="885.4" r="3.8"/><circle cx="1329" cy="812.3" r="3.8"/><circle cx="1168.7" cy="858" r="3.8"/><circle cx="1299.5" cy="825.5" r="3.8"/><circle cx="1286.8" cy="820.4" r="3.8"/><circle cx="1215.1" cy="826.3" r="3.8"/><circle cx="1307.9" cy="861.6" r="3.8"/><circle cx="1299.5" cy="834.1" r="3.8"/><circle cx="1265.7" cy="797.4" r="3.8"/><circle cx="1312.1" cy="863" r="3.8"/><circle cx="1168.7" cy="891.5" r="3.8"/><circle cx="1269.9" cy="798.8" r="3.8"/><circle cx="1215.1" cy="914.7" r="3.8"/><circle cx="1160.3" cy="846.7" r="3.8"/><circle cx="1307.9" cy="816.1" r="3.8"/><circle cx="1286.8" cy="874.8" r="3.8"/><circle cx="1227.8" cy="915.3" r="3.8"/><circle cx="1291" cy="822" r="3.8"/><circle cx="1320.6" cy="851" r="3.8"/><circle cx="1244.6" cy="816.4" r="3.8"/><circle cx="1286.8" cy="818" r="3.8"/><circle cx="1172.9" cy="832" r="3.8"/><circle cx="1316.3" cy="826.8" r="3.8"/><circle cx="1324.8" cy="821.7" r="3.8"/><circle cx="1139.2" cy="884.9" r="3.8"/><circle cx="1194" cy="821.4" r="3.8"/><circle cx="1291" cy="865.1" r="3.8"/><circle cx="1253.1" cy="870.9" r="3.8"/><circle cx="1257.3" cy="845.3" r="3.8"/><circle cx="1295.2" cy="831.7" r="3.8"/><circle cx="1257.3" cy="836.7" r="3.8"/><circle cx="1181.4" cy="825.5" r="3.8"/><circle cx="1240.4" cy="882.8" r="3.8"/><circle cx="1333.2" cy="844.9" r="3.8"/><circle cx="1261.5" cy="811.3" r="3.8"/><circle cx="1202.5" cy="822.2" r="3.8"/><circle cx="1295.2" cy="833.1" r="3.8"/><circle cx="1172.9" cy="833.8" r="3.8"/><circle cx="1215.1" cy="901.9" r="3.8"/><circle cx="1232" cy="885.4" r="3.8"/><circle cx="1223.6" cy="827.3" r="3.8"/><circle cx="1248.9" cy="875.5" r="3.8"/><circle cx="1307.9" cy="859.8" r="3.8"/><circle cx="1274.2" cy="872.6" r="3.8"/><circle cx="1244.6" cy="884.9" r="3.8"/><circle cx="1236.2" cy="884.1" r="3.8"/><circle cx="1282.6" cy="880.2" r="3.8"/><circle cx="1139.2" cy="886.5" r="3.8"/><circle cx="1172.9" cy="870.9" r="3.8"/><circle cx="1329" cy="845.7" r="3.8"/><circle cx="1307.9" cy="854.3" r="3.8"/><circle cx="1278.4" cy="868" r="3.8"/><circle cx="1261.5" cy="813.4" r="3.8"/><circle cx="1236.2" cy="883.9" r="3.8"/><circle cx="1329" cy="825.1" r="3.8"/><circle cx="1223.6" cy="910.5" r="3.8"/><circle cx="1248.9" cy="805.9" r="3.8"/><circle cx="1265.7" cy="805.7" r="3.8"/><circle cx="1240.4" cy="894.1" r="3.8"/><circle cx="1223.6" cy="915.4" r="3.8"/><circle cx="1236.2" cy="837.6" r="3.8"/><circle cx="1307.9" cy="842.6" r="3.8"/><circle cx="1168.7" cy="860.4" r="3.8"/><circle cx="1265.7" cy="803.4" r="3.8"/><circle cx="1316.3" cy="825.1" r="3.8"/><circle cx="1265.7" cy="876.4" r="3.8"/><circle cx="1253.1" cy="841.4" r="3.8"/><circle cx="1135" cy="894.6" r="3.8"/><circle cx="1215.1" cy="832.6" r="3.8"/><circle cx="1168.7" cy="911.3" r="3.8"/><circle cx="1286.8" cy="873.8" r="3.8"/><circle cx="1139.2" cy="886.1" r="3.8"/></g><g class="c3"><circle cx="1181.4" cy="883.6" r="3.8"/><circle cx="1177.2" cy="890.1" r="3.8"/><circle cx="1160.3" cy="878.2" r="3.8"/><circle cx="1181.4" cy="849.5" r="3.8"/><circle cx="1160.3" cy="863.6" r="3.8"/><circle cx="1198.2" cy="895.4" r="3.8"/><circle cx="1198.2" cy="879.9" r="3.8"/><circle cx="1177.2" cy="831" r="3.8"/><circle cx="1286.8" cy="821.9" r="3.8"/><circle cx="1198.2" cy="861.5" r="3.8"/><circle cx="1202.5" cy="854.5" r="3.8"/><circle cx="1223.6" cy="834.6" r="3.8"/><circle cx="1232" cy="864.9" r="3.8"/><circle cx="1265.7" cy="857.7" r="3.8"/><circle cx="1244.6" cy="846.5" r="3.8"/><circle cx="1265.7" cy="830" r="3.8"/><circle cx="1286.8" cy="860.3" r="3.8"/><circle cx="1181.4" cy="857.5" r="3.8"/><circle cx="1329" cy="819.3" r="3.8"/><circle cx="1206.7" cy="893.2" r="3.8"/><circle cx="1286.8" cy="858.3" r="3.8"/><circle cx="1265.7" cy="860.9" r="3.8"/><circle cx="1232" cy="897.5" r="3.8"/><circle cx="1210.9" cy="870.5" r="3.8"/><circle cx="1202.5" cy="856.7" r="3.8"/><circle cx="1261.5" cy="857" r="3.8"/><circle cx="1181.4" cy="879.7" r="3.8"/><circle cx="1206.7" cy="885.3" r="3.8"/><circle cx="1265.7" cy="868.9" r="3.8"/><circle cx="1181.4" cy="906.3" r="3.8"/><circle cx="1172.9" cy="891.9" r="3.8"/><circle cx="1236.2" cy="857.8" r="3.8"/><circle cx="1160.3" cy="863.8" r="3.8"/><circle cx="1286.8" cy="828.6" r="3.8"/><circle cx="1278.4" cy="837.9" r="3.8"/><circle cx="1244.6" cy="844.3" r="3.8"/><circle cx="1181.4" cy="866" r="3.8"/><circle cx="1286.8" cy="827.2" r="3.8"/><circle cx="1261.5" cy="826.7" r="3.8"/><circle cx="1286.8" cy="855.2" r="3.8"/><circle cx="1160.3" cy="911.2" r="3.8"/><circle cx="1181.4" cy="847.2" r="3.8"/><circle cx="1261.5" cy="830.3" r="3.8"/><circle cx="1307.9" cy="829.6" r="3.8"/><circle cx="1215.1" cy="874.7" r="3.8"/><circle cx="1265.7" cy="852.9" r="3.8"/><circle cx="1223.6" cy="894.7" r="3.8"/><circle cx="1181.4" cy="836.9" r="3.8"/><circle cx="1185.6" cy="895.9" r="3.8"/><circle cx="1181.4" cy="867.3" r="3.8"/><circle cx="1244.6" cy="850.6" r="3.8"/><circle cx="1248.9" cy="864.4" r="3.8"/><circle cx="1177.2" cy="842.1" r="3.8"/><circle cx="1244.6" cy="840.8" r="3.8"/><circle cx="1202.5" cy="842.4" r="3.8"/><circle cx="1307.9" cy="820.7" r="3.8"/><circle cx="1194" cy="860.2" r="3.8"/><circle cx="1164.5" cy="885.7" r="3.8"/><circle cx="1286.8" cy="855.6" r="3.8"/><circle cx="1265.7" cy="835.5" r="3.8"/><circle cx="1240.4" cy="838.1" r="3.8"/><circle cx="1223.6" cy="892.2" r="3.8"/><circle cx="1210.9" cy="877.9" r="3.8"/><circle cx="1307.9" cy="858.1" r="3.8"/><circle cx="1223.6" cy="836.6" r="3.8"/><circle cx="1236.2" cy="857.9" r="3.8"/><circle cx="1156.1" cy="898" r="3.8"/><circle cx="1269.9" cy="860.6" r="3.8"/><circle cx="1223.6" cy="836.8" r="3.8"/><circle cx="1244.6" cy="839.2" r="3.8"/><circle cx="1219.3" cy="888.1" r="3.8"/><circle cx="1307.9" cy="820.5" r="3.8"/><circle cx="1265.7" cy="840.5" r="3.8"/><circle cx="1168.7" cy="890.9" r="3.8"/><circle cx="1189.8" cy="898.2" r="3.8"/><circle cx="1232" cy="864.7" r="3.8"/><circle cx="1181.4" cy="877.1" r="3.8"/><circle cx="1202.5" cy="882.9" r="3.8"/><circle cx="1202.5" cy="867.2" r="3.8"/><circle cx="1307.9" cy="825" r="3.8"/><circle cx="1227.8" cy="893.5" r="3.8"/><circle cx="1299.5" cy="835.9" r="3.8"/><circle cx="1181.4" cy="887" r="3.8"/><circle cx="1265.7" cy="851.5" r="3.8"/><circle cx="1223.6" cy="840" r="3.8"/><circle cx="1286.8" cy="856.7" r="3.8"/><circle cx="1189.8" cy="879.2" r="3.8"/><circle cx="1282.6" cy="846.1" r="3.8"/><circle cx="1244.6" cy="871.2" r="3.8"/><circle cx="1244.6" cy="864.4" r="3.8"/><circle cx="1206.7" cy="888.7" r="3.8"/><circle cx="1160.3" cy="862.5" r="3.8"/><circle cx="1172.9" cy="891.1" r="3.8"/><circle cx="1219.3" cy="887.9" r="3.8"/><circle cx="1257.3" cy="821.8" r="3.8"/><circle cx="1286.8" cy="852" r="3.8"/><circle cx="1202.5" cy="870.3" r="3.8"/><circle cx="1219.3" cy="880.3" r="3.8"/><circle cx="1244.6" cy="856.5" r="3.8"/><circle cx="1160.3" cy="878.8" r="3.8"/><circle cx="1160.3" cy="879.1" r="3.8"/><circle cx="1181.4" cy="873.3" r="3.8"/><circle cx="1185.6" cy="870.9" r="3.8"/><circle cx="1198.2" cy="861.3" r="3.8"/><circle cx="1185.6" cy="876.1" r="3.8"/><circle cx="1185.6" cy="884.2" r="3.8"/><circle cx="1240.4" cy="879.8" r="3.8"/><circle cx="1286.8" cy="856" r="3.8"/><circle cx="1265.7" cy="814.9" r="3.8"/><circle cx="1181.4" cy="894.3" r="3.8"/><circle cx="1202.5" cy="875.8" r="3.8"/><circle cx="1177.2" cy="885.5" r="3.8"/><circle cx="1181.4" cy="834.1" r="3.8"/><circle cx="1202.5" cy="875.7" r="3.8"/><circle cx="1181.4" cy="874.7" r="3.8"/><circle cx="1223.6" cy="835.5" r="3.8"/><circle cx="1223.6" cy="897.9" r="3.8"/><circle cx="1206.7" cy="864.4" r="3.8"/><circle cx="1181.4" cy="871.5" r="3.8"/><circle cx="1244.6" cy="835.5" r="3.8"/><circle cx="1303.7" cy="826.1" r="3.8"/><circle cx="1202.5" cy="861.5" r="3.8"/><circle cx="1227.8" cy="839.1" r="3.8"/><circle cx="1312.1" cy="830.1" r="3.8"/><circle cx="1181.4" cy="836.8" r="3.8"/><circle cx="1202.5" cy="867" r="3.8"/><circle cx="1181.4" cy="884.7" r="3.8"/><circle cx="1181.4" cy="913" r="3.8"/><circle cx="1181.4" cy="861.6" r="3.8"/><circle cx="1265.7" cy="854.5" r="3.8"/><circle cx="1202.5" cy="859.1" r="3.8"/><circle cx="1253.1" cy="852.1" r="3.8"/><circle cx="1286.8" cy="827.6" r="3.8"/><circle cx="1286.8" cy="859.7" r="3.8"/><circle cx="1202.5" cy="860.9" r="3.8"/><circle cx="1215.1" cy="863.7" r="3.8"/><circle cx="1244.6" cy="859" r="3.8"/><circle cx="1202.5" cy="870.5" r="3.8"/><circle cx="1227.8" cy="854.2" r="3.8"/><circle cx="1181.4" cy="891.6" r="3.8"/><circle cx="1236.2" cy="873.2" r="3.8"/><circle cx="1232" cy="872" r="3.8"/><circle cx="1223.6" cy="892.3" r="3.8"/><circle cx="1164.5" cy="874.1" r="3.8"/><circle cx="1265.7" cy="821.8" r="3.8"/><circle cx="1160.3" cy="902.8" r="3.8"/><circle cx="1227.8" cy="847.1" r="3.8"/><circle cx="1244.6" cy="844.9" r="3.8"/><circle cx="1286.8" cy="842.2" r="3.8"/><circle cx="1253.1" cy="861.2" r="3.8"/><circle cx="1206.7" cy="873.3" r="3.8"/><circle cx="1223.6" cy="897.5" r="3.8"/><circle cx="1265.7" cy="841.1" r="3.8"/><circle cx="1286.8" cy="834.1" r="3.8"/><circle cx="1265.7" cy="871.5" r="3.8"/><circle cx="1286.8" cy="836.6" r="3.8"/><circle cx="1223.6" cy="887.8" r="3.8"/><circle cx="1215.1" cy="875.8" r="3.8"/><circle cx="1223.6" cy="882.1" r="3.8"/><circle cx="1181.4" cy="850.8" r="3.8"/><circle cx="1286.8" cy="850.9" r="3.8"/><circle cx="1181.4" cy="900.4" r="3.8"/><circle cx="1198.2" cy="879.7" r="3.8"/><circle cx="1295.2" cy="833.8" r="3.8"/><circle cx="1223.6" cy="882.9" r="3.8"/><circle cx="1202.5" cy="857.6" r="3.8"/><circle cx="1278.4" cy="850.6" r="3.8"/><circle cx="1244.6" cy="854" r="3.8"/><circle cx="1198.2" cy="897.5" r="3.8"/><circle cx="1219.3" cy="866.4" r="3.8"/><circle cx="1265.7" cy="850.8" r="3.8"/><circle cx="1329" cy="818.6" r="3.8"/><circle cx="1265.7" cy="842.3" r="3.8"/><circle cx="1244.6" cy="861.2" r="3.8"/><circle cx="1160.3" cy="877.7" r="3.8"/><circle cx="1269.9" cy="842.6" r="3.8"/><circle cx="1181.4" cy="878.9" r="3.8"/><circle cx="1265.7" cy="843.1" r="3.8"/><circle cx="1210.9" cy="850" r="3.8"/><circle cx="1181.4" cy="854.2" r="3.8"/><circle cx="1223.6" cy="846.5" r="3.8"/><circle cx="1265.7" cy="863.9" r="3.8"/><circle cx="1303.7" cy="834.4" r="3.8"/><circle cx="1307.9" cy="823.9" r="3.8"/><circle cx="1185.6" cy="902" r="3.8"/><circle cx="1185.6" cy="851.9" r="3.8"/><circle cx="1265.7" cy="822.2" r="3.8"/><circle cx="1215.1" cy="898.1" r="3.8"/><circle cx="1223.6" cy="892" r="3.8"/><circle cx="1160.3" cy="853" r="3.8"/><circle cx="1177.2" cy="839.3" r="3.8"/><circle cx="1215.1" cy="844.6" r="3.8"/><circle cx="1181.4" cy="888.4" r="3.8"/><circle cx="1269.9" cy="862.9" r="3.8"/><circle cx="1244.6" cy="853.6" r="3.8"/><circle cx="1240.4" cy="871.4" r="3.8"/><circle cx="1156.1" cy="905.3" r="3.8"/><circle cx="1189.8" cy="861.1" r="3.8"/><circle cx="1215.1" cy="839.8" r="3.8"/><circle cx="1202.5" cy="849.2" r="3.8"/><circle cx="1164.5" cy="892.4" r="3.8"/><circle cx="1185.6" cy="836.2" r="3.8"/><circle cx="1160.3" cy="864.9" r="3.8"/><circle cx="1286.8" cy="851.5" r="3.8"/><circle cx="1219.3" cy="868.1" r="3.8"/><circle cx="1202.5" cy="871.6" r="3.8"/><circle cx="1265.7" cy="856.5" r="3.8"/><circle cx="1244.6" cy="845.4" r="3.8"/><circle cx="1177.2" cy="894.7" r="3.8"/><circle cx="1253.1" cy="854" r="3.8"/><circle cx="1160.3" cy="894.2" r="3.8"/><circle cx="1265.7" cy="841.8" r="3.8"/><circle cx="1223.6" cy="899.1" r="3.8"/><circle cx="1206.7" cy="850.2" r="3.8"/><circle cx="1282.6" cy="849.3" r="3.8"/><circle cx="1248.9" cy="861.4" r="3.8"/><circle cx="1223.6" cy="859.6" r="3.8"/><circle cx="1307.9" cy="823.4" r="3.8"/><circle cx="1265.7" cy="861.6" r="3.8"/><circle cx="1210.9" cy="873.3" r="3.8"/><circle cx="1198.2" cy="891.5" r="3.8"/><circle cx="1202.5" cy="873.4" r="3.8"/><circle cx="1181.4" cy="882.5" r="3.8"/><circle cx="1181.4" cy="903.3" r="3.8"/><circle cx="1202.5" cy="890" r="3.8"/><circle cx="1223.6" cy="883.1" r="3.8"/><circle cx="1219.3" cy="833.7" r="3.8"/><circle cx="1160.3" cy="898.3" r="3.8"/><circle cx="1198.2" cy="863.8" r="3.8"/><circle cx="1223.6" cy="859.1" r="3.8"/><circle cx="1244.6" cy="845.8" r="3.8"/><circle cx="1177.2" cy="866.2" r="3.8"/><circle cx="1160.3" cy="889.7" r="3.8"/><circle cx="1219.3" cy="882.5" r="3.8"/><circle cx="1202.5" cy="850.9" r="3.8"/><circle cx="1265.7" cy="842.6" r="3.8"/><circle cx="1160.3" cy="895.5" r="3.8"/><circle cx="1189.8" cy="881.6" r="3.8"/><circle cx="1189.8" cy="864.6" r="3.8"/><circle cx="1202.5" cy="844.4" r="3.8"/><circle cx="1265.7" cy="858.1" r="3.8"/><circle cx="1202.5" cy="851.6" r="3.8"/><circle cx="1215.1" cy="849.6" r="3.8"/><circle cx="1232" cy="859.3" r="3.8"/><circle cx="1206.7" cy="845.1" r="3.8"/><circle cx="1160.3" cy="880.4" r="3.8"/><circle cx="1299.5" cy="838.1" r="3.8"/><circle cx="1177.2" cy="866.5" r="3.8"/><circle cx="1198.2" cy="874.3" r="3.8"/><circle cx="1265.7" cy="871.7" r="3.8"/><circle cx="1181.4" cy="897.5" r="3.8"/><circle cx="1219.3" cy="869.2" r="3.8"/><circle cx="1261.5" cy="842.8" r="3.8"/><circle cx="1286.8" cy="865.3" r="3.8"/><circle cx="1202.5" cy="880.8" r="3.8"/><circle cx="1177.2" cy="907.3" r="3.8"/><circle cx="1202.5" cy="873.5" r="3.8"/><circle cx="1202.5" cy="893.8" r="3.8"/><circle cx="1265.7" cy="819.2" r="3.8"/><circle cx="1269.9" cy="850.3" r="3.8"/><circle cx="1312.1" cy="836.1" r="3.8"/><circle cx="1244.6" cy="847.4" r="3.8"/><circle cx="1164.5" cy="858.1" r="3.8"/><circle cx="1269.9" cy="866.6" r="3.8"/><circle cx="1215.1" cy="865.3" r="3.8"/><circle cx="1181.4" cy="894.2" r="3.8"/><circle cx="1274.2" cy="844.9" r="3.8"/><circle cx="1232" cy="876.5" r="3.8"/><circle cx="1185.6" cy="894.6" r="3.8"/><circle cx="1181.4" cy="857.4" r="3.8"/><circle cx="1194" cy="854.6" r="3.8"/><circle cx="1215.1" cy="875.6" r="3.8"/><circle cx="1265.7" cy="858.1" r="3.8"/><circle cx="1244.6" cy="846.5" r="3.8"/><circle cx="1253.1" cy="860.3" r="3.8"/><circle cx="1269.9" cy="861" r="3.8"/><circle cx="1202.5" cy="867.2" r="3.8"/><circle cx="1202.5" cy="871.9" r="3.8"/><circle cx="1261.5" cy="853.9" r="3.8"/><circle cx="1282.6" cy="837.6" r="3.8"/><circle cx="1278.4" cy="842.3" r="3.8"/><circle cx="1244.6" cy="828" r="3.8"/><circle cx="1160.3" cy="859.4" r="3.8"/><circle cx="1232" cy="879.6" r="3.8"/><circle cx="1181.4" cy="854.2" r="3.8"/><circle cx="1244.6" cy="863.9" r="3.8"/><circle cx="1286.8" cy="834.3" r="3.8"/><circle cx="1244.6" cy="857.5" r="3.8"/><circle cx="1227.8" cy="845" r="3.8"/><circle cx="1219.3" cy="856.2" r="3.8"/><circle cx="1282.6" cy="845.5" r="3.8"/><circle cx="1312.1" cy="828.3" r="3.8"/><circle cx="1223.6" cy="853.3" r="3.8"/><circle cx="1227.8" cy="862.3" r="3.8"/><circle cx="1244.6" cy="831" r="3.8"/><circle cx="1307.9" cy="824.9" r="3.8"/><circle cx="1286.8" cy="852.7" r="3.8"/><circle cx="1248.9" cy="846" r="3.8"/><circle cx="1202.5" cy="869.3" r="3.8"/><circle cx="1177.2" cy="909.9" r="3.8"/><circle cx="1139.2" cy="889.7" r="3.8"/><circle cx="1282.6" cy="830.4" r="3.8"/><circle cx="1189.8" cy="897.9" r="3.8"/><circle cx="1223.6" cy="897.6" r="3.8"/><circle cx="1206.7" cy="890.2" r="3.8"/><circle cx="1223.6" cy="904.1" r="3.8"/><circle cx="1160.3" cy="865.8" r="3.8"/><circle cx="1219.3" cy="851.8" r="3.8"/><circle cx="1312.1" cy="821.1" r="3.8"/><circle cx="1244.6" cy="864.2" r="3.8"/><circle cx="1156.1" cy="899.7" r="3.8"/><circle cx="1156.1" cy="894.7" r="3.8"/><circle cx="1135" cy="889.6" r="3.8"/><circle cx="1181.4" cy="863.4" r="3.8"/><circle cx="1177.2" cy="882.1" r="3.8"/><circle cx="1286.8" cy="849.6" r="3.8"/><circle cx="1181.4" cy="908.6" r="3.8"/><circle cx="1291" cy="858.1" r="3.8"/><circle cx="1194" cy="879.5" r="3.8"/><circle cx="1160.3" cy="855.2" r="3.8"/><circle cx="1160.3" cy="872.9" r="3.8"/><circle cx="1223.6" cy="878.2" r="3.8"/><circle cx="1227.8" cy="894.1" r="3.8"/><circle cx="1244.6" cy="857.7" r="3.8"/><circle cx="1202.5" cy="883.5" r="3.8"/><circle cx="1274.2" cy="846.4" r="3.8"/><circle cx="1244.6" cy="869.2" r="3.8"/><circle cx="1160.3" cy="887" r="3.8"/><circle cx="1139.2" cy="888.3" r="3.8"/><circle cx="1227.8" cy="894.4" r="3.8"/><circle cx="1160.3" cy="881.1" r="3.8"/><circle cx="1291" cy="851.8" r="3.8"/><circle cx="1177.2" cy="911.8" r="3.8"/><circle cx="1265.7" cy="852" r="3.8"/><circle cx="1181.4" cy="879.7" r="3.8"/><circle cx="1227.8" cy="857.8" r="3.8"/><circle cx="1236.2" cy="844.3" r="3.8"/><circle cx="1257.3" cy="854.7" r="3.8"/><circle cx="1269.9" cy="867.3" r="3.8"/><circle cx="1206.7" cy="849.1" r="3.8"/><circle cx="1194" cy="891.5" r="3.8"/><circle cx="1286.8" cy="836.5" r="3.8"/><circle cx="1286.8" cy="838.8" r="3.8"/><circle cx="1223.6" cy="853.5" r="3.8"/><circle cx="1265.7" cy="843.2" r="3.8"/><circle cx="1303.7" cy="824.4" r="3.8"/><circle cx="1219.3" cy="871.4" r="3.8"/><circle cx="1206.7" cy="878.2" r="3.8"/><circle cx="1244.6" cy="859.5" r="3.8"/><circle cx="1265.7" cy="845.4" r="3.8"/><circle cx="1223.6" cy="897.3" r="3.8"/><circle cx="1312.1" cy="847.7" r="3.8"/><circle cx="1210.9" cy="864.1" r="3.8"/><circle cx="1215.1" cy="887" r="3.8"/><circle cx="1185.6" cy="863.1" r="3.8"/><circle cx="1181.4" cy="884.1" r="3.8"/><circle cx="1185.6" cy="907" r="3.8"/><circle cx="1202.5" cy="856.8" r="3.8"/><circle cx="1139.2" cy="890.7" r="3.8"/><circle cx="1282.6" cy="834" r="3.8"/><circle cx="1160.3" cy="895.9" r="3.8"/><circle cx="1210.9" cy="892" r="3.8"/><circle cx="1181.4" cy="879.7" r="3.8"/><circle cx="1223.6" cy="864.4" r="3.8"/><circle cx="1269.9" cy="868.4" r="3.8"/><circle cx="1164.5" cy="880" r="3.8"/><circle cx="1198.2" cy="872.6" r="3.8"/><circle cx="1189.8" cy="888" r="3.8"/><circle cx="1219.3" cy="866.6" r="3.8"/><circle cx="1244.6" cy="856.5" r="3.8"/><circle cx="1181.4" cy="856.8" r="3.8"/><circle cx="1265.7" cy="854.1" r="3.8"/><circle cx="1265.7" cy="838" r="3.8"/><circle cx="1202.5" cy="868.8" r="3.8"/><circle cx="1223.6" cy="882.9" r="3.8"/><circle cx="1286.8" cy="840.6" r="3.8"/><circle cx="1329" cy="820.5" r="3.8"/><circle cx="1265.7" cy="837.3" r="3.8"/><circle cx="1177.2" cy="890.3" r="3.8"/><circle cx="1160.3" cy="900.2" r="3.8"/><circle cx="1215.1" cy="881.1" r="3.8"/><circle cx="1202.5" cy="892.6" r="3.8"/><circle cx="1219.3" cy="831.9" r="3.8"/><circle cx="1274.2" cy="842.8" r="3.8"/><circle cx="1265.7" cy="856.3" r="3.8"/><circle cx="1160.3" cy="852.1" r="3.8"/><circle cx="1227.8" cy="856.8" r="3.8"/><circle cx="1215.1" cy="880.4" r="3.8"/><circle cx="1329" cy="817.9" r="3.8"/><circle cx="1156.1" cy="877.4" r="3.8"/><circle cx="1172.9" cy="883.4" r="3.8"/><circle cx="1244.6" cy="863.9" r="3.8"/><circle cx="1223.6" cy="885.9" r="3.8"/><circle cx="1286.8" cy="849.8" r="3.8"/><circle cx="1189.8" cy="890" r="3.8"/><circle cx="1265.7" cy="852.4" r="3.8"/><circle cx="1160.3" cy="890.7" r="3.8"/><circle cx="1160.3" cy="882.5" r="3.8"/><circle cx="1223.6" cy="851.5" r="3.8"/><circle cx="1265.7" cy="826" r="3.8"/><circle cx="1312.1" cy="835.4" r="3.8"/><circle cx="1269.9" cy="860.8" r="3.8"/><circle cx="1261.5" cy="823.3" r="3.8"/><circle cx="1202.5" cy="851.4" r="3.8"/><circle cx="1265.7" cy="836.9" r="3.8"/><circle cx="1206.7" cy="869" r="3.8"/><circle cx="1286.8" cy="839.8" r="3.8"/><circle cx="1181.4" cy="878.2" r="3.8"/><circle cx="1240.4" cy="873.8" r="3.8"/><circle cx="1194" cy="887.9" r="3.8"/><circle cx="1164.5" cy="879.6" r="3.8"/><circle cx="1286.8" cy="835.7" r="3.8"/><circle cx="1160.3" cy="898.9" r="3.8"/><circle cx="1202.5" cy="885.8" r="3.8"/><circle cx="1269.9" cy="852.3" r="3.8"/><circle cx="1265.7" cy="830.7" r="3.8"/><circle cx="1177.2" cy="886.8" r="3.8"/><circle cx="1181.4" cy="879.7" r="3.8"/><circle cx="1215.1" cy="835.3" r="3.8"/><circle cx="1206.7" cy="876.4" r="3.8"/><circle cx="1227.8" cy="863.6" r="3.8"/><circle cx="1265.7" cy="856" r="3.8"/><circle cx="1206.7" cy="846.8" r="3.8"/><circle cx="1244.6" cy="859.9" r="3.8"/><circle cx="1223.6" cy="862.8" r="3.8"/><circle cx="1223.6" cy="850.5" r="3.8"/><circle cx="1198.2" cy="864.9" r="3.8"/><circle cx="1248.9" cy="852.8" r="3.8"/><circle cx="1261.5" cy="836" r="3.8"/><circle cx="1307.9" cy="835.9" r="3.8"/><circle cx="1156.1" cy="872.4" r="3.8"/><circle cx="1240.4" cy="841.2" r="3.8"/><circle cx="1223.6" cy="860" r="3.8"/><circle cx="1269.9" cy="859.6" r="3.8"/><circle cx="1227.8" cy="852.9" r="3.8"/><circle cx="1164.5" cy="904.8" r="3.8"/><circle cx="1261.5" cy="828.4" r="3.8"/><circle cx="1240.4" cy="832.9" r="3.8"/><circle cx="1223.6" cy="886.7" r="3.8"/><circle cx="1253.1" cy="864.2" r="3.8"/><circle cx="1198.2" cy="887.3" r="3.8"/><circle cx="1185.6" cy="844.6" r="3.8"/><circle cx="1286.8" cy="840.4" r="3.8"/><circle cx="1223.6" cy="866.3" r="3.8"/><circle cx="1223.6" cy="847.9" r="3.8"/><circle cx="1227.8" cy="883.8" r="3.8"/><circle cx="1206.7" cy="839.5" r="3.8"/><circle cx="1286.8" cy="855.5" r="3.8"/><circle cx="1210.9" cy="867.5" r="3.8"/><circle cx="1181.4" cy="869" r="3.8"/><circle cx="1181.4" cy="840.9" r="3.8"/><circle cx="1265.7" cy="823.3" r="3.8"/><circle cx="1265.7" cy="845.4" r="3.8"/><circle cx="1160.3" cy="873.9" r="3.8"/><circle cx="1185.6" cy="844.5" r="3.8"/><circle cx="1210.9" cy="867" r="3.8"/><circle cx="1202.5" cy="847.2" r="3.8"/><circle cx="1181.4" cy="842.1" r="3.8"/><circle cx="1181.4" cy="899.8" r="3.8"/><circle cx="1202.5" cy="897.6" r="3.8"/><circle cx="1232" cy="867.3" r="3.8"/><circle cx="1181.4" cy="864.7" r="3.8"/><circle cx="1164.5" cy="880.4" r="3.8"/><circle cx="1202.5" cy="876.6" r="3.8"/><circle cx="1223.6" cy="845.8" r="3.8"/><circle cx="1286.8" cy="842" r="3.8"/><circle cx="1139.2" cy="891.5" r="3.8"/><circle cx="1261.5" cy="869.4" r="3.8"/><circle cx="1240.4" cy="860.1" r="3.8"/><circle cx="1160.3" cy="900.7" r="3.8"/><circle cx="1253.1" cy="855.6" r="3.8"/><circle cx="1265.7" cy="842.7" r="3.8"/><circle cx="1223.6" cy="882.1" r="3.8"/><circle cx="1206.7" cy="891" r="3.8"/><circle cx="1202.5" cy="896.8" r="3.8"/><circle cx="1232" cy="867.9" r="3.8"/><circle cx="1160.3" cy="861.6" r="3.8"/><circle cx="1274.2" cy="842.1" r="3.8"/><circle cx="1223.6" cy="851.4" r="3.8"/><circle cx="1215.1" cy="868.7" r="3.8"/><circle cx="1198.2" cy="852.9" r="3.8"/><circle cx="1206.7" cy="839.9" r="3.8"/><circle cx="1265.7" cy="824.1" r="3.8"/><circle cx="1181.4" cy="907" r="3.8"/><circle cx="1282.6" cy="873.4" r="3.8"/><circle cx="1244.6" cy="864.2" r="3.8"/><circle cx="1160.3" cy="876.1" r="3.8"/><circle cx="1244.6" cy="843.9" r="3.8"/><circle cx="1219.3" cy="897.8" r="3.8"/><circle cx="1181.4" cy="894" r="3.8"/><circle cx="1198.2" cy="860.3" r="3.8"/><circle cx="1210.9" cy="848.2" r="3.8"/><circle cx="1248.9" cy="859.3" r="3.8"/><circle cx="1227.8" cy="863.1" r="3.8"/><circle cx="1244.6" cy="842" r="3.8"/><circle cx="1164.5" cy="864.6" r="3.8"/><circle cx="1202.5" cy="892.8" r="3.8"/><circle cx="1227.8" cy="850.4" r="3.8"/><circle cx="1269.9" cy="863.1" r="3.8"/><circle cx="1160.3" cy="857.4" r="3.8"/><circle cx="1248.9" cy="859.1" r="3.8"/><circle cx="1223.6" cy="898.6" r="3.8"/><circle cx="1219.3" cy="848.2" r="3.8"/><circle cx="1244.6" cy="868.9" r="3.8"/><circle cx="1244.6" cy="842.4" r="3.8"/><circle cx="1198.2" cy="849.3" r="3.8"/><circle cx="1269.9" cy="869.6" r="3.8"/><circle cx="1160.3" cy="884.8" r="3.8"/><circle cx="1269.9" cy="827.2" r="3.8"/><circle cx="1286.8" cy="850.3" r="3.8"/><circle cx="1236.2" cy="872.1" r="3.8"/><circle cx="1291" cy="841" r="3.8"/><circle cx="1282.6" cy="839" r="3.8"/><circle cx="1215.1" cy="872.1" r="3.8"/><circle cx="1227.8" cy="882" r="3.8"/><circle cx="1265.7" cy="839.5" r="3.8"/><circle cx="1227.8" cy="832.3" r="3.8"/><circle cx="1303.7" cy="828.6" r="3.8"/><circle cx="1286.8" cy="858.5" r="3.8"/><circle cx="1265.7" cy="824.9" r="3.8"/><circle cx="1257.3" cy="856.2" r="3.8"/><circle cx="1244.6" cy="852.8" r="3.8"/><circle cx="1278.4" cy="839.2" r="3.8"/><circle cx="1248.9" cy="857.6" r="3.8"/><circle cx="1223.6" cy="907.1" r="3.8"/><circle cx="1206.7" cy="880.8" r="3.8"/><circle cx="1210.9" cy="849.2" r="3.8"/><circle cx="1274.2" cy="849.9" r="3.8"/><circle cx="1307.9" cy="817.4" r="3.8"/><circle cx="1248.9" cy="850.3" r="3.8"/><circle cx="1185.6" cy="858.3" r="3.8"/><circle cx="1181.4" cy="912.3" r="3.8"/><circle cx="1312.1" cy="836.5" r="3.8"/><circle cx="1286.8" cy="856.7" r="3.8"/><circle cx="1265.7" cy="829.1" r="3.8"/><circle cx="1202.5" cy="876.2" r="3.8"/><circle cx="1291" cy="830.7" r="3.8"/><circle cx="1223.6" cy="887.2" r="3.8"/><circle cx="1202.5" cy="893.6" r="3.8"/><circle cx="1160.3" cy="884.7" r="3.8"/><circle cx="1265.7" cy="826.5" r="3.8"/><circle cx="1181.4" cy="886.9" r="3.8"/><circle cx="1206.7" cy="886.8" r="3.8"/><circle cx="1244.6" cy="845" r="3.8"/><circle cx="1181.4" cy="869" r="3.8"/><circle cx="1181.4" cy="904" r="3.8"/><circle cx="1202.5" cy="841.8" r="3.8"/><circle cx="1244.6" cy="835.3" r="3.8"/><circle cx="1198.2" cy="890.5" r="3.8"/><circle cx="1244.6" cy="854.4" r="3.8"/><circle cx="1181.4" cy="907.9" r="3.8"/><circle cx="1236.2" cy="866.4" r="3.8"/><circle cx="1223.6" cy="885.3" r="3.8"/><circle cx="1236.2" cy="863.3" r="3.8"/><circle cx="1265.7" cy="870.3" r="3.8"/><circle cx="1286.8" cy="852.4" r="3.8"/><circle cx="1219.3" cy="873.9" r="3.8"/><circle cx="1312.1" cy="851.6" r="3.8"/><circle cx="1269.9" cy="827.4" r="3.8"/><circle cx="1206.7" cy="854.4" r="3.8"/><circle cx="1160.3" cy="889.7" r="3.8"/><circle cx="1202.5" cy="873.1" r="3.8"/><circle cx="1274.2" cy="865.6" r="3.8"/><circle cx="1181.4" cy="896.5" r="3.8"/><circle cx="1202.5" cy="870.3" r="3.8"/><circle cx="1265.7" cy="843.6" r="3.8"/><circle cx="1215.1" cy="843" r="3.8"/><circle cx="1244.6" cy="876.4" r="3.8"/><circle cx="1185.6" cy="862.6" r="3.8"/><circle cx="1194" cy="884.4" r="3.8"/><circle cx="1160.3" cy="860.7" r="3.8"/><circle cx="1329" cy="820.6" r="3.8"/><circle cx="1244.6" cy="836.6" r="3.8"/><circle cx="1206.7" cy="869.8" r="3.8"/><circle cx="1219.3" cy="831.7" r="3.8"/><circle cx="1261.5" cy="823.9" r="3.8"/><circle cx="1156.1" cy="895" r="3.8"/><circle cx="1194" cy="883.6" r="3.8"/><circle cx="1274.2" cy="853.4" r="3.8"/><circle cx="1160.3" cy="887.6" r="3.8"/><circle cx="1185.6" cy="844" r="3.8"/><circle cx="1181.4" cy="891.1" r="3.8"/><circle cx="1223.6" cy="876" r="3.8"/><circle cx="1223.6" cy="863" r="3.8"/><circle cx="1248.9" cy="874.8" r="3.8"/><circle cx="1244.6" cy="831.2" r="3.8"/><circle cx="1160.3" cy="869.6" r="3.8"/><circle cx="1307.9" cy="830.4" r="3.8"/><circle cx="1278.4" cy="853.1" r="3.8"/><circle cx="1219.3" cy="861" r="3.8"/><circle cx="1181.4" cy="848.8" r="3.8"/><circle cx="1202.5" cy="874.6" r="3.8"/><circle cx="1232" cy="876.3" r="3.8"/><circle cx="1177.2" cy="899.3" r="3.8"/><circle cx="1257.3" cy="853.9" r="3.8"/><circle cx="1185.6" cy="858.2" r="3.8"/><circle cx="1223.6" cy="839.9" r="3.8"/><circle cx="1244.6" cy="843.1" r="3.8"/><circle cx="1286.8" cy="867.2" r="3.8"/><circle cx="1232" cy="864.5" r="3.8"/><circle cx="1189.8" cy="849.5" r="3.8"/><circle cx="1227.8" cy="844.2" r="3.8"/><circle cx="1210.9" cy="844.6" r="3.8"/><circle cx="1282.6" cy="846.4" r="3.8"/><circle cx="1181.4" cy="884" r="3.8"/><circle cx="1286.8" cy="865" r="3.8"/><circle cx="1286.8" cy="849.2" r="3.8"/><circle cx="1265.7" cy="853.4" r="3.8"/><circle cx="1194" cy="892.1" r="3.8"/><circle cx="1160.3" cy="882.4" r="3.8"/><circle cx="1265.7" cy="860.9" r="3.8"/><circle cx="1240.4" cy="856.1" r="3.8"/><circle cx="1168.7" cy="889.1" r="3.8"/><circle cx="1210.9" cy="842.5" r="3.8"/><circle cx="1215.1" cy="847.5" r="3.8"/><circle cx="1223.6" cy="892.1" r="3.8"/><circle cx="1177.2" cy="869.7" r="3.8"/><circle cx="1215.1" cy="861.5" r="3.8"/><circle cx="1177.2" cy="862" r="3.8"/><circle cx="1227.8" cy="873" r="3.8"/><circle cx="1244.6" cy="868.8" r="3.8"/><circle cx="1227.8" cy="880.6" r="3.8"/><circle cx="1269.9" cy="853.4" r="3.8"/><circle cx="1286.8" cy="856.6" r="3.8"/><circle cx="1181.4" cy="875.8" r="3.8"/><circle cx="1177.2" cy="908.1" r="3.8"/><circle cx="1202.5" cy="850" r="3.8"/><circle cx="1198.2" cy="851.9" r="3.8"/><circle cx="1265.7" cy="821.8" r="3.8"/><circle cx="1244.6" cy="877.9" r="3.8"/><circle cx="1181.4" cy="837.9" r="3.8"/><circle cx="1164.5" cy="856.7" r="3.8"/><circle cx="1223.6" cy="867.9" r="3.8"/></g>
</g>
<text class="tk" style="font-size:30.53px" text-anchor="middle" transform="translate(992 1111.1) scale(1 1.12)">10</text>
<text class="tk" style="font-size:30.53px" text-anchor="middle" transform="translate(1202.9 1111.1) scale(1 1.12)">15</text>
<text class="tk" style="font-size:30.53px" text-anchor="middle" transform="translate(1413.7 1111.1) scale(1 1.12)">20</text>
<text class="tk" style="font-size:30.53px" text-anchor="middle" transform="translate(1624.6 1111.1) scale(1 1.12)">25</text>
<text class="tk" style="font-size:30.53px" text-anchor="end" transform="translate(969.7 708) scale(1 1.12)">5</text>
<text class="tk" style="font-size:30.53px" text-anchor="end" transform="translate(969.7 858.4) scale(1 1.12)">0</text>
<text class="tk" style="font-size:30.53px" text-anchor="end" transform="translate(969.7 1008.9) scale(1 1.12)">-5</text>
<text class="tt" style="font-size:34.78px" text-anchor="middle" transform="translate(1307.6 1147.6) scale(1 1.04)">Mid-upper arm circumference</text>
<text class="tt" style="font-size:34.78px" text-anchor="middle" transform="translate(1289 1188.7) scale(1 1.04)">(D)BAZ</text>
<text class="tt yt" style="font-size:34.93px" text-anchor="middle" transform="translate(934 844.8) rotate(-90) scale(1 1.04)">BMI-for-Age Z score</text>
</g>
</svg>
</body>
</html>
